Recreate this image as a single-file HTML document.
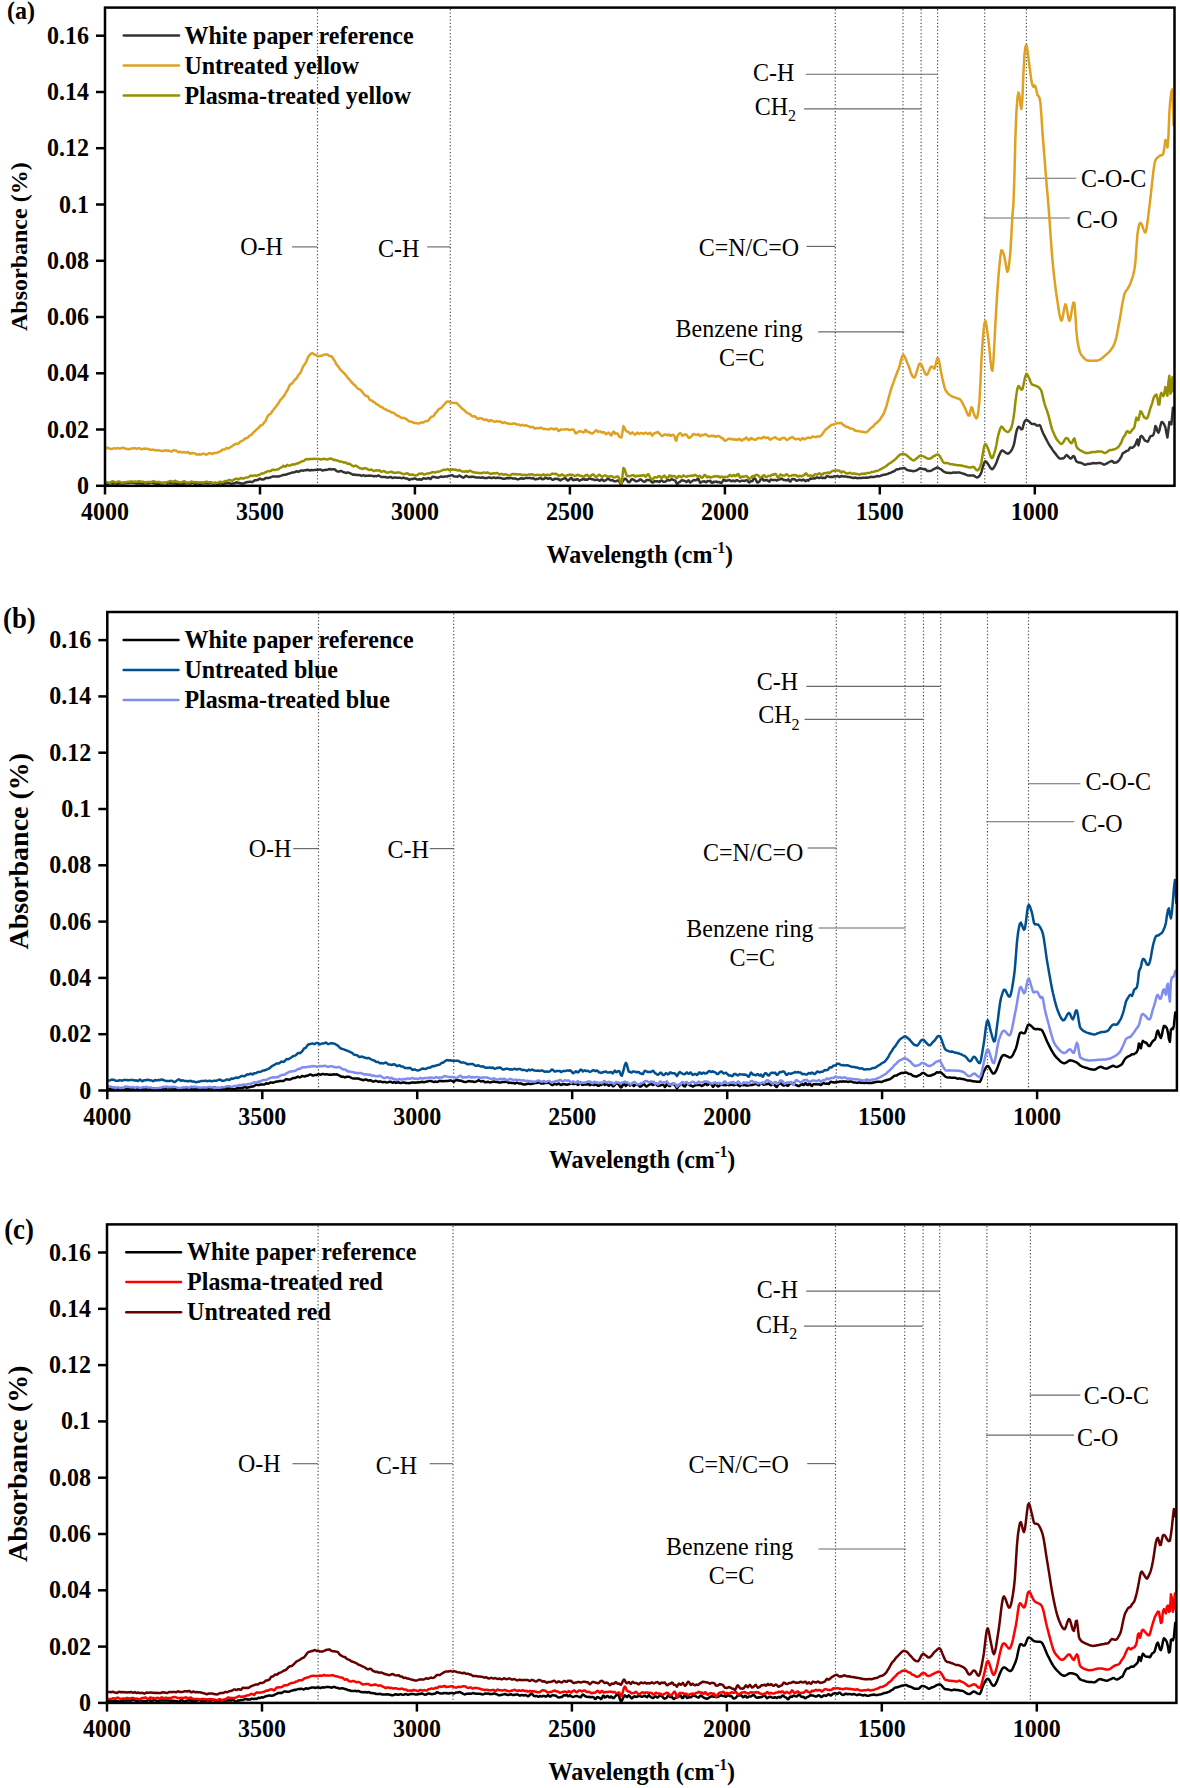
<!DOCTYPE html>
<html><head><meta charset="utf-8"><style>
html,body{margin:0;padding:0;background:#fff;}
svg{display:block;}
text{font-family:"Liberation Serif",serif;}
.b{font-weight:bold;}
</style></head><body>
<svg width="1180" height="1788" viewBox="0 0 1180 1788">
<rect width="1180" height="1788" fill="#fff"/>
<line x1="317.5" y1="9.1" x2="317.5" y2="484.3" stroke="#555" stroke-width="1.2" stroke-dasharray="1.3 2.1"/>
<line x1="450.3" y1="9.1" x2="450.3" y2="484.3" stroke="#555" stroke-width="1.2" stroke-dasharray="1.3 2.1"/>
<line x1="835.3" y1="9.1" x2="835.3" y2="484.3" stroke="#555" stroke-width="1.2" stroke-dasharray="1.3 2.1"/>
<line x1="903.0" y1="9.1" x2="903.0" y2="484.3" stroke="#555" stroke-width="1.2" stroke-dasharray="1.3 2.1"/>
<line x1="921.1" y1="9.1" x2="921.1" y2="484.3" stroke="#555" stroke-width="1.2" stroke-dasharray="1.3 2.1"/>
<line x1="937.6" y1="9.1" x2="937.6" y2="484.3" stroke="#555" stroke-width="1.2" stroke-dasharray="1.3 2.1"/>
<line x1="984.7" y1="9.1" x2="984.7" y2="484.3" stroke="#555" stroke-width="1.2" stroke-dasharray="1.3 2.1"/>
<line x1="1026.4" y1="9.1" x2="1026.4" y2="484.3" stroke="#555" stroke-width="1.2" stroke-dasharray="1.3 2.1"/>
<line x1="292.0" y1="246.9" x2="317.5" y2="246.9" stroke="#6a6a6a" stroke-width="1.15"/>
<line x1="427.2" y1="246.9" x2="450.3" y2="246.9" stroke="#6a6a6a" stroke-width="1.15"/>
<line x1="805.8" y1="74.2" x2="937.9" y2="74.2" stroke="#6a6a6a" stroke-width="1.15"/>
<line x1="804.0" y1="108.9" x2="921.2" y2="108.9" stroke="#6a6a6a" stroke-width="1.15"/>
<line x1="1025.6" y1="178.2" x2="1076.3" y2="178.2" stroke="#6a6a6a" stroke-width="1.15"/>
<line x1="983.7" y1="218.0" x2="1069.8" y2="218.0" stroke="#6a6a6a" stroke-width="1.15"/>
<line x1="806.5" y1="246.4" x2="835.3" y2="246.4" stroke="#6a6a6a" stroke-width="1.15"/>
<line x1="818.2" y1="331.9" x2="904.2" y2="331.9" stroke="#6a6a6a" stroke-width="1.15"/>
<g fill="none" stroke-width="2.5" stroke-linejoin="round" stroke-linecap="round">
<path stroke="#333333" d="M106.4 483.5 L107.4 484.0 L108.4 483.9 L109.4 483.3 L110.4 483.0 L111.4 483.2 L112.4 483.4 L113.4 483.5 L114.4 483.2 L115.4 483.1 L116.4 483.5 L117.4 483.7 L118.4 483.5 L119.4 483.3 L120.4 483.2 L121.4 483.5 L122.4 483.6 L123.4 483.3 L124.4 483.3 L125.4 483.4 L126.4 482.9 L127.4 482.7 L128.4 483.1 L129.4 482.8 L130.4 482.4 L131.4 482.6 L132.4 482.8 L133.4 482.5 L134.4 482.6 L135.4 483.2 L136.4 483.6 L137.4 483.2 L138.4 483.1 L139.4 483.4 L140.4 483.6 L141.4 483.4 L142.4 483.6 L143.4 483.7 L144.4 483.3 L145.4 483.0 L146.4 483.3 L147.4 483.6 L148.4 483.5 L149.4 482.9 L150.4 482.7 L151.4 482.6 L152.4 482.6 L153.4 483.1 L154.4 483.4 L155.4 483.4 L156.4 483.8 L157.4 483.9 L158.4 483.7 L159.4 483.7 L160.4 483.5 L161.4 483.1 L162.4 483.4 L163.4 483.3 L164.4 482.8 L165.4 483.1 L166.4 483.4 L167.4 483.5 L168.4 483.3 L169.4 483.3 L170.4 483.3 L171.4 483.2 L172.4 483.3 L173.4 483.5 L174.4 483.4 L175.4 483.4 L176.4 483.7 L177.4 483.7 L178.4 483.5 L179.4 483.7 L180.4 484.2 L181.4 483.9 L182.4 483.2 L183.4 483.4 L184.4 483.6 L185.4 483.2 L186.4 483.2 L187.4 483.3 L188.4 483.2 L189.4 483.5 L190.4 483.6 L191.4 482.9 L192.4 482.7 L193.4 482.8 L194.4 483.4 L195.4 484.2 L196.4 484.0 L197.4 482.9 L198.4 482.9 L199.4 483.7 L200.4 484.0 L201.4 483.6 L202.4 483.2 L203.4 483.3 L204.4 483.3 L205.4 483.1 L206.4 483.1 L207.4 483.4 L208.4 483.5 L209.4 483.3 L210.4 483.0 L211.4 482.7 L212.4 483.1 L213.4 483.6 L214.4 483.2 L215.4 483.0 L216.4 483.6 L217.4 484.1 L218.4 484.1 L219.4 483.6 L220.4 482.9 L221.4 482.9 L222.4 484.0 L223.4 484.3 L224.4 483.3 L225.4 483.0 L226.4 483.3 L227.4 483.1 L228.4 483.0 L229.4 483.2 L230.4 483.5 L231.4 483.7 L232.4 483.6 L233.4 483.5 L234.4 483.3 L235.4 482.8 L236.4 482.2 L237.4 482.4 L238.4 483.0 L239.4 483.1 L240.4 483.2 L241.4 483.5 L242.4 483.6 L243.4 483.5 L244.4 483.2 L245.4 482.7 L246.4 482.2 L247.4 482.0 L248.4 481.9 L249.4 481.8 L250.4 481.8 L251.4 482.0 L252.4 482.0 L253.4 481.4 L254.4 480.5 L255.4 480.3 L256.4 480.3 L257.4 480.1 L258.4 479.6 L259.4 478.8 L260.4 478.8 L261.4 479.3 L262.4 479.4 L263.4 479.4 L264.4 479.0 L265.4 478.1 L266.4 477.9 L267.4 478.0 L268.4 477.9 L269.4 477.7 L270.4 477.5 L271.4 477.0 L272.4 476.5 L273.4 476.4 L274.4 476.5 L275.4 476.4 L276.4 476.4 L277.4 476.6 L278.4 476.6 L279.4 476.3 L280.4 475.9 L281.4 475.6 L282.4 475.2 L283.4 474.9 L284.4 474.8 L285.4 474.7 L286.4 474.6 L287.4 474.1 L288.4 473.7 L289.4 473.6 L290.4 473.2 L291.4 472.8 L292.4 472.6 L293.4 472.5 L294.4 472.3 L295.4 471.9 L296.4 471.3 L297.4 471.5 L298.4 471.8 L299.4 471.4 L300.4 470.7 L301.4 470.4 L302.4 470.5 L303.4 470.7 L304.4 470.3 L305.4 470.3 L306.4 470.2 L307.4 469.7 L308.4 470.0 L309.4 470.4 L310.4 470.2 L311.4 470.1 L312.4 470.2 L313.4 470.1 L314.4 469.9 L315.4 469.9 L316.4 469.8 L317.4 469.7 L318.4 469.8 L319.4 469.6 L320.4 469.4 L321.4 470.0 L322.4 470.6 L323.4 470.3 L324.4 469.9 L325.4 469.9 L326.4 469.7 L327.4 469.7 L328.4 469.4 L329.4 469.0 L330.4 469.3 L331.4 469.5 L332.4 469.3 L333.4 469.2 L334.4 469.3 L335.4 469.9 L336.4 471.0 L337.4 471.5 L338.4 471.4 L339.4 471.5 L340.4 471.1 L341.4 470.9 L342.4 471.6 L343.4 472.2 L344.4 472.3 L345.4 472.7 L346.4 472.9 L347.4 472.5 L348.4 472.5 L349.4 473.0 L350.4 473.4 L351.4 473.8 L352.4 474.5 L353.4 474.8 L354.4 474.5 L355.4 474.7 L356.4 475.0 L357.4 475.1 L358.4 475.1 L359.4 474.9 L360.4 475.4 L361.4 475.9 L362.4 475.6 L363.4 475.2 L364.4 475.6 L365.4 476.0 L366.4 475.7 L367.4 475.7 L368.4 475.8 L369.4 475.6 L370.4 475.7 L371.4 475.7 L372.4 475.7 L373.4 476.3 L374.4 476.2 L375.4 475.9 L376.4 476.2 L377.4 475.9 L378.4 475.5 L379.4 475.9 L380.4 476.6 L381.4 476.9 L382.4 476.9 L383.4 476.9 L384.4 477.0 L385.4 477.1 L386.4 477.4 L387.4 477.4 L388.4 477.4 L389.4 477.3 L390.4 476.9 L391.4 477.2 L392.4 477.9 L393.4 477.8 L394.4 477.6 L395.4 477.6 L396.4 477.7 L397.4 477.7 L398.4 477.7 L399.4 477.7 L400.4 477.8 L401.4 478.2 L402.4 478.0 L403.4 477.6 L404.4 478.0 L405.4 478.4 L406.4 478.4 L407.4 478.4 L408.4 479.4 L409.4 480.0 L410.4 479.2 L411.4 478.9 L412.4 479.1 L413.4 478.9 L414.4 478.4 L415.4 478.6 L416.4 479.1 L417.4 479.5 L418.4 479.6 L419.4 479.1 L420.4 479.5 L421.4 479.8 L422.4 478.9 L423.4 478.3 L424.4 478.5 L425.4 478.6 L426.4 478.7 L427.4 478.3 L428.4 477.9 L429.4 478.4 L430.4 479.1 L431.4 478.1 L432.4 476.8 L433.4 476.8 L434.4 477.1 L435.4 477.2 L436.4 477.4 L437.4 477.7 L438.4 477.6 L439.4 477.2 L440.4 476.8 L441.4 476.5 L442.4 476.7 L443.4 476.9 L444.4 476.6 L445.4 476.4 L446.4 476.6 L447.4 476.4 L448.4 476.0 L449.4 475.7 L450.4 475.7 L451.4 475.3 L452.4 475.2 L453.4 476.1 L454.4 476.5 L455.4 476.4 L456.4 476.6 L457.4 476.7 L458.4 476.1 L459.4 475.5 L460.4 476.0 L461.4 476.8 L462.4 477.4 L463.4 477.7 L464.4 477.2 L465.4 476.1 L466.4 475.8 L467.4 476.5 L468.4 477.0 L469.4 477.1 L470.4 477.0 L471.4 476.7 L472.4 476.6 L473.4 476.9 L474.4 477.1 L475.4 477.3 L476.4 477.4 L477.4 477.4 L478.4 477.4 L479.4 477.6 L480.4 477.8 L481.4 477.7 L482.4 477.3 L483.4 477.6 L484.4 478.1 L485.4 478.1 L486.4 478.1 L487.4 478.0 L488.4 477.5 L489.4 477.5 L490.4 477.8 L491.4 478.1 L492.4 478.0 L493.4 477.5 L494.4 477.5 L495.4 478.1 L496.4 478.1 L497.4 477.6 L498.4 477.7 L499.4 478.0 L500.4 478.1 L501.4 478.1 L502.4 478.5 L503.4 478.8 L504.4 478.7 L505.4 478.5 L506.4 478.3 L507.4 478.1 L508.4 478.3 L509.4 478.2 L510.4 478.0 L511.4 478.1 L512.4 478.4 L513.4 478.6 L514.4 478.4 L515.4 478.4 L516.4 479.0 L517.4 479.2 L518.4 479.2 L519.4 478.9 L520.4 478.5 L521.4 478.3 L522.4 478.5 L523.4 478.8 L524.4 478.5 L525.4 478.0 L526.4 478.0 L527.4 478.0 L528.4 478.1 L529.4 477.9 L530.4 477.9 L531.4 478.4 L532.4 478.3 L533.4 478.1 L534.4 479.1 L535.4 479.4 L536.4 478.9 L537.4 479.0 L538.4 478.7 L539.4 478.3 L540.4 478.2 L541.4 478.4 L542.4 479.2 L543.4 479.1 L544.4 478.5 L545.4 478.1 L546.4 478.0 L547.4 478.5 L548.4 478.8 L549.4 478.2 L550.4 478.3 L551.4 479.1 L552.4 479.8 L553.4 479.8 L554.4 478.9 L555.4 478.6 L556.4 478.9 L557.4 478.8 L558.4 479.0 L559.4 480.0 L560.4 480.4 L561.4 479.6 L562.4 479.2 L563.4 478.8 L564.4 478.2 L565.4 478.3 L566.4 479.2 L567.4 480.5 L568.4 480.4 L569.4 479.5 L570.4 478.4 L571.4 477.9 L572.4 479.5 L573.4 480.3 L574.4 479.6 L575.4 479.8 L576.4 479.6 L577.4 479.0 L578.4 480.0 L579.4 480.7 L580.4 480.1 L581.4 479.8 L582.4 479.5 L583.4 478.8 L584.4 479.5 L585.4 479.9 L586.4 479.5 L587.4 479.8 L588.4 479.0 L589.4 478.1 L590.4 478.6 L591.4 479.2 L592.4 479.3 L593.4 479.5 L594.4 479.9 L595.4 479.9 L596.4 479.7 L597.4 479.5 L598.4 479.9 L599.4 480.8 L600.4 480.5 L601.4 479.4 L602.4 479.4 L603.4 480.8 L604.4 481.0 L605.4 480.3 L606.4 479.8 L607.4 479.1 L608.4 478.7 L609.4 479.4 L610.4 480.3 L611.4 480.3 L612.4 480.1 L613.4 480.9 L614.4 481.3 L615.4 481.2 L616.4 481.1 L617.4 480.5 L618.4 480.5 L619.4 481.7 L620.4 483.8 L621.4 483.8 L622.4 481.6 L623.4 480.4 L624.4 478.9 L625.4 478.8 L626.4 479.6 L627.4 480.9 L628.4 482.1 L629.4 482.2 L630.4 481.0 L631.4 479.5 L632.4 479.3 L633.4 479.6 L634.4 480.2 L635.4 481.2 L636.4 481.2 L637.4 480.9 L638.4 480.7 L639.4 479.9 L640.4 479.4 L641.4 479.9 L642.4 480.9 L643.4 481.4 L644.4 481.8 L645.4 481.3 L646.4 480.0 L647.4 480.0 L648.4 480.3 L649.4 479.7 L650.4 480.4 L651.4 481.9 L652.4 482.5 L653.4 482.2 L654.4 481.3 L655.4 481.2 L656.4 481.6 L657.4 481.2 L658.4 481.6 L659.4 482.0 L660.4 481.0 L661.4 480.4 L662.4 481.0 L663.4 481.7 L664.4 481.7 L665.4 481.6 L666.4 481.0 L667.4 479.8 L668.4 479.9 L669.4 480.6 L670.4 480.0 L671.4 479.3 L672.4 479.4 L673.4 479.9 L674.4 480.3 L675.4 480.7 L676.4 483.1 L677.4 484.2 L678.4 482.6 L679.4 482.2 L680.4 481.5 L681.4 480.4 L682.4 480.2 L683.4 480.6 L684.4 481.0 L685.4 481.1 L686.4 482.0 L687.4 481.4 L688.4 480.2 L689.4 481.6 L690.4 482.4 L691.4 481.6 L692.4 481.0 L693.4 480.3 L694.4 480.1 L695.4 480.2 L696.4 480.3 L697.4 479.0 L698.4 478.7 L699.4 481.4 L700.4 482.8 L701.4 481.9 L702.4 481.6 L703.4 481.4 L704.4 481.2 L705.4 482.1 L706.4 482.2 L707.4 481.1 L708.4 481.2 L709.4 481.1 L710.4 480.8 L711.4 482.5 L712.4 482.8 L713.4 481.8 L714.4 482.1 L715.4 481.7 L716.4 481.6 L717.4 482.3 L718.4 482.0 L719.4 482.0 L720.4 482.8 L721.4 482.9 L722.4 481.7 L723.4 479.7 L724.4 479.8 L725.4 480.9 L726.4 480.8 L727.4 480.4 L728.4 480.2 L729.4 480.0 L730.4 480.6 L731.4 481.3 L732.4 480.8 L733.4 480.4 L734.4 481.2 L735.4 481.2 L736.4 480.3 L737.4 480.3 L738.4 480.9 L739.4 481.4 L740.4 481.2 L741.4 480.8 L742.4 480.7 L743.4 480.8 L744.4 481.0 L745.4 480.6 L746.4 480.2 L747.4 480.6 L748.4 481.9 L749.4 482.4 L750.4 481.3 L751.4 481.3 L752.4 481.1 L753.4 479.0 L754.4 478.1 L755.4 479.0 L756.4 481.0 L757.4 482.5 L758.4 482.2 L759.4 481.5 L760.4 479.9 L761.4 477.7 L762.4 478.2 L763.4 480.4 L764.4 480.5 L765.4 479.9 L766.4 480.2 L767.4 480.1 L768.4 481.2 L769.4 481.6 L770.4 479.9 L771.4 479.5 L772.4 480.1 L773.4 480.1 L774.4 480.0 L775.4 479.9 L776.4 480.4 L777.4 480.4 L778.4 479.5 L779.4 479.4 L780.4 479.2 L781.4 478.6 L782.4 479.0 L783.4 479.9 L784.4 479.9 L785.4 479.9 L786.4 480.6 L787.4 479.9 L788.4 479.4 L789.4 481.1 L790.4 481.5 L791.4 479.9 L792.4 479.0 L793.4 479.2 L794.4 479.1 L795.4 479.8 L796.4 480.8 L797.4 480.5 L798.4 480.0 L799.4 479.8 L800.4 479.9 L801.4 480.4 L802.4 480.3 L803.4 479.5 L804.4 480.2 L805.4 481.2 L806.4 480.4 L807.4 480.0 L808.4 480.6 L809.4 479.5 L810.4 478.6 L811.4 478.8 L812.4 478.4 L813.4 478.3 L814.4 478.6 L815.4 478.3 L816.4 477.6 L817.4 477.4 L818.4 477.8 L819.4 478.1 L820.4 477.4 L821.4 477.5 L822.4 478.1 L823.4 477.8 L824.4 478.0 L825.4 477.9 L826.4 476.6 L827.4 475.9 L828.4 476.5 L829.4 477.0 L830.4 476.9 L831.4 476.7 L832.4 477.0 L833.4 476.7 L834.4 476.2 L835.4 476.4 L836.4 476.3 L837.4 475.8 L838.4 476.3 L839.4 477.1 L840.4 476.7 L841.4 475.9 L842.4 476.2 L843.4 476.5 L844.4 476.5 L845.4 476.4 L846.4 476.5 L847.4 477.0 L848.4 477.0 L849.4 477.0 L850.4 477.3 L851.4 477.5 L852.4 477.8 L853.4 477.9 L854.4 477.7 L855.4 477.6 L856.4 477.9 L857.4 478.2 L858.4 478.1 L859.4 478.0 L860.4 477.9 L861.4 477.9 L862.4 477.7 L863.4 477.7 L864.4 477.8 L865.4 477.7 L866.4 477.6 L867.4 477.8 L868.4 477.6 L869.4 477.3 L870.4 477.0 L871.4 476.8 L872.4 477.0 L873.4 477.1 L874.4 476.8 L875.4 476.7 L876.4 476.3 L877.4 476.1 L878.4 476.2 L879.4 476.2 L880.4 475.9 L881.4 475.5 L882.4 475.1 L883.4 474.8 L884.4 474.7 L885.4 474.5 L886.4 474.2 L887.4 474.1 L888.4 473.5 L889.4 473.1 L890.4 473.1 L891.4 472.4 L892.4 471.7 L893.4 471.6 L894.4 471.1 L895.4 470.2 L896.4 469.5 L897.4 469.3 L898.4 469.3 L899.4 468.9 L900.4 468.4 L901.4 468.5 L902.4 468.4 L903.4 468.1 L904.4 468.1 L905.4 468.6 L906.4 469.5 L907.4 470.1 L908.4 470.2 L909.4 470.5 L910.4 470.7 L911.4 470.8 L912.4 471.1 L913.4 471.2 L914.4 471.1 L915.4 470.8 L916.4 470.4 L917.4 469.9 L918.4 469.2 L919.4 468.5 L920.4 468.2 L921.4 468.4 L922.4 468.8 L923.4 469.2 L924.4 469.1 L925.4 469.2 L926.4 470.1 L927.4 471.1 L928.4 471.1 L929.4 471.0 L930.4 470.9 L931.4 470.6 L932.4 470.0 L933.4 469.3 L934.4 468.8 L935.4 468.3 L936.4 467.8 L937.4 467.5 L938.4 467.9 L939.4 468.5 L940.4 469.0 L941.4 469.6 L942.4 470.5 L943.4 471.4 L944.4 471.8 L945.4 472.4 L946.4 472.8 L947.4 472.7 L948.4 472.7 L949.4 472.9 L950.4 473.1 L951.4 472.9 L952.4 472.8 L953.4 472.6 L954.4 472.6 L955.4 472.8 L956.4 472.6 L957.4 472.4 L958.4 472.4 L959.4 472.4 L960.4 472.8 L961.4 473.1 L962.4 473.4 L963.4 473.7 L964.4 474.0 L965.4 474.4 L966.4 474.9 L967.4 475.2 L968.4 475.4 L969.4 475.4 L970.4 475.4 L971.4 475.4 L972.4 475.5 L973.4 475.4 L974.4 475.9 L975.4 476.7 L976.4 477.3 L977.4 477.5 L978.4 477.0 L979.4 475.9 L980.4 474.6 L981.4 472.2 L982.4 468.7 L983.4 465.0 L984.4 462.3 L985.4 461.2 L986.4 461.9 L987.4 463.3 L988.4 464.7 L989.4 466.3 L990.4 467.9 L991.4 469.0 L992.4 469.2 L993.4 468.2 L994.4 466.6 L995.4 464.8 L996.4 462.7 L997.4 459.8 L998.4 457.0 L999.4 454.7 L1000.4 452.6 L1001.4 450.9 L1002.4 450.5 L1003.4 450.9 L1004.4 451.7 L1005.4 452.4 L1006.4 453.2 L1007.4 453.7 L1008.4 453.6 L1009.4 452.8 L1010.4 451.8 L1011.4 450.5 L1012.4 448.6 L1013.4 446.2 L1014.4 442.6 L1015.4 436.8 L1016.4 431.5 L1017.4 428.7 L1018.4 426.8 L1019.4 426.9 L1020.4 428.2 L1021.4 429.4 L1022.4 429.0 L1023.4 425.2 L1024.4 422.0 L1025.4 420.5 L1026.4 419.8 L1027.4 420.2 L1028.4 421.0 L1029.4 421.8 L1030.4 422.8 L1031.4 423.7 L1032.4 423.9 L1033.4 424.0 L1034.4 424.0 L1035.4 424.4 L1036.4 425.4 L1037.4 425.7 L1038.4 425.4 L1039.4 425.1 L1040.4 425.9 L1041.4 428.8 L1042.4 431.6 L1043.4 433.8 L1044.4 435.7 L1045.4 437.6 L1046.4 439.6 L1047.4 441.5 L1048.4 443.3 L1049.4 445.1 L1050.4 446.6 L1051.4 448.0 L1052.4 449.6 L1053.4 451.1 L1054.4 452.4 L1055.4 453.6 L1056.4 454.9 L1057.4 456.3 L1058.4 457.5 L1059.4 458.3 L1060.4 458.7 L1061.4 458.6 L1062.4 458.5 L1063.4 458.2 L1064.4 457.6 L1065.4 456.1 L1066.4 455.1 L1067.4 455.5 L1068.4 456.6 L1069.4 457.7 L1070.4 458.5 L1071.4 458.2 L1072.4 457.0 L1073.4 456.0 L1074.4 456.7 L1075.4 459.2 L1076.4 461.4 L1077.4 462.0 L1078.4 462.4 L1079.4 462.6 L1080.4 462.8 L1081.4 463.0 L1082.4 463.4 L1083.4 464.1 L1084.4 464.6 L1085.4 464.7 L1086.4 464.4 L1087.4 464.0 L1088.4 463.9 L1089.4 463.8 L1090.4 463.7 L1091.4 463.5 L1092.4 463.2 L1093.4 463.1 L1094.4 463.2 L1095.4 463.2 L1096.4 463.2 L1097.4 463.2 L1098.4 463.1 L1099.4 463.0 L1100.4 463.0 L1101.4 463.4 L1102.4 463.9 L1103.4 464.4 L1104.4 464.5 L1105.4 464.2 L1106.4 463.7 L1107.4 463.1 L1108.4 462.5 L1109.4 462.0 L1110.4 461.5 L1111.4 461.1 L1112.4 461.1 L1113.4 462.3 L1114.4 462.8 L1115.4 462.6 L1116.4 462.5 L1117.4 461.9 L1118.4 460.8 L1119.4 459.8 L1120.4 458.1 L1121.4 456.7 L1122.4 453.9 L1123.4 452.7 L1124.4 452.6 L1125.4 451.8 L1126.4 451.0 L1127.4 450.7 L1128.4 450.3 L1129.4 448.6 L1130.4 447.4 L1131.4 447.7 L1132.4 447.7 L1133.4 447.0 L1134.4 446.1 L1135.4 444.5 L1136.4 441.9 L1137.4 439.5 L1138.4 445.4 L1139.4 441.8 L1140.4 436.8 L1141.4 435.9 L1142.4 436.6 L1143.4 438.2 L1144.4 440.0 L1145.4 440.8 L1146.4 441.1 L1147.4 441.8 L1148.4 440.9 L1149.4 438.1 L1150.4 436.4 L1151.4 435.9 L1152.4 435.7 L1153.4 435.0 L1154.4 431.2 L1155.4 425.9 L1156.4 427.4 L1157.4 431.1 L1158.4 432.7 L1159.4 430.4 L1160.4 425.8 L1161.4 422.3 L1162.4 422.1 L1163.4 423.1 L1164.4 425.0 L1165.4 427.4 L1166.4 432.9 L1167.4 437.5 L1168.4 429.6 L1169.4 422.1 L1170.4 423.3 L1171.4 424.3 L1172.4 413.9 L1172.9 407.8"/>
<path stroke="#969000" d="M106.4 482.2 L107.4 482.5 L108.4 482.6 L109.4 482.7 L110.4 482.5 L111.4 481.7 L112.4 481.3 L113.4 481.4 L114.4 481.9 L115.4 482.3 L116.4 482.2 L117.4 481.8 L118.4 481.4 L119.4 481.5 L120.4 482.0 L121.4 482.6 L122.4 482.7 L123.4 482.4 L124.4 482.2 L125.4 482.3 L126.4 482.2 L127.4 481.8 L128.4 481.7 L129.4 481.7 L130.4 481.6 L131.4 481.5 L132.4 481.6 L133.4 481.7 L134.4 481.8 L135.4 481.6 L136.4 481.8 L137.4 481.7 L138.4 481.3 L139.4 481.3 L140.4 481.5 L141.4 481.8 L142.4 481.8 L143.4 481.7 L144.4 482.1 L145.4 482.6 L146.4 482.2 L147.4 481.9 L148.4 482.1 L149.4 482.1 L150.4 482.1 L151.4 482.1 L152.4 481.5 L153.4 481.0 L154.4 481.5 L155.4 481.9 L156.4 481.9 L157.4 482.1 L158.4 482.1 L159.4 482.0 L160.4 482.4 L161.4 482.8 L162.4 482.7 L163.4 482.6 L164.4 482.8 L165.4 482.8 L166.4 482.3 L167.4 481.9 L168.4 481.9 L169.4 481.3 L170.4 480.9 L171.4 481.3 L172.4 481.9 L173.4 481.8 L174.4 481.0 L175.4 480.8 L176.4 481.3 L177.4 481.7 L178.4 481.9 L179.4 482.3 L180.4 482.4 L181.4 482.2 L182.4 481.9 L183.4 481.4 L184.4 481.3 L185.4 481.9 L186.4 482.4 L187.4 482.5 L188.4 482.5 L189.4 482.6 L190.4 482.2 L191.4 481.5 L192.4 481.7 L193.4 482.3 L194.4 482.2 L195.4 482.0 L196.4 482.3 L197.4 482.3 L198.4 482.2 L199.4 482.6 L200.4 482.5 L201.4 482.2 L202.4 482.6 L203.4 482.6 L204.4 482.2 L205.4 481.9 L206.4 481.6 L207.4 482.0 L208.4 482.4 L209.4 482.3 L210.4 482.3 L211.4 482.5 L212.4 482.8 L213.4 482.9 L214.4 482.7 L215.4 482.5 L216.4 482.9 L217.4 483.1 L218.4 482.5 L219.4 481.9 L220.4 481.7 L221.4 482.1 L222.4 482.3 L223.4 482.0 L224.4 481.3 L225.4 480.9 L226.4 481.2 L227.4 481.1 L228.4 480.2 L229.4 479.9 L230.4 480.2 L231.4 480.6 L232.4 480.7 L233.4 480.0 L234.4 479.3 L235.4 479.1 L236.4 478.6 L237.4 478.9 L238.4 479.4 L239.4 479.0 L240.4 478.2 L241.4 478.0 L242.4 478.4 L243.4 478.5 L244.4 478.1 L245.4 477.7 L246.4 477.6 L247.4 477.4 L248.4 477.1 L249.4 476.6 L250.4 475.8 L251.4 475.6 L252.4 475.9 L253.4 475.7 L254.4 475.4 L255.4 475.6 L256.4 475.8 L257.4 475.4 L258.4 475.0 L259.4 474.8 L260.4 474.2 L261.4 473.5 L262.4 473.5 L263.4 473.4 L264.4 472.7 L265.4 472.3 L266.4 472.0 L267.4 471.4 L268.4 471.1 L269.4 471.2 L270.4 471.1 L271.4 470.6 L272.4 469.8 L273.4 469.7 L274.4 469.9 L275.4 469.9 L276.4 469.6 L277.4 469.4 L278.4 469.2 L279.4 468.5 L280.4 467.8 L281.4 467.4 L282.4 466.7 L283.4 465.8 L284.4 466.1 L285.4 466.7 L286.4 465.8 L287.4 464.8 L288.4 465.3 L289.4 465.7 L290.4 465.4 L291.4 464.8 L292.4 464.4 L293.4 464.3 L294.4 464.5 L295.4 464.1 L296.4 463.6 L297.4 463.5 L298.4 463.2 L299.4 462.5 L300.4 462.1 L301.4 461.6 L302.4 461.2 L303.4 461.1 L304.4 460.5 L305.4 459.6 L306.4 458.9 L307.4 459.1 L308.4 459.5 L309.4 459.1 L310.4 458.9 L311.4 459.0 L312.4 459.1 L313.4 459.1 L314.4 458.7 L315.4 458.7 L316.4 458.9 L317.4 459.0 L318.4 458.9 L319.4 458.9 L320.4 459.3 L321.4 459.6 L322.4 459.2 L323.4 458.8 L324.4 458.9 L325.4 459.1 L326.4 459.4 L327.4 459.6 L328.4 459.1 L329.4 458.7 L330.4 458.6 L331.4 458.7 L332.4 459.2 L333.4 459.9 L334.4 459.8 L335.4 460.0 L336.4 460.4 L337.4 460.4 L338.4 460.9 L339.4 461.6 L340.4 461.6 L341.4 461.6 L342.4 461.9 L343.4 462.4 L344.4 462.6 L345.4 462.4 L346.4 462.9 L347.4 463.7 L348.4 463.7 L349.4 463.8 L350.4 464.4 L351.4 465.0 L352.4 465.9 L353.4 466.4 L354.4 466.0 L355.4 465.6 L356.4 465.9 L357.4 466.5 L358.4 467.3 L359.4 468.0 L360.4 468.2 L361.4 468.7 L362.4 468.9 L363.4 468.5 L364.4 468.2 L365.4 468.2 L366.4 468.5 L367.4 469.2 L368.4 469.7 L369.4 470.0 L370.4 469.7 L371.4 469.4 L372.4 470.1 L373.4 471.0 L374.4 471.0 L375.4 470.4 L376.4 470.3 L377.4 470.6 L378.4 470.4 L379.4 470.3 L380.4 471.1 L381.4 472.0 L382.4 471.5 L383.4 471.0 L384.4 471.3 L385.4 471.9 L386.4 472.5 L387.4 472.6 L388.4 472.5 L389.4 472.3 L390.4 472.1 L391.4 471.8 L392.4 472.0 L393.4 472.8 L394.4 472.9 L395.4 472.8 L396.4 472.7 L397.4 472.6 L398.4 472.5 L399.4 472.4 L400.4 472.8 L401.4 473.4 L402.4 473.7 L403.4 473.9 L404.4 474.0 L405.4 473.9 L406.4 473.5 L407.4 473.2 L408.4 473.8 L409.4 474.7 L410.4 474.8 L411.4 474.7 L412.4 474.5 L413.4 474.7 L414.4 475.3 L415.4 475.4 L416.4 475.3 L417.4 475.0 L418.4 474.2 L419.4 473.7 L420.4 473.8 L421.4 473.4 L422.4 473.4 L423.4 474.3 L424.4 474.5 L425.4 474.2 L426.4 473.8 L427.4 473.6 L428.4 473.5 L429.4 473.3 L430.4 473.1 L431.4 472.6 L432.4 472.0 L433.4 472.2 L434.4 472.3 L435.4 472.4 L436.4 472.2 L437.4 471.7 L438.4 471.7 L439.4 471.6 L440.4 470.9 L441.4 470.7 L442.4 470.3 L443.4 469.7 L444.4 469.8 L445.4 470.0 L446.4 469.5 L447.4 469.0 L448.4 469.4 L449.4 470.2 L450.4 470.2 L451.4 469.6 L452.4 469.3 L453.4 469.6 L454.4 469.7 L455.4 469.6 L456.4 469.9 L457.4 470.5 L458.4 470.4 L459.4 470.0 L460.4 470.6 L461.4 471.3 L462.4 471.4 L463.4 471.4 L464.4 471.7 L465.4 471.5 L466.4 471.0 L467.4 471.7 L468.4 471.7 L469.4 470.7 L470.4 470.7 L471.4 471.4 L472.4 471.9 L473.4 472.3 L474.4 472.4 L475.4 472.4 L476.4 472.7 L477.4 472.8 L478.4 472.9 L479.4 473.1 L480.4 473.1 L481.4 473.2 L482.4 473.0 L483.4 472.5 L484.4 472.6 L485.4 472.9 L486.4 472.7 L487.4 472.4 L488.4 472.8 L489.4 473.4 L490.4 473.8 L491.4 473.9 L492.4 473.5 L493.4 473.2 L494.4 473.3 L495.4 473.4 L496.4 473.1 L497.4 473.1 L498.4 473.8 L499.4 474.5 L500.4 474.3 L501.4 473.8 L502.4 474.1 L503.4 474.7 L504.4 474.5 L505.4 474.3 L506.4 474.4 L507.4 474.8 L508.4 475.3 L509.4 475.4 L510.4 475.1 L511.4 474.5 L512.4 474.1 L513.4 474.0 L514.4 474.2 L515.4 474.1 L516.4 474.3 L517.4 474.6 L518.4 474.5 L519.4 474.3 L520.4 474.3 L521.4 474.9 L522.4 475.2 L523.4 474.8 L524.4 474.7 L525.4 474.9 L526.4 475.0 L527.4 474.9 L528.4 474.6 L529.4 474.5 L530.4 474.4 L531.4 474.2 L532.4 474.4 L533.4 474.9 L534.4 474.9 L535.4 475.2 L536.4 475.1 L537.4 474.8 L538.4 475.0 L539.4 474.9 L540.4 475.4 L541.4 475.6 L542.4 474.8 L543.4 474.2 L544.4 474.9 L545.4 475.8 L546.4 475.1 L547.4 474.5 L548.4 475.1 L549.4 475.2 L550.4 474.8 L551.4 474.0 L552.4 473.5 L553.4 473.9 L554.4 474.0 L555.4 473.7 L556.4 473.9 L557.4 474.6 L558.4 475.5 L559.4 475.9 L560.4 475.5 L561.4 474.7 L562.4 474.4 L563.4 475.2 L564.4 475.9 L565.4 476.0 L566.4 475.5 L567.4 475.3 L568.4 475.2 L569.4 474.6 L570.4 474.8 L571.4 475.1 L572.4 474.7 L573.4 475.2 L574.4 475.9 L575.4 475.9 L576.4 475.4 L577.4 474.8 L578.4 474.9 L579.4 475.4 L580.4 475.9 L581.4 475.9 L582.4 476.2 L583.4 476.9 L584.4 476.4 L585.4 475.3 L586.4 475.0 L587.4 475.1 L588.4 475.7 L589.4 476.7 L590.4 476.4 L591.4 475.3 L592.4 474.6 L593.4 474.5 L594.4 475.5 L595.4 476.8 L596.4 476.7 L597.4 476.0 L598.4 475.1 L599.4 474.7 L600.4 475.5 L601.4 476.4 L602.4 476.7 L603.4 476.0 L604.4 475.5 L605.4 475.6 L606.4 476.0 L607.4 476.8 L608.4 476.8 L609.4 476.5 L610.4 476.3 L611.4 476.1 L612.4 476.4 L613.4 477.1 L614.4 477.6 L615.4 477.2 L616.4 476.7 L617.4 476.5 L618.4 476.8 L619.4 479.1 L620.4 481.9 L621.4 484.0 L622.4 476.7 L623.4 467.9 L624.4 468.7 L625.4 471.9 L626.4 474.9 L627.4 476.3 L628.4 475.9 L629.4 476.3 L630.4 476.1 L631.4 475.4 L632.4 475.4 L633.4 475.1 L634.4 475.6 L635.4 476.7 L636.4 476.0 L637.4 475.7 L638.4 476.2 L639.4 475.7 L640.4 475.5 L641.4 475.8 L642.4 475.6 L643.4 474.9 L644.4 475.4 L645.4 476.7 L646.4 475.9 L647.4 474.4 L648.4 474.2 L649.4 476.0 L650.4 477.9 L651.4 479.0 L652.4 479.6 L653.4 478.7 L654.4 477.3 L655.4 477.2 L656.4 477.6 L657.4 477.1 L658.4 476.3 L659.4 475.9 L660.4 477.0 L661.4 478.1 L662.4 477.4 L663.4 476.0 L664.4 475.5 L665.4 476.9 L666.4 477.9 L667.4 477.9 L668.4 477.0 L669.4 475.6 L670.4 475.5 L671.4 476.5 L672.4 476.5 L673.4 475.9 L674.4 476.0 L675.4 476.7 L676.4 478.3 L677.4 477.9 L678.4 476.0 L679.4 475.9 L680.4 476.7 L681.4 477.3 L682.4 476.3 L683.4 475.4 L684.4 476.0 L685.4 476.5 L686.4 476.8 L687.4 476.5 L688.4 475.9 L689.4 476.1 L690.4 476.0 L691.4 475.4 L692.4 475.7 L693.4 475.9 L694.4 475.0 L695.4 474.9 L696.4 475.7 L697.4 476.4 L698.4 476.3 L699.4 475.8 L700.4 476.4 L701.4 477.6 L702.4 477.7 L703.4 476.4 L704.4 475.0 L705.4 475.2 L706.4 476.8 L707.4 477.4 L708.4 476.6 L709.4 476.8 L710.4 477.6 L711.4 477.3 L712.4 476.8 L713.4 476.8 L714.4 476.3 L715.4 475.9 L716.4 476.5 L717.4 476.5 L718.4 476.1 L719.4 477.2 L720.4 477.6 L721.4 476.4 L722.4 476.8 L723.4 477.5 L724.4 477.0 L725.4 476.7 L726.4 476.9 L727.4 477.0 L728.4 476.2 L729.4 475.3 L730.4 475.1 L731.4 476.1 L732.4 476.2 L733.4 475.0 L734.4 475.3 L735.4 476.2 L736.4 475.7 L737.4 474.3 L738.4 474.1 L739.4 476.4 L740.4 477.7 L741.4 476.8 L742.4 476.6 L743.4 476.7 L744.4 476.4 L745.4 476.3 L746.4 476.0 L747.4 476.5 L748.4 478.8 L749.4 479.3 L750.4 478.1 L751.4 477.3 L752.4 476.1 L753.4 476.1 L754.4 476.5 L755.4 475.2 L756.4 474.8 L757.4 475.1 L758.4 475.4 L759.4 476.9 L760.4 477.4 L761.4 476.8 L762.4 476.3 L763.4 475.3 L764.4 475.3 L765.4 476.7 L766.4 477.1 L767.4 476.5 L768.4 475.8 L769.4 476.1 L770.4 476.3 L771.4 475.1 L772.4 474.6 L773.4 474.7 L774.4 474.1 L775.4 474.0 L776.4 475.0 L777.4 476.9 L778.4 477.7 L779.4 476.2 L780.4 474.5 L781.4 474.7 L782.4 475.4 L783.4 475.4 L784.4 475.5 L785.4 475.2 L786.4 474.2 L787.4 474.6 L788.4 475.8 L789.4 476.3 L790.4 476.1 L791.4 475.6 L792.4 475.2 L793.4 475.0 L794.4 475.2 L795.4 475.0 L796.4 475.2 L797.4 476.4 L798.4 476.5 L799.4 475.7 L800.4 476.0 L801.4 476.4 L802.4 475.9 L803.4 475.5 L804.4 474.9 L805.4 473.6 L806.4 473.6 L807.4 474.9 L808.4 475.7 L809.4 475.7 L810.4 475.3 L811.4 475.6 L812.4 476.4 L813.4 476.0 L814.4 474.6 L815.4 474.2 L816.4 474.6 L817.4 474.4 L818.4 473.7 L819.4 473.3 L820.4 474.0 L821.4 475.0 L822.4 474.5 L823.4 473.5 L824.4 473.1 L825.4 473.2 L826.4 473.1 L827.4 472.5 L828.4 472.6 L829.4 473.2 L830.4 472.6 L831.4 471.6 L832.4 471.0 L833.4 470.8 L834.4 470.7 L835.4 470.8 L836.4 470.6 L837.4 470.5 L838.4 470.6 L839.4 470.8 L840.4 471.7 L841.4 472.4 L842.4 471.6 L843.4 471.4 L844.4 472.1 L845.4 472.8 L846.4 473.3 L847.4 473.4 L848.4 473.2 L849.4 472.8 L850.4 472.9 L851.4 473.4 L852.4 473.7 L853.4 473.6 L854.4 473.5 L855.4 473.7 L856.4 474.0 L857.4 474.1 L858.4 474.4 L859.4 474.6 L860.4 474.3 L861.4 473.8 L862.4 473.8 L863.4 473.7 L864.4 473.6 L865.4 473.7 L866.4 473.4 L867.4 472.9 L868.4 472.9 L869.4 472.9 L870.4 472.6 L871.4 472.1 L872.4 471.9 L873.4 471.9 L874.4 471.6 L875.4 471.0 L876.4 470.9 L877.4 471.0 L878.4 470.5 L879.4 469.8 L880.4 469.4 L881.4 468.9 L882.4 468.2 L883.4 467.7 L884.4 467.3 L885.4 466.6 L886.4 465.9 L887.4 465.1 L888.4 464.1 L889.4 463.5 L890.4 463.0 L891.4 462.2 L892.4 461.5 L893.4 460.8 L894.4 460.0 L895.4 459.1 L896.4 458.1 L897.4 457.1 L898.4 456.0 L899.4 455.1 L900.4 454.5 L901.4 454.2 L902.4 453.9 L903.4 454.0 L904.4 454.2 L905.4 454.5 L906.4 455.1 L907.4 455.9 L908.4 456.7 L909.4 457.6 L910.4 458.6 L911.4 459.3 L912.4 459.8 L913.4 460.5 L914.4 460.3 L915.4 459.3 L916.4 458.5 L917.4 457.7 L918.4 456.9 L919.4 456.1 L920.4 455.6 L921.4 455.8 L922.4 456.1 L923.4 456.4 L924.4 456.8 L925.4 457.4 L926.4 458.0 L927.4 458.6 L928.4 458.8 L929.4 458.8 L930.4 458.4 L931.4 457.9 L932.4 457.2 L933.4 456.3 L934.4 455.9 L935.4 455.5 L936.4 454.8 L937.4 454.4 L938.4 454.7 L939.4 455.6 L940.4 457.2 L941.4 459.0 L942.4 460.8 L943.4 462.4 L944.4 463.0 L945.4 463.0 L946.4 463.1 L947.4 463.2 L948.4 463.2 L949.4 463.8 L950.4 464.3 L951.4 464.3 L952.4 464.3 L953.4 464.6 L954.4 464.7 L955.4 464.7 L956.4 465.0 L957.4 465.2 L958.4 465.2 L959.4 465.2 L960.4 465.4 L961.4 465.6 L962.4 465.8 L963.4 466.1 L964.4 466.3 L965.4 466.4 L966.4 466.7 L967.4 467.1 L968.4 467.3 L969.4 467.4 L970.4 467.4 L971.4 467.2 L972.4 466.9 L973.4 466.8 L974.4 467.6 L975.4 468.8 L976.4 469.9 L977.4 470.4 L978.4 469.8 L979.4 468.3 L980.4 466.4 L981.4 462.3 L982.4 456.3 L983.4 450.2 L984.4 445.6 L985.4 444.0 L986.4 445.1 L987.4 447.3 L988.4 449.7 L989.4 452.7 L990.4 455.8 L991.4 458.0 L992.4 457.9 L993.4 455.9 L994.4 452.9 L995.4 449.5 L996.4 444.9 L997.4 439.3 L998.4 434.6 L999.4 431.2 L1000.4 428.1 L1001.4 426.5 L1002.4 427.0 L1003.4 428.5 L1004.4 429.9 L1005.4 430.8 L1006.4 431.5 L1007.4 432.0 L1008.4 431.8 L1009.4 430.8 L1010.4 429.6 L1011.4 427.6 L1012.4 423.7 L1013.4 418.5 L1014.4 411.4 L1015.4 401.8 L1016.4 394.6 L1017.4 388.4 L1018.4 386.0 L1019.4 386.8 L1020.4 388.4 L1021.4 389.7 L1022.4 389.3 L1023.4 385.1 L1024.4 380.4 L1025.4 376.2 L1026.4 373.7 L1027.4 374.6 L1028.4 376.7 L1029.4 378.8 L1030.4 381.5 L1031.4 383.8 L1032.4 384.7 L1033.4 385.1 L1034.4 385.3 L1035.4 385.7 L1036.4 386.1 L1037.4 386.5 L1038.4 387.1 L1039.4 388.0 L1040.4 389.2 L1041.4 391.0 L1042.4 394.7 L1043.4 399.4 L1044.4 403.3 L1045.4 406.4 L1046.4 409.2 L1047.4 412.0 L1048.4 415.1 L1049.4 419.0 L1050.4 423.1 L1051.4 427.0 L1052.4 430.1 L1053.4 432.6 L1054.4 434.8 L1055.4 436.9 L1056.4 438.8 L1057.4 440.2 L1058.4 441.3 L1059.4 442.5 L1060.4 443.6 L1061.4 444.0 L1062.4 443.5 L1063.4 442.1 L1064.4 440.3 L1065.4 438.6 L1066.4 437.9 L1067.4 438.3 L1068.4 439.6 L1069.4 441.2 L1070.4 442.6 L1071.4 443.3 L1072.4 442.2 L1073.4 439.3 L1074.4 438.3 L1075.4 442.0 L1076.4 446.4 L1077.4 448.0 L1078.4 449.0 L1079.4 449.8 L1080.4 450.4 L1081.4 450.9 L1082.4 451.4 L1083.4 452.0 L1084.4 452.5 L1085.4 452.9 L1086.4 453.0 L1087.4 453.1 L1088.4 453.0 L1089.4 452.8 L1090.4 452.5 L1091.4 452.3 L1092.4 452.1 L1093.4 451.9 L1094.4 451.9 L1095.4 451.9 L1096.4 451.7 L1097.4 451.5 L1098.4 451.4 L1099.4 451.5 L1100.4 451.5 L1101.4 451.5 L1102.4 451.9 L1103.4 452.5 L1104.4 452.9 L1105.4 452.9 L1106.4 452.5 L1107.4 451.7 L1108.4 450.8 L1109.4 450.3 L1110.4 450.1 L1111.4 449.9 L1112.4 449.8 L1113.4 449.6 L1114.4 449.2 L1115.4 448.9 L1116.4 448.4 L1117.4 447.8 L1118.4 446.8 L1119.4 445.5 L1120.4 444.1 L1121.4 442.1 L1122.4 439.5 L1123.4 437.2 L1124.4 436.1 L1125.4 434.4 L1126.4 432.0 L1127.4 431.1 L1128.4 431.9 L1129.4 432.7 L1130.4 432.5 L1131.4 431.0 L1132.4 429.5 L1133.4 428.7 L1134.4 427.3 L1135.4 422.2 L1136.4 417.6 L1137.4 419.3 L1138.4 420.2 L1139.4 415.6 L1140.4 411.3 L1141.4 411.7 L1142.4 413.8 L1143.4 416.0 L1144.4 417.5 L1145.4 418.2 L1146.4 418.6 L1147.4 417.7 L1148.4 415.1 L1149.4 411.5 L1150.4 408.1 L1151.4 405.5 L1152.4 402.3 L1153.4 398.7 L1154.4 396.3 L1155.4 395.2 L1156.4 394.5 L1157.4 398.4 L1158.4 404.5 L1159.4 404.6 L1160.4 395.5 L1161.4 392.8 L1162.4 394.7 L1163.4 396.3 L1164.4 392.5 L1165.4 387.1 L1166.4 393.6 L1167.4 395.8 L1168.4 382.3 L1169.4 375.7 L1170.4 393.8 L1171.4 391.4 L1172.4 377.2 L1173.2 390.9"/>
<path stroke="#e0a020" d="M106.4 448.3 L107.4 447.6 L108.4 448.0 L109.4 448.6 L110.4 448.7 L111.4 448.9 L112.4 448.9 L113.4 448.4 L114.4 448.1 L115.4 448.4 L116.4 448.4 L117.4 448.1 L118.4 448.2 L119.4 448.5 L120.4 448.5 L121.4 448.1 L122.4 447.7 L123.4 447.8 L124.4 448.4 L125.4 448.6 L126.4 448.7 L127.4 448.9 L128.4 449.2 L129.4 449.1 L130.4 448.8 L131.4 448.6 L132.4 448.4 L133.4 448.3 L134.4 448.0 L135.4 448.4 L136.4 448.9 L137.4 448.6 L138.4 448.3 L139.4 448.2 L140.4 448.6 L141.4 449.2 L142.4 449.3 L143.4 448.7 L144.4 448.6 L145.4 448.8 L146.4 448.7 L147.4 448.7 L148.4 449.1 L149.4 449.6 L150.4 449.8 L151.4 449.8 L152.4 449.7 L153.4 449.6 L154.4 450.1 L155.4 450.4 L156.4 450.2 L157.4 450.2 L158.4 450.3 L159.4 450.6 L160.4 450.8 L161.4 450.8 L162.4 450.9 L163.4 451.0 L164.4 450.6 L165.4 450.3 L166.4 450.5 L167.4 450.7 L168.4 450.6 L169.4 450.7 L170.4 451.3 L171.4 451.7 L172.4 451.1 L173.4 450.2 L174.4 450.3 L175.4 450.7 L176.4 450.8 L177.4 451.6 L178.4 452.2 L179.4 451.9 L180.4 451.7 L181.4 452.2 L182.4 452.4 L183.4 452.3 L184.4 452.2 L185.4 452.6 L186.4 452.5 L187.4 452.0 L188.4 452.3 L189.4 453.4 L190.4 453.7 L191.4 453.2 L192.4 453.0 L193.4 453.2 L194.4 453.2 L195.4 453.8 L196.4 454.4 L197.4 454.5 L198.4 454.4 L199.4 454.2 L200.4 454.4 L201.4 454.4 L202.4 453.8 L203.4 453.7 L204.4 454.0 L205.4 454.4 L206.4 454.7 L207.4 454.2 L208.4 453.4 L209.4 453.3 L210.4 453.2 L211.4 453.5 L212.4 453.9 L213.4 453.4 L214.4 453.0 L215.4 452.9 L216.4 452.9 L217.4 452.6 L218.4 452.1 L219.4 451.8 L220.4 451.4 L221.4 450.5 L222.4 449.7 L223.4 449.5 L224.4 449.6 L225.4 448.9 L226.4 448.0 L227.4 448.2 L228.4 448.4 L229.4 447.8 L230.4 447.2 L231.4 446.7 L232.4 445.9 L233.4 445.1 L234.4 444.7 L235.4 443.9 L236.4 443.6 L237.4 444.1 L238.4 443.7 L239.4 442.5 L240.4 441.6 L241.4 441.1 L242.4 440.8 L243.4 440.2 L244.4 439.2 L245.4 438.3 L246.4 438.2 L247.4 437.9 L248.4 436.9 L249.4 435.9 L250.4 435.3 L251.4 434.7 L252.4 433.8 L253.4 432.5 L254.4 431.4 L255.4 430.7 L256.4 429.7 L257.4 428.7 L258.4 428.0 L259.4 427.0 L260.4 425.6 L261.4 425.2 L262.4 425.0 L263.4 423.5 L264.4 422.2 L265.4 421.2 L266.4 419.0 L267.4 416.6 L268.4 415.3 L269.4 414.5 L270.4 414.0 L271.4 412.7 L272.4 411.0 L273.4 409.8 L274.4 408.5 L275.4 407.2 L276.4 406.2 L277.4 404.8 L278.4 403.3 L279.4 401.6 L280.4 399.9 L281.4 398.8 L282.4 397.8 L283.4 396.6 L284.4 395.4 L285.4 393.5 L286.4 391.7 L287.4 390.2 L288.4 388.1 L289.4 385.7 L290.4 384.3 L291.4 383.9 L292.4 383.1 L293.4 381.6 L294.4 380.2 L295.4 379.3 L296.4 378.5 L297.4 376.8 L298.4 374.9 L299.4 373.9 L300.4 372.9 L301.4 370.7 L302.4 368.0 L303.4 366.1 L304.4 364.7 L305.4 363.3 L306.4 361.2 L307.4 358.6 L308.4 356.6 L309.4 355.3 L310.4 354.2 L311.4 353.4 L312.4 353.1 L313.4 353.7 L314.4 354.5 L315.4 354.8 L316.4 355.4 L317.4 356.0 L318.4 356.2 L319.4 356.1 L320.4 355.9 L321.4 355.7 L322.4 355.5 L323.4 355.0 L324.4 354.4 L325.4 354.4 L326.4 354.4 L327.4 354.6 L328.4 355.3 L329.4 356.1 L330.4 356.3 L331.4 356.2 L332.4 357.4 L333.4 359.2 L334.4 360.4 L335.4 362.2 L336.4 364.4 L337.4 365.6 L338.4 366.5 L339.4 368.2 L340.4 369.7 L341.4 370.7 L342.4 371.7 L343.4 372.6 L344.4 373.5 L345.4 374.7 L346.4 375.9 L347.4 377.4 L348.4 378.5 L349.4 379.4 L350.4 380.8 L351.4 382.0 L352.4 383.0 L353.4 384.1 L354.4 384.9 L355.4 385.8 L356.4 387.0 L357.4 388.2 L358.4 388.9 L359.4 389.2 L360.4 389.9 L361.4 390.9 L362.4 392.1 L363.4 393.5 L364.4 394.6 L365.4 395.7 L366.4 396.0 L367.4 395.9 L368.4 397.3 L369.4 399.3 L370.4 400.3 L371.4 400.3 L372.4 401.0 L373.4 402.0 L374.4 402.3 L375.4 403.1 L376.4 404.1 L377.4 404.6 L378.4 405.0 L379.4 405.9 L380.4 406.9 L381.4 407.1 L382.4 407.3 L383.4 408.2 L384.4 408.9 L385.4 409.3 L386.4 409.8 L387.4 410.5 L388.4 410.8 L389.4 411.0 L390.4 411.8 L391.4 412.5 L392.4 412.6 L393.4 412.7 L394.4 413.3 L395.4 414.5 L396.4 415.2 L397.4 415.5 L398.4 415.9 L399.4 416.5 L400.4 417.3 L401.4 417.9 L402.4 417.8 L403.4 417.9 L404.4 418.1 L405.4 418.4 L406.4 419.2 L407.4 420.0 L408.4 420.7 L409.4 421.5 L410.4 421.6 L411.4 421.7 L412.4 422.1 L413.4 422.6 L414.4 423.0 L415.4 423.1 L416.4 423.0 L417.4 423.5 L418.4 423.6 L419.4 423.3 L420.4 422.9 L421.4 422.4 L422.4 422.5 L423.4 422.6 L424.4 421.8 L425.4 421.2 L426.4 421.1 L427.4 421.1 L428.4 420.4 L429.4 419.1 L430.4 417.8 L431.4 416.8 L432.4 416.6 L433.4 416.3 L434.4 414.8 L435.4 413.1 L436.4 412.3 L437.4 411.0 L438.4 409.4 L439.4 408.7 L440.4 408.5 L441.4 407.8 L442.4 406.6 L443.4 405.3 L444.4 404.3 L445.4 403.2 L446.4 402.0 L447.4 401.4 L448.4 401.5 L449.4 402.0 L450.4 402.3 L451.4 402.4 L452.4 402.7 L453.4 403.1 L454.4 403.1 L455.4 402.9 L456.4 403.0 L457.4 403.9 L458.4 405.0 L459.4 405.9 L460.4 406.8 L461.4 407.8 L462.4 408.9 L463.4 409.5 L464.4 410.3 L465.4 411.3 L466.4 412.3 L467.4 413.1 L468.4 413.4 L469.4 413.8 L470.4 414.6 L471.4 415.6 L472.4 416.3 L473.4 416.4 L474.4 416.2 L475.4 416.6 L476.4 417.7 L477.4 418.7 L478.4 418.8 L479.4 418.3 L480.4 418.3 L481.4 418.3 L482.4 418.7 L483.4 419.4 L484.4 419.9 L485.4 419.7 L486.4 419.5 L487.4 420.1 L488.4 421.0 L489.4 421.2 L490.4 420.3 L491.4 420.2 L492.4 420.8 L493.4 421.4 L494.4 421.7 L495.4 421.7 L496.4 421.3 L497.4 421.3 L498.4 421.4 L499.4 421.4 L500.4 421.6 L501.4 422.1 L502.4 423.0 L503.4 422.8 L504.4 422.2 L505.4 422.7 L506.4 423.3 L507.4 423.3 L508.4 423.5 L509.4 423.9 L510.4 424.1 L511.4 424.0 L512.4 423.7 L513.4 423.4 L514.4 423.4 L515.4 423.9 L516.4 424.4 L517.4 424.4 L518.4 424.4 L519.4 424.8 L520.4 425.5 L521.4 425.2 L522.4 424.8 L523.4 425.1 L524.4 425.6 L525.4 425.6 L526.4 425.3 L527.4 425.8 L528.4 426.2 L529.4 426.5 L530.4 427.2 L531.4 427.2 L532.4 426.8 L533.4 427.3 L534.4 428.3 L535.4 428.6 L536.4 428.2 L537.4 428.1 L538.4 428.3 L539.4 428.2 L540.4 427.7 L541.4 427.7 L542.4 428.4 L543.4 429.0 L544.4 429.0 L545.4 428.9 L546.4 429.1 L547.4 429.2 L548.4 429.5 L549.4 429.3 L550.4 428.6 L551.4 428.4 L552.4 428.7 L553.4 429.2 L554.4 429.5 L555.4 428.8 L556.4 428.4 L557.4 429.5 L558.4 430.9 L559.4 430.8 L560.4 429.6 L561.4 429.4 L562.4 429.6 L563.4 429.4 L564.4 429.4 L565.4 429.4 L566.4 429.1 L567.4 429.2 L568.4 429.7 L569.4 429.9 L570.4 429.7 L571.4 429.8 L572.4 429.6 L573.4 429.4 L574.4 430.9 L575.4 433.3 L576.4 433.3 L577.4 432.4 L578.4 431.9 L579.4 431.2 L580.4 431.3 L581.4 431.6 L582.4 432.0 L583.4 432.5 L584.4 431.8 L585.4 429.9 L586.4 430.5 L587.4 431.9 L588.4 431.8 L589.4 432.2 L590.4 433.0 L591.4 433.3 L592.4 433.4 L593.4 432.8 L594.4 431.9 L595.4 430.8 L596.4 430.2 L597.4 431.2 L598.4 432.0 L599.4 431.5 L600.4 431.4 L601.4 432.3 L602.4 432.6 L603.4 432.1 L604.4 432.4 L605.4 433.9 L606.4 434.2 L607.4 433.1 L608.4 432.5 L609.4 433.2 L610.4 434.9 L611.4 435.3 L612.4 433.4 L613.4 431.6 L614.4 432.2 L615.4 433.7 L616.4 433.4 L617.4 433.4 L618.4 435.2 L619.4 436.8 L620.4 436.9 L621.4 437.5 L622.4 432.4 L623.4 426.1 L624.4 427.8 L625.4 429.9 L626.4 431.1 L627.4 431.8 L628.4 431.8 L629.4 432.9 L630.4 433.9 L631.4 433.1 L632.4 432.4 L633.4 433.4 L634.4 434.4 L635.4 434.4 L636.4 433.6 L637.4 432.6 L638.4 433.4 L639.4 433.9 L640.4 433.3 L641.4 432.9 L642.4 433.3 L643.4 433.9 L644.4 433.3 L645.4 432.7 L646.4 433.2 L647.4 433.8 L648.4 433.7 L649.4 432.9 L650.4 432.8 L651.4 434.4 L652.4 435.6 L653.4 434.3 L654.4 432.9 L655.4 433.1 L656.4 432.6 L657.4 431.9 L658.4 432.5 L659.4 433.5 L660.4 434.7 L661.4 435.7 L662.4 435.9 L663.4 435.2 L664.4 434.4 L665.4 434.4 L666.4 435.0 L667.4 435.4 L668.4 434.5 L669.4 434.6 L670.4 435.9 L671.4 435.6 L672.4 434.8 L673.4 434.9 L674.4 435.9 L675.4 439.8 L676.4 440.7 L677.4 436.5 L678.4 434.5 L679.4 433.6 L680.4 433.1 L681.4 434.3 L682.4 435.7 L683.4 435.4 L684.4 434.6 L685.4 434.4 L686.4 434.6 L687.4 436.0 L688.4 437.7 L689.4 438.0 L690.4 437.3 L691.4 436.3 L692.4 434.9 L693.4 434.1 L694.4 434.3 L695.4 434.7 L696.4 435.1 L697.4 434.7 L698.4 434.1 L699.4 435.5 L700.4 436.2 L701.4 435.1 L702.4 435.0 L703.4 435.2 L704.4 434.4 L705.4 434.1 L706.4 434.7 L707.4 435.5 L708.4 436.2 L709.4 436.4 L710.4 436.0 L711.4 435.7 L712.4 436.0 L713.4 435.8 L714.4 436.0 L715.4 436.9 L716.4 436.4 L717.4 436.1 L718.4 436.3 L719.4 436.1 L720.4 437.1 L721.4 438.0 L722.4 438.0 L723.4 439.0 L724.4 440.6 L725.4 440.8 L726.4 440.2 L727.4 439.5 L728.4 438.8 L729.4 438.7 L730.4 438.9 L731.4 439.2 L732.4 439.1 L733.4 439.3 L734.4 439.8 L735.4 439.3 L736.4 439.5 L737.4 440.1 L738.4 439.3 L739.4 438.7 L740.4 439.6 L741.4 440.8 L742.4 440.2 L743.4 439.3 L744.4 439.2 L745.4 438.3 L746.4 437.5 L747.4 438.7 L748.4 440.1 L749.4 440.0 L750.4 438.6 L751.4 438.0 L752.4 439.0 L753.4 439.2 L754.4 439.5 L755.4 439.9 L756.4 439.3 L757.4 438.4 L758.4 437.9 L759.4 438.0 L760.4 438.3 L761.4 438.4 L762.4 438.0 L763.4 436.9 L764.4 437.1 L765.4 437.9 L766.4 437.9 L767.4 437.5 L768.4 437.8 L769.4 439.3 L770.4 439.7 L771.4 438.9 L772.4 438.5 L773.4 438.0 L774.4 437.4 L775.4 437.3 L776.4 438.2 L777.4 438.8 L778.4 439.1 L779.4 439.8 L780.4 439.5 L781.4 438.5 L782.4 438.0 L783.4 438.0 L784.4 437.9 L785.4 438.5 L786.4 439.8 L787.4 439.9 L788.4 439.3 L789.4 438.6 L790.4 437.7 L791.4 437.5 L792.4 437.1 L793.4 437.6 L794.4 438.7 L795.4 439.2 L796.4 439.3 L797.4 438.9 L798.4 438.6 L799.4 439.1 L800.4 440.1 L801.4 439.5 L802.4 438.0 L803.4 438.6 L804.4 439.4 L805.4 438.9 L806.4 438.4 L807.4 437.8 L808.4 437.5 L809.4 438.0 L810.4 438.0 L811.4 437.4 L812.4 436.6 L813.4 436.5 L814.4 437.0 L815.4 437.1 L816.4 436.9 L817.4 436.4 L818.4 436.6 L819.4 436.6 L820.4 436.0 L821.4 435.2 L822.4 433.9 L823.4 432.6 L824.4 431.1 L825.4 429.6 L826.4 429.1 L827.4 428.3 L828.4 427.2 L829.4 426.6 L830.4 425.8 L831.4 425.0 L832.4 424.7 L833.4 424.5 L834.4 424.1 L835.4 423.7 L836.4 423.5 L837.4 423.1 L838.4 423.1 L839.4 423.2 L840.4 422.9 L841.4 423.1 L842.4 424.1 L843.4 425.2 L844.4 425.7 L845.4 426.2 L846.4 426.9 L847.4 427.0 L848.4 427.2 L849.4 428.2 L850.4 428.4 L851.4 428.6 L852.4 428.9 L853.4 429.2 L854.4 429.9 L855.4 430.7 L856.4 431.0 L857.4 431.1 L858.4 431.1 L859.4 431.2 L860.4 431.5 L861.4 431.7 L862.4 431.7 L863.4 432.0 L864.4 432.3 L865.4 432.3 L866.4 432.2 L867.4 431.5 L868.4 430.7 L869.4 429.7 L870.4 428.5 L871.4 427.6 L872.4 427.0 L873.4 426.2 L874.4 424.8 L875.4 423.6 L876.4 423.1 L877.4 422.3 L878.4 421.2 L879.4 420.2 L880.4 418.9 L881.4 417.2 L882.4 415.8 L883.4 414.3 L884.4 412.0 L885.4 409.3 L886.4 406.1 L887.4 402.5 L888.4 398.8 L889.4 395.0 L890.4 391.4 L891.4 388.2 L892.4 385.4 L893.4 382.7 L894.4 379.8 L895.4 377.1 L896.4 374.5 L897.4 371.8 L898.4 369.4 L899.4 366.8 L900.4 362.9 L901.4 358.8 L902.4 355.9 L903.4 355.0 L904.4 356.1 L905.4 358.2 L906.4 360.8 L907.4 363.2 L908.4 365.3 L909.4 368.0 L910.4 371.3 L911.4 374.1 L912.4 376.1 L913.4 377.3 L914.4 377.5 L915.4 375.9 L916.4 372.9 L917.4 369.3 L918.4 366.0 L919.4 363.8 L920.4 363.5 L921.4 364.8 L922.4 366.9 L923.4 369.4 L924.4 371.9 L925.4 373.9 L926.4 375.0 L927.4 374.4 L928.4 372.3 L929.4 369.9 L930.4 367.8 L931.4 366.4 L932.4 366.8 L933.4 368.0 L934.4 368.6 L935.4 365.9 L936.4 361.3 L937.4 358.0 L938.4 358.9 L939.4 362.8 L940.4 368.3 L941.4 374.1 L942.4 378.6 L943.4 382.9 L944.4 386.9 L945.4 389.9 L946.4 391.3 L947.4 392.7 L948.4 393.9 L949.4 394.8 L950.4 395.5 L951.4 396.0 L952.4 396.6 L953.4 397.1 L954.4 397.2 L955.4 397.6 L956.4 398.1 L957.4 398.4 L958.4 398.6 L959.4 399.1 L960.4 399.8 L961.4 401.1 L962.4 402.9 L963.4 404.9 L964.4 406.9 L965.4 408.9 L966.4 411.4 L967.4 413.9 L968.4 415.6 L969.4 415.4 L970.4 411.1 L971.4 407.2 L972.4 408.4 L973.4 412.1 L974.4 415.1 L975.4 417.2 L976.4 418.4 L977.4 416.9 L978.4 410.7 L979.4 401.9 L980.4 383.3 L981.4 360.2 L982.4 345.1 L983.4 332.5 L984.4 323.4 L985.4 321.0 L986.4 325.1 L987.4 332.3 L988.4 339.5 L989.4 348.8 L990.4 359.7 L991.4 368.4 L992.4 370.8 L993.4 361.4 L994.4 343.3 L995.4 323.2 L996.4 306.7 L997.4 290.6 L998.4 276.8 L999.4 266.0 L1000.4 256.0 L1001.4 250.3 L1002.4 250.7 L1003.4 253.4 L1004.4 256.7 L1005.4 261.9 L1006.4 268.1 L1007.4 271.8 L1008.4 269.5 L1009.4 261.8 L1010.4 251.7 L1011.4 234.7 L1012.4 215.8 L1013.4 204.7 L1014.4 176.8 L1015.4 136.7 L1016.4 112.0 L1017.4 98.3 L1018.4 92.4 L1019.4 94.9 L1020.4 104.9 L1021.4 109.0 L1022.4 99.0 L1023.4 73.8 L1024.4 55.7 L1025.4 47.0 L1026.4 44.7 L1027.4 50.0 L1028.4 57.7 L1029.4 65.6 L1030.4 73.2 L1031.4 80.8 L1032.4 85.1 L1033.4 86.9 L1034.4 85.3 L1035.4 86.3 L1036.4 90.5 L1037.4 95.1 L1038.4 95.9 L1039.4 97.6 L1040.4 102.5 L1041.4 115.9 L1042.4 131.6 L1043.4 144.1 L1044.4 156.3 L1045.4 169.5 L1046.4 181.9 L1047.4 193.1 L1048.4 205.0 L1049.4 218.2 L1050.4 232.6 L1051.4 246.9 L1052.4 259.5 L1053.4 269.8 L1054.4 278.9 L1055.4 287.1 L1056.4 294.3 L1057.4 301.0 L1058.4 307.8 L1059.4 314.0 L1060.4 318.6 L1061.4 320.7 L1062.4 318.9 L1063.4 313.3 L1064.4 307.3 L1065.4 304.2 L1066.4 306.4 L1067.4 312.1 L1068.4 318.1 L1069.4 320.9 L1070.4 318.5 L1071.4 312.9 L1072.4 306.8 L1073.4 302.5 L1074.4 303.0 L1075.4 315.2 L1076.4 331.4 L1077.4 340.8 L1078.4 346.1 L1079.4 350.4 L1080.4 353.3 L1081.4 354.9 L1082.4 356.2 L1083.4 357.5 L1084.4 358.5 L1085.4 359.4 L1086.4 360.1 L1087.4 360.5 L1088.4 360.6 L1089.4 360.7 L1090.4 360.7 L1091.4 360.8 L1092.4 360.8 L1093.4 360.7 L1094.4 360.6 L1095.4 360.8 L1096.4 360.8 L1097.4 360.5 L1098.4 360.2 L1099.4 359.8 L1100.4 359.3 L1101.4 358.6 L1102.4 357.9 L1103.4 357.1 L1104.4 356.2 L1105.4 355.3 L1106.4 354.4 L1107.4 353.6 L1108.4 352.7 L1109.4 351.7 L1110.4 350.4 L1111.4 349.1 L1112.4 347.7 L1113.4 346.0 L1114.4 343.8 L1115.4 340.9 L1116.4 336.8 L1117.4 331.9 L1118.4 326.6 L1119.4 321.4 L1120.4 315.7 L1121.4 309.2 L1122.4 303.5 L1123.4 298.5 L1124.4 294.3 L1125.4 291.8 L1126.4 290.6 L1127.4 289.1 L1128.4 287.3 L1129.4 285.6 L1130.4 283.4 L1131.4 280.6 L1132.4 277.6 L1133.4 274.3 L1134.4 269.4 L1135.4 262.3 L1136.4 247.9 L1137.4 234.5 L1138.4 228.3 L1139.4 223.9 L1140.4 222.8 L1141.4 223.8 L1142.4 226.1 L1143.4 229.1 L1144.4 231.6 L1145.4 232.6 L1146.4 229.4 L1147.4 222.8 L1148.4 215.1 L1149.4 206.7 L1150.4 198.1 L1151.4 189.2 L1152.4 180.0 L1153.4 171.3 L1154.4 164.2 L1155.4 160.3 L1156.4 158.8 L1157.4 157.6 L1158.4 157.0 L1159.4 155.9 L1160.4 155.2 L1161.4 155.4 L1162.4 155.0 L1163.4 153.3 L1164.4 147.2 L1165.4 140.0 L1166.4 140.5 L1167.4 147.6 L1168.4 137.3 L1169.4 111.5 L1170.4 99.2 L1171.4 91.4 L1172.4 89.4 L1173.4 118.8 L1173.6 125.1"/>
</g>
<rect x="105.0" y="7.6" width="1069.5" height="478.2" fill="none" stroke="#000" stroke-width="2.5"/>
<line x1="96.0" y1="485.8" x2="105.0" y2="485.8" stroke="#000" stroke-width="2.5"/>
<text class="b" transform="translate(89.0,493.8) scale(1,1.08)" font-size="24" text-anchor="end">0</text>
<line x1="96.0" y1="429.5" x2="105.0" y2="429.5" stroke="#000" stroke-width="2.5"/>
<text class="b" transform="translate(89.0,437.5) scale(1,1.08)" font-size="24" text-anchor="end">0.02</text>
<line x1="96.0" y1="373.3" x2="105.0" y2="373.3" stroke="#000" stroke-width="2.5"/>
<text class="b" transform="translate(89.0,381.3) scale(1,1.08)" font-size="24" text-anchor="end">0.04</text>
<line x1="96.0" y1="317.0" x2="105.0" y2="317.0" stroke="#000" stroke-width="2.5"/>
<text class="b" transform="translate(89.0,325.0) scale(1,1.08)" font-size="24" text-anchor="end">0.06</text>
<line x1="96.0" y1="260.8" x2="105.0" y2="260.8" stroke="#000" stroke-width="2.5"/>
<text class="b" transform="translate(89.0,268.8) scale(1,1.08)" font-size="24" text-anchor="end">0.08</text>
<line x1="96.0" y1="204.5" x2="105.0" y2="204.5" stroke="#000" stroke-width="2.5"/>
<text class="b" transform="translate(89.0,212.5) scale(1,1.08)" font-size="24" text-anchor="end">0.1</text>
<line x1="96.0" y1="148.2" x2="105.0" y2="148.2" stroke="#000" stroke-width="2.5"/>
<text class="b" transform="translate(89.0,156.2) scale(1,1.08)" font-size="24" text-anchor="end">0.12</text>
<line x1="96.0" y1="92.0" x2="105.0" y2="92.0" stroke="#000" stroke-width="2.5"/>
<text class="b" transform="translate(89.0,100.0) scale(1,1.08)" font-size="24" text-anchor="end">0.14</text>
<line x1="96.0" y1="35.7" x2="105.0" y2="35.7" stroke="#000" stroke-width="2.5"/>
<text class="b" transform="translate(89.0,43.7) scale(1,1.08)" font-size="24" text-anchor="end">0.16</text>
<line x1="105.0" y1="485.8" x2="105.0" y2="494.5" stroke="#000" stroke-width="2.5"/>
<text class="b" transform="translate(105.0,519.8) scale(1,1.08)" font-size="24" text-anchor="middle">4000</text>
<line x1="260.0" y1="485.8" x2="260.0" y2="494.5" stroke="#000" stroke-width="2.5"/>
<text class="b" transform="translate(260.0,519.8) scale(1,1.08)" font-size="24" text-anchor="middle">3500</text>
<line x1="414.9" y1="485.8" x2="414.9" y2="494.5" stroke="#000" stroke-width="2.5"/>
<text class="b" transform="translate(414.9,519.8) scale(1,1.08)" font-size="24" text-anchor="middle">3000</text>
<line x1="569.9" y1="485.8" x2="569.9" y2="494.5" stroke="#000" stroke-width="2.5"/>
<text class="b" transform="translate(569.9,519.8) scale(1,1.08)" font-size="24" text-anchor="middle">2500</text>
<line x1="724.9" y1="485.8" x2="724.9" y2="494.5" stroke="#000" stroke-width="2.5"/>
<text class="b" transform="translate(724.9,519.8) scale(1,1.08)" font-size="24" text-anchor="middle">2000</text>
<line x1="879.8" y1="485.8" x2="879.8" y2="494.5" stroke="#000" stroke-width="2.5"/>
<text class="b" transform="translate(879.8,519.8) scale(1,1.08)" font-size="24" text-anchor="middle">1500</text>
<line x1="1034.8" y1="485.8" x2="1034.8" y2="494.5" stroke="#000" stroke-width="2.5"/>
<text class="b" transform="translate(1034.8,519.8) scale(1,1.08)" font-size="24" text-anchor="middle">1000</text>
<text class="b" transform="translate(639.8,562.8) scale(1,1.08)" font-size="24" text-anchor="middle">Wavelength (cm<tspan font-size="15" dy="-9.5">-1</tspan><tspan dy="9.5">)</tspan></text>
<text class="b" transform="translate(27.2,246.7) rotate(-90)" x="0" y="0" font-size="24" text-anchor="middle">Absorbance (%)</text>
<text class="b" transform="translate(7.1,19.0) scale(1,1.08)" font-size="24">(a)</text>
<line x1="123.8" y1="35.4" x2="179.0" y2="35.4" stroke="#333333" stroke-width="2.5" stroke-linecap="round"/>
<text class="b" transform="translate(184.4,43.5) scale(1,1.08)" font-size="24">White paper reference</text>
<line x1="123.8" y1="65.4" x2="179.0" y2="65.4" stroke="#e0a020" stroke-width="2.5" stroke-linecap="round"/>
<text class="b" transform="translate(184.4,73.5) scale(1,1.08)" font-size="24">Untreated yellow</text>
<line x1="123.8" y1="95.4" x2="179.0" y2="95.4" stroke="#969000" stroke-width="2.5" stroke-linecap="round"/>
<text class="b" transform="translate(184.4,103.5) scale(1,1.08)" font-size="24">Plasma-treated yellow</text>
<text transform="translate(240.2,255.0) scale(1,1.08)" font-size="24">O-H</text>
<text transform="translate(377.9,257.0) scale(1,1.08)" font-size="24">C-H</text>
<text transform="translate(752.9,80.8) scale(1,1.08)" font-size="24">C-H</text>
<text transform="translate(754.7,114.6) scale(1,1.08)" font-size="24">CH<tspan font-size="16" dy="6">2</tspan></text>
<text transform="translate(1080.9,187.0) scale(1,1.08)" font-size="24">C-O-C</text>
<text transform="translate(1076.6,228.4) scale(1,1.08)" font-size="24">C-O</text>
<text transform="translate(698.7,255.9) scale(1,1.08)" font-size="24">C=N/C=O</text>
<text transform="translate(675.5,337.0) scale(1,1.08)" font-size="24">Benzene ring</text>
<text transform="translate(719.0,366.0) scale(1,1.08)" font-size="24">C=C</text>
<line x1="318.5" y1="613.5" x2="318.5" y2="1089.0" stroke="#555" stroke-width="1.2" stroke-dasharray="1.3 2.1"/>
<line x1="453.7" y1="613.5" x2="453.7" y2="1089.0" stroke="#555" stroke-width="1.2" stroke-dasharray="1.3 2.1"/>
<line x1="836.3" y1="613.5" x2="836.3" y2="1089.0" stroke="#555" stroke-width="1.2" stroke-dasharray="1.3 2.1"/>
<line x1="905.0" y1="613.5" x2="905.0" y2="1089.0" stroke="#555" stroke-width="1.2" stroke-dasharray="1.3 2.1"/>
<line x1="923.5" y1="613.5" x2="923.5" y2="1089.0" stroke="#555" stroke-width="1.2" stroke-dasharray="1.3 2.1"/>
<line x1="940.7" y1="613.5" x2="940.7" y2="1089.0" stroke="#555" stroke-width="1.2" stroke-dasharray="1.3 2.1"/>
<line x1="987.5" y1="613.5" x2="987.5" y2="1089.0" stroke="#555" stroke-width="1.2" stroke-dasharray="1.3 2.1"/>
<line x1="1028.5" y1="613.5" x2="1028.5" y2="1089.0" stroke="#555" stroke-width="1.2" stroke-dasharray="1.3 2.1"/>
<line x1="293.1" y1="848.6" x2="318.5" y2="848.6" stroke="#6a6a6a" stroke-width="1.15"/>
<line x1="429.7" y1="848.6" x2="453.7" y2="848.6" stroke="#6a6a6a" stroke-width="1.15"/>
<line x1="806.3" y1="686.4" x2="940.7" y2="686.4" stroke="#6a6a6a" stroke-width="1.15"/>
<line x1="804.6" y1="719.3" x2="923.5" y2="719.3" stroke="#6a6a6a" stroke-width="1.15"/>
<line x1="1028.4" y1="783.7" x2="1080.3" y2="783.7" stroke="#6a6a6a" stroke-width="1.15"/>
<line x1="986.1" y1="821.7" x2="1074.3" y2="821.7" stroke="#6a6a6a" stroke-width="1.15"/>
<line x1="807.6" y1="848.0" x2="836.3" y2="848.0" stroke="#6a6a6a" stroke-width="1.15"/>
<line x1="818.7" y1="928.0" x2="905.5" y2="928.0" stroke="#6a6a6a" stroke-width="1.15"/>
<g fill="none" stroke-width="2.5" stroke-linejoin="round" stroke-linecap="round">
<path stroke="#000000" d="M108.9 1089.1 L109.9 1089.0 L110.9 1088.6 L111.9 1089.0 L112.9 1088.8 L113.9 1088.3 L114.9 1088.1 L115.9 1088.1 L116.9 1088.6 L117.9 1089.1 L118.9 1089.2 L119.9 1088.7 L120.9 1087.9 L121.9 1088.1 L122.9 1089.1 L123.9 1089.7 L124.9 1089.8 L125.9 1089.3 L126.9 1088.8 L127.9 1089.1 L128.9 1089.2 L129.9 1088.7 L130.9 1088.5 L131.9 1088.5 L132.9 1088.8 L133.9 1089.0 L134.9 1089.2 L135.9 1089.1 L136.9 1088.8 L137.9 1088.8 L138.9 1088.8 L139.9 1088.3 L140.9 1088.3 L141.9 1088.9 L142.9 1089.0 L143.9 1088.8 L144.9 1088.7 L145.9 1088.6 L146.9 1088.6 L147.9 1088.6 L148.9 1088.8 L149.9 1089.0 L150.9 1088.9 L151.9 1088.8 L152.9 1088.4 L153.9 1088.2 L154.9 1088.2 L155.9 1088.4 L156.9 1088.7 L157.9 1088.6 L158.9 1088.8 L159.9 1089.4 L160.9 1089.2 L161.9 1088.7 L162.9 1088.6 L163.9 1088.2 L164.9 1088.1 L165.9 1088.5 L166.9 1088.5 L167.9 1088.2 L168.9 1088.3 L169.9 1088.5 L170.9 1088.4 L171.9 1088.5 L172.9 1089.0 L173.9 1089.1 L174.9 1088.8 L175.9 1088.7 L176.9 1088.6 L177.9 1088.4 L178.9 1088.3 L179.9 1088.4 L180.9 1088.7 L181.9 1088.8 L182.9 1088.7 L183.9 1088.8 L184.9 1089.2 L185.9 1089.2 L186.9 1088.8 L187.9 1088.5 L188.9 1088.6 L189.9 1088.7 L190.9 1089.2 L191.9 1089.4 L192.9 1089.1 L193.9 1088.9 L194.9 1089.1 L195.9 1089.3 L196.9 1089.0 L197.9 1088.4 L198.9 1088.2 L199.9 1088.7 L200.9 1088.6 L201.9 1088.5 L202.9 1088.9 L203.9 1088.7 L204.9 1088.2 L205.9 1088.4 L206.9 1088.8 L207.9 1088.7 L208.9 1088.1 L209.9 1088.2 L210.9 1088.8 L211.9 1089.0 L212.9 1088.1 L213.9 1087.2 L214.9 1087.7 L215.9 1088.7 L216.9 1089.3 L217.9 1089.5 L218.9 1089.0 L219.9 1088.6 L220.9 1088.9 L221.9 1088.8 L222.9 1088.6 L223.9 1088.9 L224.9 1089.0 L225.9 1088.4 L226.9 1088.2 L227.9 1088.5 L228.9 1088.5 L229.9 1088.2 L230.9 1088.3 L231.9 1088.9 L232.9 1089.4 L233.9 1089.3 L234.9 1089.3 L235.9 1088.9 L236.9 1088.0 L237.9 1087.7 L238.9 1087.9 L239.9 1087.9 L240.9 1088.0 L241.9 1088.0 L242.9 1087.7 L243.9 1087.4 L244.9 1087.0 L245.9 1087.3 L246.9 1087.8 L247.9 1087.5 L248.9 1087.3 L249.9 1087.1 L250.9 1086.8 L251.9 1086.6 L252.9 1086.6 L253.9 1086.2 L254.9 1085.5 L255.9 1084.8 L256.9 1084.7 L257.9 1085.0 L258.9 1085.1 L259.9 1084.8 L260.9 1084.5 L261.9 1084.6 L262.9 1084.6 L263.9 1084.4 L264.9 1084.2 L265.9 1083.5 L266.9 1083.3 L267.9 1083.7 L268.9 1083.4 L269.9 1082.8 L270.9 1082.5 L271.9 1082.5 L272.9 1082.7 L273.9 1082.5 L274.9 1082.0 L275.9 1081.8 L276.9 1081.6 L277.9 1081.4 L278.9 1081.2 L279.9 1081.0 L280.9 1081.1 L281.9 1081.1 L282.9 1081.0 L283.9 1080.7 L284.9 1080.0 L285.9 1079.2 L286.9 1079.3 L287.9 1079.4 L288.9 1079.4 L289.9 1079.4 L290.9 1079.2 L291.9 1078.7 L292.9 1078.1 L293.9 1078.0 L294.9 1078.1 L295.9 1077.6 L296.9 1076.9 L297.9 1076.7 L298.9 1077.0 L299.9 1077.5 L300.9 1077.0 L301.9 1076.1 L302.9 1076.1 L303.9 1076.4 L304.9 1076.4 L305.9 1076.0 L306.9 1075.7 L307.9 1075.6 L308.9 1075.0 L309.9 1074.5 L310.9 1074.6 L311.9 1075.1 L312.9 1075.6 L313.9 1075.5 L314.9 1075.0 L315.9 1075.0 L316.9 1074.9 L317.9 1074.2 L318.9 1074.0 L319.9 1074.6 L320.9 1074.8 L321.9 1074.2 L322.9 1073.8 L323.9 1074.2 L324.9 1074.4 L325.9 1074.3 L326.9 1074.3 L327.9 1074.4 L328.9 1074.7 L329.9 1074.7 L330.9 1074.6 L331.9 1074.7 L332.9 1074.5 L333.9 1074.2 L334.9 1074.5 L335.9 1074.5 L336.9 1074.3 L337.9 1074.8 L338.9 1075.4 L339.9 1075.7 L340.9 1076.5 L341.9 1076.8 L342.9 1076.5 L343.9 1077.0 L344.9 1077.4 L345.9 1077.0 L346.9 1076.7 L347.9 1076.8 L348.9 1076.8 L349.9 1077.1 L350.9 1077.7 L351.9 1078.1 L352.9 1078.4 L353.9 1078.5 L354.9 1078.4 L355.9 1078.5 L356.9 1078.6 L357.9 1078.5 L358.9 1078.7 L359.9 1079.2 L360.9 1079.4 L361.9 1079.7 L362.9 1080.2 L363.9 1080.1 L364.9 1079.5 L365.9 1079.5 L366.9 1079.9 L367.9 1080.4 L368.9 1080.6 L369.9 1080.3 L370.9 1080.3 L371.9 1081.0 L372.9 1081.6 L373.9 1081.5 L374.9 1081.0 L375.9 1080.8 L376.9 1081.2 L377.9 1081.7 L378.9 1081.8 L379.9 1081.5 L380.9 1081.5 L381.9 1082.0 L382.9 1082.2 L383.9 1081.9 L384.9 1081.9 L385.9 1082.2 L386.9 1082.4 L387.9 1082.3 L388.9 1082.0 L389.9 1081.7 L390.9 1081.7 L391.9 1082.4 L392.9 1082.7 L393.9 1082.0 L394.9 1082.3 L395.9 1082.9 L396.9 1082.5 L397.9 1082.3 L398.9 1082.6 L399.9 1082.7 L400.9 1082.9 L401.9 1082.7 L402.9 1082.4 L403.9 1082.6 L404.9 1082.8 L405.9 1083.0 L406.9 1083.0 L407.9 1082.9 L408.9 1083.2 L409.9 1083.1 L410.9 1082.8 L411.9 1082.6 L412.9 1082.4 L413.9 1082.5 L414.9 1082.7 L415.9 1082.6 L416.9 1082.5 L417.9 1082.5 L418.9 1082.3 L419.9 1082.3 L420.9 1082.2 L421.9 1081.7 L422.9 1081.9 L423.9 1082.2 L424.9 1081.9 L425.9 1081.8 L426.9 1081.6 L427.9 1081.4 L428.9 1081.1 L429.9 1081.0 L430.9 1081.1 L431.9 1081.3 L432.9 1081.7 L433.9 1081.9 L434.9 1081.7 L435.9 1081.6 L436.9 1081.9 L437.9 1081.7 L438.9 1081.1 L439.9 1080.8 L440.9 1081.1 L441.9 1081.2 L442.9 1081.1 L443.9 1081.2 L444.9 1081.1 L445.9 1080.9 L446.9 1080.9 L447.9 1081.0 L448.9 1080.8 L449.9 1080.6 L450.9 1080.5 L451.9 1080.9 L452.9 1081.6 L453.9 1081.7 L454.9 1080.8 L455.9 1080.2 L456.9 1080.3 L457.9 1080.3 L458.9 1080.5 L459.9 1080.7 L460.9 1080.6 L461.9 1081.0 L462.9 1081.5 L463.9 1081.8 L464.9 1081.9 L465.9 1081.9 L466.9 1081.8 L467.9 1081.2 L468.9 1081.0 L469.9 1081.2 L470.9 1081.4 L471.9 1081.4 L472.9 1081.4 L473.9 1081.9 L474.9 1081.9 L475.9 1081.6 L476.9 1081.3 L477.9 1080.6 L478.9 1080.2 L479.9 1080.9 L480.9 1081.5 L481.9 1081.3 L482.9 1081.0 L483.9 1081.4 L484.9 1082.2 L485.9 1082.2 L486.9 1081.9 L487.9 1081.8 L488.9 1082.1 L489.9 1082.4 L490.9 1082.2 L491.9 1081.9 L492.9 1081.7 L493.9 1081.6 L494.9 1081.8 L495.9 1082.1 L496.9 1081.9 L497.9 1082.2 L498.9 1082.6 L499.9 1082.5 L500.9 1082.4 L501.9 1082.1 L502.9 1081.9 L503.9 1082.1 L504.9 1081.9 L505.9 1081.5 L506.9 1081.7 L507.9 1082.5 L508.9 1082.9 L509.9 1082.7 L510.9 1082.7 L511.9 1083.0 L512.9 1082.9 L513.9 1083.0 L514.9 1083.6 L515.9 1083.2 L516.9 1082.5 L517.9 1083.0 L518.9 1083.5 L519.9 1083.5 L520.9 1083.5 L521.9 1083.8 L522.9 1084.3 L523.9 1084.5 L524.9 1084.4 L525.9 1084.2 L526.9 1084.1 L527.9 1083.7 L528.9 1083.6 L529.9 1084.1 L530.9 1084.1 L531.9 1083.7 L532.9 1083.7 L533.9 1083.3 L534.9 1082.8 L535.9 1083.0 L536.9 1082.9 L537.9 1082.5 L538.9 1082.2 L539.9 1082.6 L540.9 1083.5 L541.9 1083.6 L542.9 1083.5 L543.9 1083.4 L544.9 1083.0 L545.9 1082.8 L546.9 1082.9 L547.9 1082.8 L548.9 1082.5 L549.9 1083.3 L550.9 1084.5 L551.9 1085.0 L552.9 1084.9 L553.9 1084.2 L554.9 1083.7 L555.9 1084.2 L556.9 1084.5 L557.9 1083.9 L558.9 1083.5 L559.9 1084.2 L560.9 1085.1 L561.9 1084.7 L562.9 1084.2 L563.9 1084.2 L564.9 1084.2 L565.9 1084.4 L566.9 1084.7 L567.9 1084.5 L568.9 1084.3 L569.9 1084.1 L570.9 1083.4 L571.9 1083.4 L572.9 1083.9 L573.9 1084.1 L574.9 1083.7 L575.9 1083.6 L576.9 1084.3 L577.9 1085.0 L578.9 1084.4 L579.9 1082.6 L580.9 1082.8 L581.9 1084.7 L582.9 1084.9 L583.9 1084.6 L584.9 1084.5 L585.9 1084.6 L586.9 1084.4 L587.9 1083.8 L588.9 1084.3 L589.9 1085.2 L590.9 1084.7 L591.9 1084.0 L592.9 1084.6 L593.9 1085.1 L594.9 1084.6 L595.9 1084.4 L596.9 1085.0 L597.9 1085.8 L598.9 1085.8 L599.9 1085.0 L600.9 1085.1 L601.9 1084.7 L602.9 1083.5 L603.9 1084.1 L604.9 1084.9 L605.9 1084.3 L606.9 1084.1 L607.9 1085.1 L608.9 1085.7 L609.9 1084.8 L610.9 1084.1 L611.9 1084.8 L612.9 1086.2 L613.9 1086.1 L614.9 1084.7 L615.9 1083.4 L616.9 1083.2 L617.9 1083.9 L618.9 1084.8 L619.9 1086.3 L620.9 1087.4 L621.9 1086.7 L622.9 1084.8 L623.9 1083.4 L624.9 1084.7 L625.9 1085.9 L626.9 1084.9 L627.9 1083.6 L628.9 1083.9 L629.9 1085.5 L630.9 1084.9 L631.9 1083.7 L632.9 1085.0 L633.9 1086.0 L634.9 1085.1 L635.9 1084.3 L636.9 1084.4 L637.9 1084.7 L638.9 1085.7 L639.9 1086.7 L640.9 1086.4 L641.9 1085.8 L642.9 1084.7 L643.9 1084.0 L644.9 1084.9 L645.9 1086.2 L646.9 1086.4 L647.9 1085.5 L648.9 1085.0 L649.9 1084.1 L650.9 1083.5 L651.9 1084.5 L652.9 1085.1 L653.9 1084.7 L654.9 1084.0 L655.9 1083.6 L656.9 1084.9 L657.9 1086.0 L658.9 1085.7 L659.9 1085.6 L660.9 1085.3 L661.9 1084.7 L662.9 1084.6 L663.9 1085.6 L664.9 1087.0 L665.9 1085.9 L666.9 1083.7 L667.9 1084.0 L668.9 1085.8 L669.9 1086.2 L670.9 1085.1 L671.9 1084.0 L672.9 1083.7 L673.9 1084.3 L674.9 1085.3 L675.9 1086.6 L676.9 1088.5 L677.9 1087.1 L678.9 1085.6 L679.9 1085.2 L680.9 1083.7 L681.9 1083.5 L682.9 1084.9 L683.9 1086.1 L684.9 1086.4 L685.9 1085.1 L686.9 1083.7 L687.9 1083.6 L688.9 1084.5 L689.9 1085.4 L690.9 1085.4 L691.9 1086.0 L692.9 1086.6 L693.9 1086.0 L694.9 1085.4 L695.9 1085.1 L696.9 1085.0 L697.9 1085.1 L698.9 1085.1 L699.9 1085.0 L700.9 1085.5 L701.9 1086.1 L702.9 1085.4 L703.9 1084.9 L704.9 1084.1 L705.9 1083.6 L706.9 1085.0 L707.9 1085.1 L708.9 1083.8 L709.9 1083.4 L710.9 1083.7 L711.9 1085.2 L712.9 1086.8 L713.9 1086.0 L714.9 1083.9 L715.9 1083.5 L716.9 1085.4 L717.9 1086.5 L718.9 1086.1 L719.9 1085.3 L720.9 1084.3 L721.9 1084.6 L722.9 1085.1 L723.9 1084.8 L724.9 1084.9 L725.9 1085.2 L726.9 1084.4 L727.9 1084.3 L728.9 1085.3 L729.9 1085.1 L730.9 1084.5 L731.9 1084.7 L732.9 1084.9 L733.9 1085.2 L734.9 1085.1 L735.9 1084.4 L736.9 1084.3 L737.9 1084.8 L738.9 1085.7 L739.9 1086.3 L740.9 1085.1 L741.9 1084.7 L742.9 1085.2 L743.9 1084.8 L744.9 1085.1 L745.9 1085.4 L746.9 1085.5 L747.9 1085.5 L748.9 1085.2 L749.9 1085.1 L750.9 1085.0 L751.9 1085.0 L752.9 1084.7 L753.9 1084.6 L754.9 1083.9 L755.9 1083.7 L756.9 1084.1 L757.9 1085.0 L758.9 1085.4 L759.9 1084.3 L760.9 1083.4 L761.9 1083.5 L762.9 1084.3 L763.9 1084.8 L764.9 1084.3 L765.9 1084.0 L766.9 1084.2 L767.9 1083.8 L768.9 1083.5 L769.9 1084.7 L770.9 1085.3 L771.9 1084.4 L772.9 1084.0 L773.9 1084.3 L774.9 1085.3 L775.9 1086.6 L776.9 1087.0 L777.9 1085.2 L778.9 1083.7 L779.9 1083.5 L780.9 1083.6 L781.9 1084.4 L782.9 1085.2 L783.9 1085.5 L784.9 1085.1 L785.9 1084.9 L786.9 1085.6 L787.9 1085.8 L788.9 1084.9 L789.9 1083.6 L790.9 1083.2 L791.9 1083.6 L792.9 1083.1 L793.9 1083.1 L794.9 1084.5 L795.9 1085.1 L796.9 1085.3 L797.9 1085.9 L798.9 1086.1 L799.9 1085.5 L800.9 1084.6 L801.9 1084.0 L802.9 1084.8 L803.9 1085.0 L804.9 1083.5 L805.9 1083.3 L806.9 1084.8 L807.9 1085.1 L808.9 1084.0 L809.9 1083.7 L810.9 1085.2 L811.9 1086.0 L812.9 1084.6 L813.9 1084.1 L814.9 1084.4 L815.9 1084.1 L816.9 1084.3 L817.9 1084.4 L818.9 1084.1 L819.9 1084.6 L820.9 1085.1 L821.9 1084.3 L822.9 1083.3 L823.9 1083.1 L824.9 1083.6 L825.9 1083.9 L826.9 1083.5 L827.9 1083.7 L828.9 1083.9 L829.9 1082.5 L830.9 1081.7 L831.9 1082.0 L832.9 1082.2 L833.9 1082.4 L834.9 1082.6 L835.9 1082.1 L836.9 1081.7 L837.9 1081.9 L838.9 1081.9 L839.9 1081.5 L840.9 1081.5 L841.9 1081.7 L842.9 1081.5 L843.9 1081.3 L844.9 1081.7 L845.9 1081.6 L846.9 1081.6 L847.9 1081.9 L848.9 1081.7 L849.9 1081.6 L850.9 1081.6 L851.9 1081.7 L852.9 1082.2 L853.9 1082.5 L854.9 1082.4 L855.9 1082.6 L856.9 1082.9 L857.9 1082.8 L858.9 1082.4 L859.9 1082.5 L860.9 1082.9 L861.9 1082.8 L862.9 1082.8 L863.9 1083.0 L864.9 1082.9 L865.9 1082.7 L866.9 1082.8 L867.9 1083.0 L868.9 1082.9 L869.9 1082.8 L870.9 1083.0 L871.9 1083.0 L872.9 1082.6 L873.9 1082.5 L874.9 1082.3 L875.9 1081.9 L876.9 1081.8 L877.9 1081.8 L878.9 1081.7 L879.9 1081.8 L880.9 1081.9 L881.9 1081.9 L882.9 1081.4 L883.9 1080.9 L884.9 1080.6 L885.9 1080.4 L886.9 1080.0 L887.9 1079.7 L888.9 1079.6 L889.9 1079.1 L890.9 1078.5 L891.9 1077.9 L892.9 1077.0 L893.9 1076.2 L894.9 1075.7 L895.9 1075.6 L896.9 1075.4 L897.9 1074.6 L898.9 1074.0 L899.9 1073.7 L900.9 1073.2 L901.9 1072.8 L902.9 1072.9 L903.9 1072.9 L904.9 1072.5 L905.9 1072.4 L906.9 1072.7 L907.9 1073.4 L908.9 1073.9 L909.9 1073.9 L910.9 1074.2 L911.9 1075.0 L912.9 1075.7 L913.9 1076.0 L914.9 1076.3 L915.9 1076.6 L916.9 1076.5 L917.9 1075.8 L918.9 1075.3 L919.9 1074.9 L920.9 1074.3 L921.9 1073.4 L922.9 1072.9 L923.9 1073.1 L924.9 1073.7 L925.9 1074.5 L926.9 1075.3 L927.9 1075.7 L928.9 1075.8 L929.9 1075.7 L930.9 1075.6 L931.9 1075.1 L932.9 1074.6 L933.9 1074.4 L934.9 1073.9 L935.9 1073.0 L936.9 1072.3 L937.9 1072.4 L938.9 1072.4 L939.9 1072.1 L940.9 1072.4 L941.9 1073.3 L942.9 1074.3 L943.9 1075.1 L944.9 1076.2 L945.9 1076.9 L946.9 1077.2 L947.9 1077.4 L948.9 1077.4 L949.9 1077.4 L950.9 1077.7 L951.9 1077.8 L952.9 1077.8 L953.9 1077.7 L954.9 1077.7 L955.9 1078.0 L956.9 1078.5 L957.9 1078.7 L958.9 1078.6 L959.9 1078.6 L960.9 1078.7 L961.9 1078.9 L962.9 1079.1 L963.9 1079.3 L964.9 1079.6 L965.9 1079.9 L966.9 1080.2 L967.9 1080.4 L968.9 1080.5 L969.9 1080.6 L970.9 1080.8 L971.9 1081.0 L972.9 1081.2 L973.9 1081.3 L974.9 1081.4 L975.9 1081.6 L976.9 1081.8 L977.9 1081.8 L978.9 1081.8 L979.9 1081.8 L980.9 1080.2 L981.9 1077.3 L982.9 1073.9 L983.9 1071.2 L984.9 1069.5 L985.9 1067.7 L986.9 1066.3 L987.9 1066.0 L988.9 1066.9 L989.9 1068.6 L990.9 1070.5 L991.9 1072.2 L992.9 1073.4 L993.9 1073.6 L994.9 1072.8 L995.9 1071.2 L996.9 1069.0 L997.9 1066.4 L998.9 1063.6 L999.9 1060.9 L1000.9 1058.4 L1001.9 1056.4 L1002.9 1055.3 L1003.9 1055.0 L1004.9 1055.2 L1005.9 1055.6 L1006.9 1056.2 L1007.9 1056.7 L1008.9 1057.2 L1009.9 1057.5 L1010.9 1057.3 L1011.9 1056.4 L1012.9 1054.9 L1013.9 1052.8 L1014.9 1050.6 L1015.9 1048.4 L1016.9 1045.2 L1017.9 1040.6 L1018.9 1036.2 L1019.9 1033.2 L1020.9 1032.5 L1021.9 1032.7 L1022.9 1033.1 L1023.9 1033.4 L1024.9 1032.9 L1025.9 1030.7 L1026.9 1027.5 L1027.9 1025.1 L1028.9 1024.5 L1029.9 1024.9 L1030.9 1025.7 L1031.9 1026.6 L1032.9 1027.6 L1033.9 1028.6 L1034.9 1029.1 L1035.9 1029.2 L1036.9 1029.0 L1037.9 1029.0 L1038.9 1029.2 L1039.9 1029.4 L1040.9 1029.6 L1041.9 1030.2 L1042.9 1031.7 L1043.9 1033.9 L1044.9 1036.3 L1045.9 1038.8 L1046.9 1041.1 L1047.9 1043.2 L1048.9 1045.1 L1049.9 1047.2 L1050.9 1049.1 L1051.9 1050.8 L1052.9 1052.6 L1053.9 1054.2 L1054.9 1055.6 L1055.9 1056.8 L1056.9 1057.9 L1057.9 1058.9 L1058.9 1059.9 L1059.9 1060.9 L1060.9 1061.7 L1061.9 1062.4 L1062.9 1062.9 L1063.9 1063.2 L1064.9 1063.2 L1065.9 1062.7 L1066.9 1062.1 L1067.9 1061.4 L1068.9 1060.7 L1069.9 1060.3 L1070.9 1060.4 L1071.9 1060.6 L1072.9 1060.9 L1073.9 1061.3 L1074.9 1061.7 L1075.9 1062.1 L1076.9 1062.6 L1077.9 1063.4 L1078.9 1064.3 L1079.9 1065.2 L1080.9 1065.9 L1081.9 1066.3 L1082.9 1066.8 L1083.9 1067.2 L1084.9 1067.6 L1085.9 1067.8 L1086.9 1068.0 L1087.9 1068.4 L1088.9 1068.7 L1089.9 1069.1 L1090.9 1069.3 L1091.9 1069.5 L1092.9 1069.6 L1093.9 1069.7 L1094.9 1069.6 L1095.9 1069.2 L1096.9 1068.5 L1097.9 1067.8 L1098.9 1067.3 L1099.9 1066.9 L1100.9 1066.8 L1101.9 1067.1 L1102.9 1067.6 L1103.9 1068.1 L1104.9 1068.4 L1105.9 1068.5 L1106.9 1068.4 L1107.9 1068.2 L1108.9 1067.7 L1109.9 1067.2 L1110.9 1066.6 L1111.9 1066.1 L1112.9 1065.8 L1113.9 1065.9 L1114.9 1066.5 L1115.9 1067.0 L1116.9 1066.9 L1117.9 1066.6 L1118.9 1066.1 L1119.9 1065.6 L1120.9 1064.9 L1121.9 1064.3 L1122.9 1062.7 L1123.9 1060.6 L1124.9 1059.1 L1125.9 1058.0 L1126.9 1057.3 L1127.9 1056.6 L1128.9 1056.1 L1129.9 1055.8 L1130.9 1055.0 L1131.9 1054.2 L1132.9 1054.3 L1133.9 1054.2 L1134.9 1053.5 L1135.9 1053.0 L1136.9 1051.7 L1137.9 1049.5 L1138.9 1043.5 L1139.9 1044.7 L1140.9 1048.3 L1141.9 1043.4 L1142.9 1040.9 L1143.9 1041.8 L1144.9 1042.4 L1145.9 1042.5 L1146.9 1043.5 L1147.9 1045.1 L1148.9 1046.1 L1149.9 1045.9 L1150.9 1044.1 L1151.9 1042.3 L1152.9 1041.2 L1153.9 1040.2 L1154.9 1039.6 L1155.9 1036.8 L1156.9 1032.2 L1157.9 1030.5 L1158.9 1033.1 L1159.9 1036.6 L1160.9 1037.9 L1161.9 1035.0 L1162.9 1029.6 L1163.9 1025.9 L1164.9 1026.1 L1165.9 1026.9 L1166.9 1028.3 L1167.9 1032.4 L1168.9 1039.0 L1169.9 1041.8 L1170.9 1029.6 L1171.9 1028.6 L1172.9 1029.2 L1173.9 1025.5 L1174.9 1015.8 L1175.3 1012.4"/>
<path stroke="#7f8cf0" d="M108.9 1086.7 L109.9 1086.5 L110.9 1086.6 L111.9 1087.2 L112.9 1087.5 L113.9 1087.2 L114.9 1087.7 L115.9 1087.9 L116.9 1087.4 L117.9 1087.2 L118.9 1087.6 L119.9 1088.3 L120.9 1088.5 L121.9 1088.3 L122.9 1088.0 L123.9 1087.3 L124.9 1086.7 L125.9 1086.4 L126.9 1086.6 L127.9 1087.1 L128.9 1087.1 L129.9 1087.1 L130.9 1087.4 L131.9 1087.3 L132.9 1087.0 L133.9 1087.3 L134.9 1088.0 L135.9 1087.6 L136.9 1086.9 L137.9 1087.2 L138.9 1087.7 L139.9 1087.7 L140.9 1087.9 L141.9 1087.6 L142.9 1087.0 L143.9 1087.4 L144.9 1087.3 L145.9 1086.8 L146.9 1087.1 L147.9 1087.5 L148.9 1087.6 L149.9 1087.4 L150.9 1087.4 L151.9 1087.9 L152.9 1088.4 L153.9 1088.4 L154.9 1088.3 L155.9 1088.5 L156.9 1088.5 L157.9 1088.1 L158.9 1087.9 L159.9 1087.8 L160.9 1087.8 L161.9 1087.4 L162.9 1086.8 L163.9 1087.0 L164.9 1087.1 L165.9 1086.4 L166.9 1086.7 L167.9 1087.4 L168.9 1087.1 L169.9 1087.0 L170.9 1087.3 L171.9 1087.0 L172.9 1086.8 L173.9 1086.9 L174.9 1087.0 L175.9 1087.0 L176.9 1087.5 L177.9 1087.9 L178.9 1088.0 L179.9 1088.0 L180.9 1088.0 L181.9 1087.8 L182.9 1087.6 L183.9 1087.3 L184.9 1087.4 L185.9 1087.3 L186.9 1087.1 L187.9 1087.4 L188.9 1087.7 L189.9 1087.4 L190.9 1086.7 L191.9 1086.5 L192.9 1087.3 L193.9 1087.1 L194.9 1086.6 L195.9 1087.0 L196.9 1087.2 L197.9 1087.3 L198.9 1087.5 L199.9 1087.7 L200.9 1087.6 L201.9 1087.4 L202.9 1087.5 L203.9 1087.4 L204.9 1087.2 L205.9 1087.5 L206.9 1087.6 L207.9 1087.1 L208.9 1087.0 L209.9 1087.0 L210.9 1087.3 L211.9 1087.4 L212.9 1087.2 L213.9 1087.5 L214.9 1087.7 L215.9 1087.8 L216.9 1087.8 L217.9 1087.5 L218.9 1087.8 L219.9 1088.1 L220.9 1087.6 L221.9 1087.1 L222.9 1087.2 L223.9 1087.2 L224.9 1087.0 L225.9 1086.6 L226.9 1086.3 L227.9 1086.2 L228.9 1086.3 L229.9 1086.3 L230.9 1086.7 L231.9 1086.9 L232.9 1086.5 L233.9 1086.1 L234.9 1086.3 L235.9 1086.2 L236.9 1085.7 L237.9 1085.6 L238.9 1085.3 L239.9 1085.0 L240.9 1085.1 L241.9 1085.2 L242.9 1084.7 L243.9 1084.5 L244.9 1084.7 L245.9 1084.9 L246.9 1084.5 L247.9 1083.9 L248.9 1083.9 L249.9 1083.9 L250.9 1083.8 L251.9 1083.4 L252.9 1082.7 L253.9 1082.4 L254.9 1082.3 L255.9 1082.5 L256.9 1082.5 L257.9 1081.8 L258.9 1081.6 L259.9 1081.8 L260.9 1081.0 L261.9 1080.5 L262.9 1080.2 L263.9 1079.9 L264.9 1080.1 L265.9 1080.1 L266.9 1079.6 L267.9 1079.1 L268.9 1078.5 L269.9 1078.0 L270.9 1077.9 L271.9 1077.5 L272.9 1077.3 L273.9 1077.6 L274.9 1077.5 L275.9 1077.0 L276.9 1077.3 L277.9 1077.3 L278.9 1076.5 L279.9 1075.9 L280.9 1075.5 L281.9 1075.0 L282.9 1074.7 L283.9 1074.8 L284.9 1074.5 L285.9 1073.7 L286.9 1073.2 L287.9 1072.7 L288.9 1072.2 L289.9 1071.6 L290.9 1071.5 L291.9 1071.6 L292.9 1071.3 L293.9 1071.1 L294.9 1071.0 L295.9 1070.4 L296.9 1069.7 L297.9 1069.0 L298.9 1068.8 L299.9 1068.9 L300.9 1068.2 L301.9 1067.4 L302.9 1067.2 L303.9 1067.3 L304.9 1067.2 L305.9 1067.3 L306.9 1067.1 L307.9 1066.7 L308.9 1066.7 L309.9 1066.8 L310.9 1066.4 L311.9 1066.1 L312.9 1066.2 L313.9 1066.2 L314.9 1066.3 L315.9 1066.5 L316.9 1066.7 L317.9 1066.7 L318.9 1066.3 L319.9 1066.0 L320.9 1066.2 L321.9 1066.2 L322.9 1066.0 L323.9 1065.9 L324.9 1065.8 L325.9 1065.9 L326.9 1066.5 L327.9 1067.0 L328.9 1066.6 L329.9 1066.3 L330.9 1066.3 L331.9 1066.3 L332.9 1066.7 L333.9 1067.1 L334.9 1067.1 L335.9 1067.4 L336.9 1067.4 L337.9 1067.0 L338.9 1067.1 L339.9 1067.4 L340.9 1067.9 L341.9 1068.8 L342.9 1069.3 L343.9 1069.4 L344.9 1069.5 L345.9 1069.9 L346.9 1070.7 L347.9 1071.5 L348.9 1071.5 L349.9 1071.6 L350.9 1071.9 L351.9 1071.9 L352.9 1072.0 L353.9 1072.5 L354.9 1072.8 L355.9 1072.8 L356.9 1073.0 L357.9 1073.3 L358.9 1073.1 L359.9 1072.9 L360.9 1073.0 L361.9 1073.4 L362.9 1073.8 L363.9 1074.4 L364.9 1074.5 L365.9 1074.3 L366.9 1074.4 L367.9 1074.7 L368.9 1074.7 L369.9 1074.5 L370.9 1075.2 L371.9 1075.9 L372.9 1075.5 L373.9 1075.4 L374.9 1076.1 L375.9 1076.2 L376.9 1076.2 L377.9 1076.3 L378.9 1075.9 L379.9 1075.7 L380.9 1076.2 L381.9 1076.9 L382.9 1077.6 L383.9 1078.1 L384.9 1078.0 L385.9 1077.6 L386.9 1077.2 L387.9 1077.3 L388.9 1077.9 L389.9 1078.4 L390.9 1077.9 L391.9 1077.8 L392.9 1078.9 L393.9 1079.3 L394.9 1079.0 L395.9 1079.4 L396.9 1080.0 L397.9 1079.7 L398.9 1079.1 L399.9 1079.1 L400.9 1079.4 L401.9 1079.6 L402.9 1079.4 L403.9 1079.0 L404.9 1079.3 L405.9 1079.3 L406.9 1078.6 L407.9 1078.4 L408.9 1078.7 L409.9 1078.8 L410.9 1078.5 L411.9 1078.0 L412.9 1078.1 L413.9 1078.7 L414.9 1078.8 L415.9 1078.5 L416.9 1078.9 L417.9 1079.2 L418.9 1078.7 L419.9 1078.1 L420.9 1078.1 L421.9 1078.4 L422.9 1078.4 L423.9 1078.2 L424.9 1078.0 L425.9 1078.1 L426.9 1078.1 L427.9 1078.0 L428.9 1077.8 L429.9 1077.4 L430.9 1077.5 L431.9 1077.7 L432.9 1078.0 L433.9 1078.1 L434.9 1077.6 L435.9 1077.1 L436.9 1077.3 L437.9 1077.8 L438.9 1077.8 L439.9 1077.4 L440.9 1077.4 L441.9 1077.6 L442.9 1077.0 L443.9 1076.2 L444.9 1076.1 L445.9 1076.4 L446.9 1076.6 L447.9 1076.7 L448.9 1076.9 L449.9 1076.9 L450.9 1076.9 L451.9 1076.9 L452.9 1077.0 L453.9 1077.2 L454.9 1077.5 L455.9 1077.9 L456.9 1077.8 L457.9 1077.2 L458.9 1076.5 L459.9 1075.8 L460.9 1075.8 L461.9 1077.0 L462.9 1077.7 L463.9 1077.2 L464.9 1077.1 L465.9 1077.6 L466.9 1077.3 L467.9 1076.9 L468.9 1076.5 L469.9 1076.8 L470.9 1077.6 L471.9 1077.5 L472.9 1077.0 L473.9 1077.2 L474.9 1077.4 L475.9 1077.1 L476.9 1077.1 L477.9 1077.2 L478.9 1077.4 L479.9 1077.8 L480.9 1077.8 L481.9 1077.6 L482.9 1077.5 L483.9 1077.5 L484.9 1077.4 L485.9 1077.5 L486.9 1077.5 L487.9 1077.8 L488.9 1078.2 L489.9 1078.4 L490.9 1078.7 L491.9 1078.9 L492.9 1078.6 L493.9 1078.3 L494.9 1078.7 L495.9 1079.3 L496.9 1079.4 L497.9 1079.6 L498.9 1079.3 L499.9 1078.7 L500.9 1079.0 L501.9 1079.3 L502.9 1078.9 L503.9 1078.7 L504.9 1079.0 L505.9 1079.6 L506.9 1080.2 L507.9 1080.1 L508.9 1079.4 L509.9 1079.0 L510.9 1079.1 L511.9 1079.4 L512.9 1079.8 L513.9 1080.2 L514.9 1079.8 L515.9 1079.7 L516.9 1080.1 L517.9 1080.1 L518.9 1079.9 L519.9 1080.0 L520.9 1080.4 L521.9 1080.4 L522.9 1080.2 L523.9 1080.3 L524.9 1080.9 L525.9 1081.1 L526.9 1080.7 L527.9 1081.0 L528.9 1081.2 L529.9 1080.8 L530.9 1081.4 L531.9 1081.8 L532.9 1081.4 L533.9 1081.7 L534.9 1081.8 L535.9 1081.4 L536.9 1080.9 L537.9 1080.6 L538.9 1080.6 L539.9 1081.1 L540.9 1081.6 L541.9 1081.9 L542.9 1081.3 L543.9 1080.9 L544.9 1081.7 L545.9 1082.1 L546.9 1081.8 L547.9 1081.2 L548.9 1080.8 L549.9 1081.3 L550.9 1082.3 L551.9 1082.3 L552.9 1081.9 L553.9 1081.7 L554.9 1081.3 L555.9 1080.9 L556.9 1081.1 L557.9 1081.0 L558.9 1080.4 L559.9 1080.0 L560.9 1080.2 L561.9 1081.1 L562.9 1081.6 L563.9 1080.8 L564.9 1080.2 L565.9 1080.4 L566.9 1080.7 L567.9 1080.6 L568.9 1080.5 L569.9 1081.5 L570.9 1082.8 L571.9 1082.3 L572.9 1081.3 L573.9 1081.7 L574.9 1082.6 L575.9 1082.9 L576.9 1081.8 L577.9 1081.1 L578.9 1082.3 L579.9 1083.2 L580.9 1083.0 L581.9 1082.6 L582.9 1082.7 L583.9 1082.8 L584.9 1082.6 L585.9 1082.6 L586.9 1082.0 L587.9 1081.6 L588.9 1081.5 L589.9 1081.5 L590.9 1081.9 L591.9 1083.1 L592.9 1083.4 L593.9 1081.9 L594.9 1081.7 L595.9 1082.7 L596.9 1082.6 L597.9 1082.5 L598.9 1082.9 L599.9 1082.8 L600.9 1082.5 L601.9 1083.2 L602.9 1082.6 L603.9 1081.0 L604.9 1081.4 L605.9 1082.3 L606.9 1082.6 L607.9 1082.3 L608.9 1081.8 L609.9 1082.1 L610.9 1082.7 L611.9 1082.6 L612.9 1083.3 L613.9 1084.4 L614.9 1083.4 L615.9 1082.0 L616.9 1082.4 L617.9 1082.6 L618.9 1082.4 L619.9 1083.4 L620.9 1083.8 L621.9 1082.5 L622.9 1082.5 L623.9 1082.1 L624.9 1081.6 L625.9 1082.2 L626.9 1082.3 L627.9 1082.9 L628.9 1083.5 L629.9 1084.1 L630.9 1084.5 L631.9 1083.7 L632.9 1082.7 L633.9 1082.1 L634.9 1082.1 L635.9 1083.1 L636.9 1084.0 L637.9 1084.2 L638.9 1084.3 L639.9 1084.0 L640.9 1083.1 L641.9 1082.9 L642.9 1082.8 L643.9 1082.1 L644.9 1081.3 L645.9 1081.0 L646.9 1081.1 L647.9 1081.8 L648.9 1082.4 L649.9 1082.2 L650.9 1081.5 L651.9 1081.9 L652.9 1081.8 L653.9 1081.8 L654.9 1083.6 L655.9 1083.7 L656.9 1083.3 L657.9 1084.6 L658.9 1083.8 L659.9 1081.6 L660.9 1081.7 L661.9 1082.5 L662.9 1082.5 L663.9 1082.3 L664.9 1082.5 L665.9 1082.1 L666.9 1081.3 L667.9 1082.8 L668.9 1084.2 L669.9 1084.1 L670.9 1084.6 L671.9 1084.8 L672.9 1084.1 L673.9 1083.7 L674.9 1083.5 L675.9 1084.6 L676.9 1086.8 L677.9 1085.6 L678.9 1084.2 L679.9 1084.6 L680.9 1084.1 L681.9 1082.3 L682.9 1082.0 L683.9 1083.1 L684.9 1083.2 L685.9 1082.0 L686.9 1082.0 L687.9 1083.5 L688.9 1083.9 L689.9 1083.1 L690.9 1082.6 L691.9 1082.2 L692.9 1081.7 L693.9 1082.1 L694.9 1082.9 L695.9 1083.4 L696.9 1083.3 L697.9 1081.9 L698.9 1081.6 L699.9 1082.6 L700.9 1082.5 L701.9 1082.5 L702.9 1082.5 L703.9 1081.6 L704.9 1081.6 L705.9 1081.7 L706.9 1081.4 L707.9 1081.8 L708.9 1082.2 L709.9 1083.1 L710.9 1083.6 L711.9 1083.5 L712.9 1083.5 L713.9 1082.8 L714.9 1082.3 L715.9 1083.1 L716.9 1083.6 L717.9 1083.3 L718.9 1083.0 L719.9 1083.1 L720.9 1083.9 L721.9 1084.1 L722.9 1083.0 L723.9 1081.8 L724.9 1081.4 L725.9 1082.3 L726.9 1083.6 L727.9 1083.8 L728.9 1083.1 L729.9 1082.6 L730.9 1082.6 L731.9 1082.9 L732.9 1082.1 L733.9 1082.2 L734.9 1083.5 L735.9 1083.7 L736.9 1082.6 L737.9 1081.5 L738.9 1081.8 L739.9 1083.2 L740.9 1084.0 L741.9 1084.0 L742.9 1083.1 L743.9 1082.3 L744.9 1082.7 L745.9 1083.1 L746.9 1082.4 L747.9 1083.3 L748.9 1083.9 L749.9 1082.1 L750.9 1081.0 L751.9 1080.9 L752.9 1081.4 L753.9 1082.4 L754.9 1082.4 L755.9 1081.9 L756.9 1082.7 L757.9 1083.6 L758.9 1082.9 L759.9 1083.0 L760.9 1083.6 L761.9 1082.5 L762.9 1082.4 L763.9 1083.5 L764.9 1082.4 L765.9 1080.8 L766.9 1080.3 L767.9 1080.2 L768.9 1081.2 L769.9 1081.8 L770.9 1081.8 L771.9 1083.3 L772.9 1084.1 L773.9 1083.1 L774.9 1082.0 L775.9 1082.2 L776.9 1083.0 L777.9 1083.6 L778.9 1082.7 L779.9 1080.7 L780.9 1080.3 L781.9 1080.8 L782.9 1081.5 L783.9 1082.9 L784.9 1083.8 L785.9 1083.1 L786.9 1082.6 L787.9 1082.3 L788.9 1082.6 L789.9 1082.8 L790.9 1081.9 L791.9 1082.7 L792.9 1084.9 L793.9 1084.9 L794.9 1082.3 L795.9 1080.3 L796.9 1080.2 L797.9 1080.9 L798.9 1081.5 L799.9 1082.0 L800.9 1082.3 L801.9 1081.8 L802.9 1081.0 L803.9 1080.1 L804.9 1080.3 L805.9 1080.2 L806.9 1079.7 L807.9 1080.9 L808.9 1081.9 L809.9 1081.6 L810.9 1081.4 L811.9 1080.8 L812.9 1080.4 L813.9 1080.6 L814.9 1080.7 L815.9 1080.9 L816.9 1081.1 L817.9 1080.6 L818.9 1080.1 L819.9 1080.8 L820.9 1081.9 L821.9 1081.4 L822.9 1080.2 L823.9 1079.9 L824.9 1080.2 L825.9 1079.5 L826.9 1078.4 L827.9 1079.0 L828.9 1079.3 L829.9 1078.4 L830.9 1078.0 L831.9 1078.1 L832.9 1077.9 L833.9 1077.7 L834.9 1076.9 L835.9 1076.4 L836.9 1077.1 L837.9 1077.6 L838.9 1077.4 L839.9 1077.1 L840.9 1077.7 L841.9 1078.2 L842.9 1077.7 L843.9 1077.3 L844.9 1077.4 L845.9 1077.8 L846.9 1078.4 L847.9 1078.7 L848.9 1078.6 L849.9 1078.6 L850.9 1078.7 L851.9 1078.9 L852.9 1078.9 L853.9 1079.1 L854.9 1079.3 L855.9 1079.3 L856.9 1079.2 L857.9 1079.3 L858.9 1079.6 L859.9 1079.9 L860.9 1079.9 L861.9 1080.2 L862.9 1080.6 L863.9 1080.4 L864.9 1080.1 L865.9 1079.8 L866.9 1079.6 L867.9 1079.7 L868.9 1080.1 L869.9 1080.3 L870.9 1080.1 L871.9 1079.7 L872.9 1079.5 L873.9 1079.4 L874.9 1079.4 L875.9 1079.1 L876.9 1078.4 L877.9 1077.9 L878.9 1077.7 L879.9 1077.3 L880.9 1076.7 L881.9 1076.1 L882.9 1075.5 L883.9 1075.0 L884.9 1074.4 L885.9 1073.8 L886.9 1072.9 L887.9 1071.8 L888.9 1071.0 L889.9 1070.1 L890.9 1069.0 L891.9 1068.1 L892.9 1067.1 L893.9 1065.7 L894.9 1064.7 L895.9 1064.0 L896.9 1062.9 L897.9 1061.8 L898.9 1060.9 L899.9 1060.2 L900.9 1059.9 L901.9 1059.5 L902.9 1058.9 L903.9 1058.3 L904.9 1058.4 L905.9 1058.7 L906.9 1059.0 L907.9 1059.7 L908.9 1060.5 L909.9 1061.3 L910.9 1062.2 L911.9 1063.3 L912.9 1064.3 L913.9 1065.3 L914.9 1066.0 L915.9 1065.9 L916.9 1065.6 L917.9 1065.4 L918.9 1065.1 L919.9 1064.4 L920.9 1063.6 L921.9 1063.0 L922.9 1062.9 L923.9 1063.3 L924.9 1063.8 L925.9 1064.4 L926.9 1065.1 L927.9 1065.7 L928.9 1066.0 L929.9 1065.9 L930.9 1065.5 L931.9 1065.0 L932.9 1064.5 L933.9 1063.7 L934.9 1062.7 L935.9 1062.0 L936.9 1061.6 L937.9 1061.1 L938.9 1060.8 L939.9 1061.1 L940.9 1062.2 L941.9 1064.3 L942.9 1066.4 L943.9 1068.0 L944.9 1069.7 L945.9 1070.4 L946.9 1070.4 L947.9 1070.4 L948.9 1070.3 L949.9 1070.6 L950.9 1070.6 L951.9 1070.4 L952.9 1070.4 L953.9 1070.5 L954.9 1070.6 L955.9 1070.7 L956.9 1070.7 L957.9 1070.6 L958.9 1070.7 L959.9 1070.9 L960.9 1071.2 L961.9 1071.5 L962.9 1071.8 L963.9 1072.3 L964.9 1073.1 L965.9 1074.1 L966.9 1075.0 L967.9 1075.8 L968.9 1076.2 L969.9 1076.2 L970.9 1075.7 L971.9 1074.8 L972.9 1074.0 L973.9 1073.5 L974.9 1073.8 L975.9 1074.6 L976.9 1075.6 L977.9 1076.3 L978.9 1076.9 L979.9 1077.0 L980.9 1075.1 L981.9 1071.3 L982.9 1066.7 L983.9 1062.3 L984.9 1058.3 L985.9 1053.7 L986.9 1050.0 L987.9 1049.2 L988.9 1050.8 L989.9 1053.8 L990.9 1057.1 L991.9 1060.3 L992.9 1062.7 L993.9 1063.2 L994.9 1060.6 L995.9 1055.7 L996.9 1049.8 L997.9 1044.3 L998.9 1039.9 L999.9 1037.1 L1000.9 1034.6 L1001.9 1032.5 L1002.9 1031.1 L1003.9 1030.7 L1004.9 1031.1 L1005.9 1032.1 L1006.9 1033.4 L1007.9 1034.5 L1008.9 1035.3 L1009.9 1035.1 L1010.9 1033.0 L1011.9 1029.3 L1012.9 1024.5 L1013.9 1019.2 L1014.9 1013.9 L1015.9 1009.2 L1016.9 1003.8 L1017.9 997.5 L1018.9 991.7 L1019.9 987.8 L1020.9 986.9 L1021.9 988.6 L1022.9 991.3 L1023.9 993.2 L1024.9 992.6 L1025.9 988.6 L1026.9 983.5 L1027.9 979.4 L1028.9 978.6 L1029.9 981.2 L1030.9 984.8 L1031.9 988.2 L1032.9 991.6 L1033.9 992.5 L1034.9 991.9 L1035.9 991.7 L1036.9 991.8 L1037.9 992.5 L1038.9 994.8 L1039.9 996.7 L1040.9 998.0 L1041.9 996.9 L1042.9 998.3 L1043.9 1004.2 L1044.9 1009.7 L1045.9 1013.9 L1046.9 1017.9 L1047.9 1021.5 L1048.9 1025.3 L1049.9 1029.1 L1050.9 1032.8 L1051.9 1036.4 L1052.9 1039.6 L1053.9 1042.3 L1054.9 1044.2 L1055.9 1045.7 L1056.9 1047.1 L1057.9 1048.2 L1058.9 1049.3 L1059.9 1050.4 L1060.9 1051.4 L1061.9 1052.1 L1062.9 1052.7 L1063.9 1053.0 L1064.9 1052.9 L1065.9 1052.4 L1066.9 1051.5 L1067.9 1050.5 L1068.9 1049.6 L1069.9 1049.2 L1070.9 1049.8 L1071.9 1051.2 L1072.9 1052.5 L1073.9 1052.9 L1074.9 1050.0 L1075.9 1045.5 L1076.9 1042.7 L1077.9 1044.9 L1078.9 1051.3 L1079.9 1056.8 L1080.9 1057.9 L1081.9 1058.5 L1082.9 1058.9 L1083.9 1059.4 L1084.9 1059.8 L1085.9 1059.9 L1086.9 1060.0 L1087.9 1060.3 L1088.9 1060.5 L1089.9 1060.5 L1090.9 1060.5 L1091.9 1060.3 L1092.9 1060.3 L1093.9 1060.2 L1094.9 1060.2 L1095.9 1060.1 L1096.9 1060.0 L1097.9 1059.8 L1098.9 1059.7 L1099.9 1059.7 L1100.9 1059.7 L1101.9 1059.6 L1102.9 1059.6 L1103.9 1059.5 L1104.9 1059.5 L1105.9 1059.4 L1106.9 1059.1 L1107.9 1058.9 L1108.9 1058.7 L1109.9 1058.5 L1110.9 1058.1 L1111.9 1057.7 L1112.9 1057.2 L1113.9 1056.7 L1114.9 1056.1 L1115.9 1055.5 L1116.9 1054.8 L1117.9 1053.9 L1118.9 1053.0 L1119.9 1052.0 L1120.9 1050.4 L1121.9 1048.1 L1122.9 1045.9 L1123.9 1043.8 L1124.9 1041.2 L1125.9 1039.0 L1126.9 1038.3 L1127.9 1037.7 L1128.9 1037.1 L1129.9 1037.2 L1130.9 1036.5 L1131.9 1035.0 L1132.9 1033.8 L1133.9 1032.5 L1134.9 1031.0 L1135.9 1029.4 L1136.9 1028.1 L1137.9 1026.9 L1138.9 1025.1 L1139.9 1021.4 L1140.9 1017.1 L1141.9 1014.3 L1142.9 1013.9 L1143.9 1014.5 L1144.9 1015.6 L1145.9 1016.4 L1146.9 1017.6 L1147.9 1019.0 L1148.9 1019.5 L1149.9 1019.1 L1150.9 1016.9 L1151.9 1013.0 L1152.9 1009.2 L1153.9 1006.4 L1154.9 1003.2 L1155.9 999.1 L1156.9 995.5 L1157.9 994.9 L1158.9 997.1 L1159.9 999.0 L1160.9 998.4 L1161.9 994.9 L1162.9 990.6 L1163.9 989.3 L1164.9 992.5 L1165.9 994.6 L1166.9 986.1 L1167.9 983.7 L1168.9 994.9 L1169.9 1001.6 L1170.9 981.6 L1171.9 977.4 L1172.9 977.0 L1173.9 976.3 L1174.9 972.7 L1175.3 970.9"/>
<path stroke="#00508f" d="M108.9 1080.5 L109.9 1080.5 L110.9 1079.9 L111.9 1079.6 L112.9 1079.7 L113.9 1079.8 L114.9 1080.4 L115.9 1080.8 L116.9 1080.8 L117.9 1080.8 L118.9 1080.5 L119.9 1080.1 L120.9 1080.4 L121.9 1080.7 L122.9 1080.3 L123.9 1080.0 L124.9 1079.9 L125.9 1079.9 L126.9 1080.1 L127.9 1080.3 L128.9 1080.2 L129.9 1080.0 L130.9 1080.0 L131.9 1080.0 L132.9 1079.9 L133.9 1080.3 L134.9 1080.6 L135.9 1080.3 L136.9 1080.6 L137.9 1081.1 L138.9 1080.2 L139.9 1079.5 L140.9 1080.2 L141.9 1081.2 L142.9 1081.1 L143.9 1080.3 L144.9 1080.3 L145.9 1080.3 L146.9 1079.8 L147.9 1079.7 L148.9 1080.2 L149.9 1080.2 L150.9 1080.3 L151.9 1080.7 L152.9 1081.2 L153.9 1080.9 L154.9 1080.1 L155.9 1080.2 L156.9 1080.5 L157.9 1080.0 L158.9 1080.1 L159.9 1080.2 L160.9 1079.7 L161.9 1079.5 L162.9 1079.8 L163.9 1080.3 L164.9 1080.6 L165.9 1080.9 L166.9 1081.0 L167.9 1080.9 L168.9 1081.0 L169.9 1081.0 L170.9 1080.8 L171.9 1080.7 L172.9 1081.3 L173.9 1081.9 L174.9 1081.9 L175.9 1081.2 L176.9 1080.5 L177.9 1079.8 L178.9 1079.2 L179.9 1080.0 L180.9 1080.9 L181.9 1080.5 L182.9 1080.2 L183.9 1080.8 L184.9 1081.1 L185.9 1080.9 L186.9 1081.0 L187.9 1081.3 L188.9 1081.2 L189.9 1080.8 L190.9 1080.9 L191.9 1081.4 L192.9 1081.5 L193.9 1081.5 L194.9 1081.9 L195.9 1082.2 L196.9 1082.0 L197.9 1081.7 L198.9 1081.7 L199.9 1081.5 L200.9 1081.0 L201.9 1081.1 L202.9 1081.1 L203.9 1080.9 L204.9 1080.8 L205.9 1080.7 L206.9 1081.0 L207.9 1081.2 L208.9 1080.8 L209.9 1080.7 L210.9 1081.2 L211.9 1081.2 L212.9 1080.9 L213.9 1080.8 L214.9 1080.7 L215.9 1080.8 L216.9 1080.6 L217.9 1080.2 L218.9 1079.7 L219.9 1079.5 L220.9 1080.1 L221.9 1080.8 L222.9 1080.7 L223.9 1080.7 L224.9 1080.3 L225.9 1079.8 L226.9 1079.4 L227.9 1079.6 L228.9 1080.1 L229.9 1079.7 L230.9 1078.8 L231.9 1078.6 L232.9 1078.7 L233.9 1078.4 L234.9 1078.0 L235.9 1077.6 L236.9 1077.7 L237.9 1077.9 L238.9 1077.4 L239.9 1076.8 L240.9 1076.4 L241.9 1076.0 L242.9 1076.0 L243.9 1076.2 L244.9 1076.0 L245.9 1075.2 L246.9 1074.4 L247.9 1074.3 L248.9 1074.5 L249.9 1074.0 L250.9 1073.6 L251.9 1074.2 L252.9 1074.4 L253.9 1073.3 L254.9 1073.2 L255.9 1073.3 L256.9 1072.6 L257.9 1072.1 L258.9 1072.1 L259.9 1071.9 L260.9 1071.6 L261.9 1071.1 L262.9 1070.5 L263.9 1070.4 L264.9 1070.3 L265.9 1069.8 L266.9 1069.4 L267.9 1069.1 L268.9 1068.7 L269.9 1067.9 L270.9 1067.0 L271.9 1066.1 L272.9 1065.6 L273.9 1065.2 L274.9 1064.5 L275.9 1063.9 L276.9 1063.5 L277.9 1063.4 L278.9 1063.4 L279.9 1062.8 L280.9 1061.8 L281.9 1061.6 L282.9 1061.9 L283.9 1061.8 L284.9 1060.9 L285.9 1059.6 L286.9 1059.1 L287.9 1059.3 L288.9 1059.0 L289.9 1058.3 L290.9 1057.7 L291.9 1057.0 L292.9 1056.3 L293.9 1056.1 L294.9 1055.7 L295.9 1055.2 L296.9 1054.2 L297.9 1053.0 L298.9 1052.9 L299.9 1053.2 L300.9 1052.6 L301.9 1051.6 L302.9 1050.2 L303.9 1048.7 L304.9 1048.2 L305.9 1047.6 L306.9 1046.1 L307.9 1044.9 L308.9 1044.3 L309.9 1044.0 L310.9 1043.9 L311.9 1043.6 L312.9 1043.6 L313.9 1044.0 L314.9 1043.9 L315.9 1043.3 L316.9 1042.9 L317.9 1043.0 L318.9 1043.9 L319.9 1044.5 L320.9 1044.0 L321.9 1043.5 L322.9 1043.5 L323.9 1043.4 L324.9 1042.9 L325.9 1042.6 L326.9 1043.2 L327.9 1043.9 L328.9 1043.9 L329.9 1043.6 L330.9 1043.2 L331.9 1043.3 L332.9 1043.5 L333.9 1043.6 L334.9 1043.9 L335.9 1044.5 L336.9 1045.2 L337.9 1045.7 L338.9 1046.7 L339.9 1047.8 L340.9 1048.5 L341.9 1048.9 L342.9 1049.1 L343.9 1049.4 L344.9 1049.9 L345.9 1050.2 L346.9 1050.5 L347.9 1051.0 L348.9 1051.4 L349.9 1051.8 L350.9 1052.4 L351.9 1052.8 L352.9 1053.6 L353.9 1054.6 L354.9 1054.9 L355.9 1054.9 L356.9 1055.2 L357.9 1055.8 L358.9 1056.7 L359.9 1057.0 L360.9 1056.8 L361.9 1056.6 L362.9 1056.9 L363.9 1057.4 L364.9 1057.6 L365.9 1058.0 L366.9 1058.3 L367.9 1058.0 L368.9 1058.0 L369.9 1058.6 L370.9 1059.2 L371.9 1059.8 L372.9 1060.2 L373.9 1060.3 L374.9 1060.8 L375.9 1061.8 L376.9 1062.1 L377.9 1061.9 L378.9 1062.5 L379.9 1063.2 L380.9 1063.2 L381.9 1063.1 L382.9 1063.4 L383.9 1063.3 L384.9 1062.7 L385.9 1062.5 L386.9 1063.2 L387.9 1064.1 L388.9 1064.5 L389.9 1064.5 L390.9 1064.8 L391.9 1064.9 L392.9 1064.5 L393.9 1064.3 L394.9 1064.5 L395.9 1065.3 L396.9 1066.0 L397.9 1065.9 L398.9 1065.3 L399.9 1065.5 L400.9 1066.4 L401.9 1066.5 L402.9 1066.5 L403.9 1067.2 L404.9 1067.9 L405.9 1067.9 L406.9 1067.9 L407.9 1068.2 L408.9 1068.0 L409.9 1067.8 L410.9 1068.3 L411.9 1069.5 L412.9 1069.9 L413.9 1069.5 L414.9 1069.5 L415.9 1069.9 L416.9 1070.2 L417.9 1070.4 L418.9 1070.2 L419.9 1069.8 L420.9 1069.4 L421.9 1068.8 L422.9 1068.5 L423.9 1068.8 L424.9 1068.9 L425.9 1068.8 L426.9 1068.4 L427.9 1067.8 L428.9 1067.7 L429.9 1067.7 L430.9 1067.2 L431.9 1066.4 L432.9 1066.1 L433.9 1066.2 L434.9 1066.0 L435.9 1065.5 L436.9 1065.2 L437.9 1064.9 L438.9 1064.8 L439.9 1064.5 L440.9 1063.4 L441.9 1062.7 L442.9 1062.7 L443.9 1061.9 L444.9 1061.2 L445.9 1060.6 L446.9 1060.1 L447.9 1060.2 L448.9 1060.5 L449.9 1060.3 L450.9 1060.3 L451.9 1060.8 L452.9 1060.8 L453.9 1060.8 L454.9 1060.8 L455.9 1060.8 L456.9 1060.8 L457.9 1060.7 L458.9 1061.1 L459.9 1061.9 L460.9 1062.4 L461.9 1062.6 L462.9 1062.5 L463.9 1062.6 L464.9 1062.9 L465.9 1063.4 L466.9 1064.0 L467.9 1064.3 L468.9 1064.2 L469.9 1064.0 L470.9 1064.1 L471.9 1063.9 L472.9 1063.9 L473.9 1064.7 L474.9 1065.3 L475.9 1065.8 L476.9 1065.8 L477.9 1065.3 L478.9 1065.5 L479.9 1066.1 L480.9 1066.5 L481.9 1066.5 L482.9 1066.3 L483.9 1066.7 L484.9 1067.6 L485.9 1067.8 L486.9 1067.6 L487.9 1067.9 L488.9 1067.6 L489.9 1067.5 L490.9 1067.9 L491.9 1067.7 L492.9 1067.6 L493.9 1068.4 L494.9 1068.7 L495.9 1068.4 L496.9 1067.9 L497.9 1067.8 L498.9 1067.9 L499.9 1067.5 L500.9 1067.9 L501.9 1069.0 L502.9 1069.4 L503.9 1069.5 L504.9 1069.1 L505.9 1068.7 L506.9 1068.7 L507.9 1068.7 L508.9 1069.3 L509.9 1069.6 L510.9 1069.3 L511.9 1069.5 L512.9 1069.5 L513.9 1069.0 L514.9 1068.7 L515.9 1069.3 L516.9 1069.5 L517.9 1069.1 L518.9 1069.1 L519.9 1069.1 L520.9 1069.2 L521.9 1069.9 L522.9 1070.0 L523.9 1070.1 L524.9 1070.1 L525.9 1070.4 L526.9 1071.0 L527.9 1070.2 L528.9 1069.6 L529.9 1070.2 L530.9 1070.2 L531.9 1069.6 L532.9 1069.8 L533.9 1070.4 L534.9 1070.6 L535.9 1070.7 L536.9 1070.7 L537.9 1070.6 L538.9 1070.8 L539.9 1070.9 L540.9 1070.6 L541.9 1070.4 L542.9 1070.7 L543.9 1071.4 L544.9 1071.8 L545.9 1071.5 L546.9 1071.5 L547.9 1071.7 L548.9 1071.7 L549.9 1071.3 L550.9 1070.5 L551.9 1069.4 L552.9 1069.8 L553.9 1071.1 L554.9 1071.5 L555.9 1071.3 L556.9 1071.1 L557.9 1071.1 L558.9 1070.9 L559.9 1071.1 L560.9 1071.9 L561.9 1071.7 L562.9 1071.0 L563.9 1070.9 L564.9 1071.1 L565.9 1070.9 L566.9 1070.6 L567.9 1070.6 L568.9 1070.8 L569.9 1070.3 L570.9 1070.6 L571.9 1072.1 L572.9 1073.2 L573.9 1072.9 L574.9 1071.8 L575.9 1071.2 L576.9 1072.0 L577.9 1072.4 L578.9 1071.6 L579.9 1070.5 L580.9 1069.5 L581.9 1070.2 L582.9 1071.4 L583.9 1070.7 L584.9 1070.3 L585.9 1071.0 L586.9 1071.0 L587.9 1070.8 L588.9 1071.5 L589.9 1072.0 L590.9 1071.5 L591.9 1070.9 L592.9 1070.3 L593.9 1070.2 L594.9 1071.1 L595.9 1070.9 L596.9 1070.4 L597.9 1071.3 L598.9 1072.2 L599.9 1072.5 L600.9 1072.9 L601.9 1072.8 L602.9 1072.0 L603.9 1072.0 L604.9 1071.7 L605.9 1071.5 L606.9 1072.3 L607.9 1072.4 L608.9 1072.4 L609.9 1072.2 L610.9 1072.0 L611.9 1072.9 L612.9 1073.4 L613.9 1071.7 L614.9 1070.6 L615.9 1072.0 L616.9 1072.2 L617.9 1071.2 L618.9 1070.9 L619.9 1072.0 L620.9 1075.0 L621.9 1075.7 L622.9 1072.6 L623.9 1068.6 L624.9 1064.8 L625.9 1062.8 L626.9 1064.7 L627.9 1069.0 L628.9 1071.8 L629.9 1071.8 L630.9 1072.5 L631.9 1072.4 L632.9 1071.4 L633.9 1071.6 L634.9 1071.8 L635.9 1072.0 L636.9 1072.5 L637.9 1071.9 L638.9 1072.0 L639.9 1073.2 L640.9 1073.5 L641.9 1073.9 L642.9 1074.1 L643.9 1072.0 L644.9 1070.7 L645.9 1071.2 L646.9 1071.6 L647.9 1072.1 L648.9 1072.0 L649.9 1071.9 L650.9 1072.1 L651.9 1071.3 L652.9 1070.7 L653.9 1071.7 L654.9 1073.1 L655.9 1073.6 L656.9 1074.3 L657.9 1074.8 L658.9 1074.2 L659.9 1073.0 L660.9 1072.6 L661.9 1073.7 L662.9 1075.0 L663.9 1075.1 L664.9 1074.1 L665.9 1073.1 L666.9 1073.6 L667.9 1074.4 L668.9 1074.0 L669.9 1072.5 L670.9 1072.4 L671.9 1073.2 L672.9 1073.3 L673.9 1073.2 L674.9 1073.5 L675.9 1074.6 L676.9 1076.0 L677.9 1074.7 L678.9 1072.8 L679.9 1072.1 L680.9 1072.7 L681.9 1073.4 L682.9 1073.8 L683.9 1074.2 L684.9 1074.2 L685.9 1073.1 L686.9 1072.4 L687.9 1073.5 L688.9 1073.8 L689.9 1072.8 L690.9 1072.6 L691.9 1074.1 L692.9 1074.9 L693.9 1074.5 L694.9 1073.9 L695.9 1074.1 L696.9 1075.0 L697.9 1074.3 L698.9 1072.6 L699.9 1072.4 L700.9 1073.6 L701.9 1073.8 L702.9 1072.7 L703.9 1072.7 L704.9 1073.4 L705.9 1073.4 L706.9 1073.0 L707.9 1072.0 L708.9 1071.1 L709.9 1071.2 L710.9 1072.0 L711.9 1071.8 L712.9 1071.3 L713.9 1072.0 L714.9 1072.2 L715.9 1072.8 L716.9 1073.9 L717.9 1074.0 L718.9 1073.2 L719.9 1072.2 L720.9 1071.5 L721.9 1071.8 L722.9 1072.9 L723.9 1073.6 L724.9 1072.9 L725.9 1072.7 L726.9 1073.6 L727.9 1074.5 L728.9 1075.5 L729.9 1075.5 L730.9 1075.5 L731.9 1076.2 L732.9 1075.7 L733.9 1074.2 L734.9 1073.8 L735.9 1074.3 L736.9 1075.1 L737.9 1075.4 L738.9 1074.7 L739.9 1074.1 L740.9 1074.4 L741.9 1074.5 L742.9 1074.4 L743.9 1074.7 L744.9 1074.6 L745.9 1074.8 L746.9 1075.4 L747.9 1076.4 L748.9 1076.8 L749.9 1074.5 L750.9 1072.5 L751.9 1073.4 L752.9 1074.6 L753.9 1074.7 L754.9 1075.0 L755.9 1075.2 L756.9 1074.5 L757.9 1074.1 L758.9 1075.2 L759.9 1075.4 L760.9 1074.6 L761.9 1076.0 L762.9 1076.8 L763.9 1074.9 L764.9 1073.3 L765.9 1073.2 L766.9 1074.0 L767.9 1075.3 L768.9 1075.6 L769.9 1074.2 L770.9 1073.0 L771.9 1072.5 L772.9 1073.0 L773.9 1073.1 L774.9 1072.6 L775.9 1073.7 L776.9 1074.9 L777.9 1074.6 L778.9 1072.9 L779.9 1072.0 L780.9 1072.2 L781.9 1071.9 L782.9 1071.4 L783.9 1071.6 L784.9 1072.7 L785.9 1074.5 L786.9 1074.9 L787.9 1073.8 L788.9 1073.3 L789.9 1073.7 L790.9 1073.8 L791.9 1073.3 L792.9 1073.0 L793.9 1072.6 L794.9 1072.1 L795.9 1072.3 L796.9 1072.4 L797.9 1072.0 L798.9 1072.4 L799.9 1072.5 L800.9 1072.8 L801.9 1073.9 L802.9 1074.2 L803.9 1073.8 L804.9 1074.2 L805.9 1074.4 L806.9 1074.4 L807.9 1073.8 L808.9 1072.9 L809.9 1073.4 L810.9 1073.4 L811.9 1072.6 L812.9 1072.9 L813.9 1073.7 L814.9 1074.0 L815.9 1073.1 L816.9 1071.7 L817.9 1071.4 L818.9 1072.2 L819.9 1072.3 L820.9 1071.8 L821.9 1071.8 L822.9 1071.6 L823.9 1070.6 L824.9 1070.0 L825.9 1070.2 L826.9 1070.2 L827.9 1069.7 L828.9 1068.4 L829.9 1067.3 L830.9 1067.4 L831.9 1067.2 L832.9 1066.1 L833.9 1065.4 L834.9 1065.5 L835.9 1065.2 L836.9 1064.2 L837.9 1063.7 L838.9 1063.8 L839.9 1064.4 L840.9 1065.1 L841.9 1065.2 L842.9 1065.1 L843.9 1065.3 L844.9 1065.4 L845.9 1065.2 L846.9 1065.2 L847.9 1065.5 L848.9 1065.8 L849.9 1066.1 L850.9 1066.5 L851.9 1066.8 L852.9 1067.0 L853.9 1067.0 L854.9 1067.1 L855.9 1067.5 L856.9 1067.6 L857.9 1067.8 L858.9 1068.3 L859.9 1068.5 L860.9 1068.4 L861.9 1068.3 L862.9 1068.7 L863.9 1069.4 L864.9 1069.4 L865.9 1069.3 L866.9 1069.2 L867.9 1069.2 L868.9 1069.3 L869.9 1069.2 L870.9 1068.8 L871.9 1068.3 L872.9 1068.1 L873.9 1068.0 L874.9 1067.8 L875.9 1067.3 L876.9 1066.6 L877.9 1065.9 L878.9 1065.3 L879.9 1064.7 L880.9 1063.9 L881.9 1063.3 L882.9 1062.7 L883.9 1062.2 L884.9 1061.4 L885.9 1060.2 L886.9 1058.9 L887.9 1057.5 L888.9 1055.8 L889.9 1053.8 L890.9 1052.2 L891.9 1050.9 L892.9 1049.1 L893.9 1047.7 L894.9 1046.7 L895.9 1045.2 L896.9 1043.6 L897.9 1042.3 L898.9 1040.8 L899.9 1039.5 L900.9 1038.8 L901.9 1038.1 L902.9 1037.4 L903.9 1036.7 L904.9 1036.3 L905.9 1036.6 L906.9 1037.4 L907.9 1038.2 L908.9 1039.0 L909.9 1040.0 L910.9 1041.2 L911.9 1042.4 L912.9 1043.5 L913.9 1044.5 L914.9 1045.1 L915.9 1045.3 L916.9 1045.7 L917.9 1045.1 L918.9 1043.6 L919.9 1042.1 L920.9 1040.8 L921.9 1039.9 L922.9 1039.7 L923.9 1040.2 L924.9 1041.2 L925.9 1042.3 L926.9 1043.3 L927.9 1044.4 L928.9 1045.3 L929.9 1045.3 L930.9 1044.5 L931.9 1043.2 L932.9 1042.1 L933.9 1041.1 L934.9 1040.2 L935.9 1038.7 L936.9 1037.2 L937.9 1036.2 L938.9 1036.0 L939.9 1036.4 L940.9 1038.0 L941.9 1040.6 L942.9 1043.6 L943.9 1046.4 L944.9 1048.7 L945.9 1049.9 L946.9 1050.4 L947.9 1050.8 L948.9 1051.2 L949.9 1051.5 L950.9 1051.7 L951.9 1051.5 L952.9 1051.7 L953.9 1052.3 L954.9 1052.6 L955.9 1052.7 L956.9 1052.9 L957.9 1053.1 L958.9 1053.5 L959.9 1053.9 L960.9 1054.2 L961.9 1054.7 L962.9 1055.3 L963.9 1055.7 L964.9 1056.2 L965.9 1057.0 L966.9 1058.1 L967.9 1059.5 L968.9 1060.6 L969.9 1061.2 L970.9 1061.0 L971.9 1059.5 L972.9 1057.7 L973.9 1056.7 L974.9 1057.1 L975.9 1058.3 L976.9 1060.0 L977.9 1061.8 L978.9 1063.0 L979.9 1063.1 L980.9 1060.1 L981.9 1054.7 L982.9 1048.6 L983.9 1042.8 L984.9 1035.1 L985.9 1027.2 L986.9 1021.4 L987.9 1020.3 L988.9 1023.3 L989.9 1027.9 L990.9 1031.9 L991.9 1035.5 L992.9 1039.0 L993.9 1041.4 L994.9 1041.1 L995.9 1035.3 L996.9 1026.9 L997.9 1019.6 L998.9 1011.5 L999.9 1003.9 L1000.9 998.5 L1001.9 995.0 L1002.9 991.8 L1003.9 989.7 L1004.9 989.7 L1005.9 991.1 L1006.9 993.2 L1007.9 995.2 L1008.9 996.6 L1009.9 996.6 L1010.9 994.0 L1011.9 989.3 L1012.9 983.3 L1013.9 976.8 L1014.9 968.3 L1015.9 955.6 L1016.9 942.7 L1017.9 933.8 L1018.9 927.9 L1019.9 923.6 L1020.9 922.7 L1021.9 924.7 L1022.9 927.6 L1023.9 929.7 L1024.9 928.6 L1025.9 922.1 L1026.9 913.4 L1027.9 906.5 L1028.9 904.8 L1029.9 906.5 L1030.9 909.4 L1031.9 912.5 L1032.9 917.5 L1033.9 922.8 L1034.9 924.3 L1035.9 924.3 L1036.9 924.4 L1037.9 924.6 L1038.9 925.4 L1039.9 926.9 L1040.9 928.7 L1041.9 930.7 L1042.9 933.8 L1043.9 939.0 L1044.9 945.9 L1045.9 953.2 L1046.9 960.1 L1047.9 965.9 L1048.9 971.6 L1049.9 977.3 L1050.9 982.9 L1051.9 988.1 L1052.9 992.8 L1053.9 997.0 L1054.9 1001.1 L1055.9 1004.8 L1056.9 1008.2 L1057.9 1011.0 L1058.9 1013.4 L1059.9 1015.7 L1060.9 1017.8 L1061.9 1019.3 L1062.9 1020.2 L1063.9 1020.3 L1064.9 1019.1 L1065.9 1017.3 L1066.9 1015.3 L1067.9 1013.7 L1068.9 1012.9 L1069.9 1013.7 L1070.9 1015.9 L1071.9 1018.3 L1072.9 1019.3 L1073.9 1017.3 L1074.9 1013.7 L1075.9 1010.5 L1076.9 1010.4 L1077.9 1015.0 L1078.9 1021.6 L1079.9 1026.9 L1080.9 1028.6 L1081.9 1029.6 L1082.9 1030.4 L1083.9 1031.2 L1084.9 1031.7 L1085.9 1032.2 L1086.9 1032.6 L1087.9 1032.9 L1088.9 1033.2 L1089.9 1033.5 L1090.9 1033.9 L1091.9 1034.1 L1092.9 1034.3 L1093.9 1034.4 L1094.9 1034.4 L1095.9 1034.1 L1096.9 1033.6 L1097.9 1033.2 L1098.9 1032.9 L1099.9 1032.5 L1100.9 1032.3 L1101.9 1032.1 L1102.9 1032.1 L1103.9 1031.9 L1104.9 1031.7 L1105.9 1031.5 L1106.9 1031.3 L1107.9 1030.7 L1108.9 1029.6 L1109.9 1028.1 L1110.9 1026.7 L1111.9 1025.5 L1112.9 1024.7 L1113.9 1024.4 L1114.9 1024.5 L1115.9 1024.7 L1116.9 1024.5 L1117.9 1023.5 L1118.9 1022.0 L1119.9 1020.4 L1120.9 1018.9 L1121.9 1016.1 L1122.9 1013.4 L1123.9 1010.0 L1124.9 1005.9 L1125.9 1001.6 L1126.9 999.7 L1127.9 997.9 L1128.9 996.4 L1129.9 994.9 L1130.9 994.8 L1131.9 996.0 L1132.9 994.0 L1133.9 990.3 L1134.9 989.0 L1135.9 988.6 L1136.9 987.2 L1137.9 981.9 L1138.9 972.0 L1139.9 969.2 L1140.9 967.1 L1141.9 961.8 L1142.9 959.1 L1143.9 959.0 L1144.9 960.2 L1145.9 962.5 L1146.9 964.4 L1147.9 965.0 L1148.9 964.3 L1149.9 961.6 L1150.9 957.0 L1151.9 950.9 L1152.9 945.7 L1153.9 941.8 L1154.9 938.5 L1155.9 936.3 L1156.9 935.6 L1157.9 935.7 L1158.9 935.2 L1159.9 934.2 L1160.9 933.5 L1161.9 932.9 L1162.9 931.3 L1163.9 929.1 L1164.9 926.8 L1165.9 922.7 L1166.9 915.9 L1167.9 910.1 L1168.9 908.3 L1169.9 914.8 L1170.9 918.4 L1171.9 912.2 L1172.9 900.9 L1173.9 888.7 L1174.9 880.1 L1175.9 890.9 L1176.3 902.9"/>
</g>
<rect x="107.3" y="612.0" width="1069.6000000000001" height="478.5" fill="none" stroke="#000" stroke-width="2.5"/>
<line x1="98.3" y1="1090.5" x2="107.3" y2="1090.5" stroke="#000" stroke-width="2.5"/>
<text class="b" transform="translate(91.3,1098.5) scale(1,1.08)" font-size="24" text-anchor="end">0</text>
<line x1="98.3" y1="1034.2" x2="107.3" y2="1034.2" stroke="#000" stroke-width="2.5"/>
<text class="b" transform="translate(91.3,1042.2) scale(1,1.08)" font-size="24" text-anchor="end">0.02</text>
<line x1="98.3" y1="977.9" x2="107.3" y2="977.9" stroke="#000" stroke-width="2.5"/>
<text class="b" transform="translate(91.3,985.9) scale(1,1.08)" font-size="24" text-anchor="end">0.04</text>
<line x1="98.3" y1="921.6" x2="107.3" y2="921.6" stroke="#000" stroke-width="2.5"/>
<text class="b" transform="translate(91.3,929.6) scale(1,1.08)" font-size="24" text-anchor="end">0.06</text>
<line x1="98.3" y1="865.3" x2="107.3" y2="865.3" stroke="#000" stroke-width="2.5"/>
<text class="b" transform="translate(91.3,873.3) scale(1,1.08)" font-size="24" text-anchor="end">0.08</text>
<line x1="98.3" y1="809.0" x2="107.3" y2="809.0" stroke="#000" stroke-width="2.5"/>
<text class="b" transform="translate(91.3,817.0) scale(1,1.08)" font-size="24" text-anchor="end">0.1</text>
<line x1="98.3" y1="752.7" x2="107.3" y2="752.7" stroke="#000" stroke-width="2.5"/>
<text class="b" transform="translate(91.3,760.7) scale(1,1.08)" font-size="24" text-anchor="end">0.12</text>
<line x1="98.3" y1="696.4" x2="107.3" y2="696.4" stroke="#000" stroke-width="2.5"/>
<text class="b" transform="translate(91.3,704.4) scale(1,1.08)" font-size="24" text-anchor="end">0.14</text>
<line x1="98.3" y1="640.1" x2="107.3" y2="640.1" stroke="#000" stroke-width="2.5"/>
<text class="b" transform="translate(91.3,648.1) scale(1,1.08)" font-size="24" text-anchor="end">0.16</text>
<line x1="107.3" y1="1090.5" x2="107.3" y2="1099.2" stroke="#000" stroke-width="2.5"/>
<text class="b" transform="translate(107.3,1124.5) scale(1,1.08)" font-size="24" text-anchor="middle">4000</text>
<line x1="262.3" y1="1090.5" x2="262.3" y2="1099.2" stroke="#000" stroke-width="2.5"/>
<text class="b" transform="translate(262.3,1124.5) scale(1,1.08)" font-size="24" text-anchor="middle">3500</text>
<line x1="417.2" y1="1090.5" x2="417.2" y2="1099.2" stroke="#000" stroke-width="2.5"/>
<text class="b" transform="translate(417.2,1124.5) scale(1,1.08)" font-size="24" text-anchor="middle">3000</text>
<line x1="572.2" y1="1090.5" x2="572.2" y2="1099.2" stroke="#000" stroke-width="2.5"/>
<text class="b" transform="translate(572.2,1124.5) scale(1,1.08)" font-size="24" text-anchor="middle">2500</text>
<line x1="727.2" y1="1090.5" x2="727.2" y2="1099.2" stroke="#000" stroke-width="2.5"/>
<text class="b" transform="translate(727.2,1124.5) scale(1,1.08)" font-size="24" text-anchor="middle">2000</text>
<line x1="882.1" y1="1090.5" x2="882.1" y2="1099.2" stroke="#000" stroke-width="2.5"/>
<text class="b" transform="translate(882.1,1124.5) scale(1,1.08)" font-size="24" text-anchor="middle">1500</text>
<line x1="1037.1" y1="1090.5" x2="1037.1" y2="1099.2" stroke="#000" stroke-width="2.5"/>
<text class="b" transform="translate(1037.1,1124.5) scale(1,1.08)" font-size="24" text-anchor="middle">1000</text>
<text class="b" transform="translate(642.1,1167.5) scale(1,1.08)" font-size="24" text-anchor="middle">Wavelength (cm<tspan font-size="15" dy="-9.5">-1</tspan><tspan dy="9.5">)</tspan></text>
<text class="b" transform="translate(27.6,851.2) rotate(-90)" x="0" y="0" font-size="28" text-anchor="middle">Absorbance (%)</text>
<text class="b" transform="translate(3.0,628.2) scale(1,1.08)" font-size="26.8">(b)</text>
<line x1="123.6" y1="640.0" x2="178.5" y2="640.0" stroke="#000000" stroke-width="2.5" stroke-linecap="round"/>
<text class="b" transform="translate(184.4,648.1) scale(1,1.08)" font-size="24">White paper reference</text>
<line x1="123.6" y1="670.0" x2="178.5" y2="670.0" stroke="#00508f" stroke-width="2.5" stroke-linecap="round"/>
<text class="b" transform="translate(184.4,678.1) scale(1,1.08)" font-size="24">Untreated blue</text>
<line x1="123.6" y1="700.0" x2="178.5" y2="700.0" stroke="#7f8cf0" stroke-width="2.5" stroke-linecap="round"/>
<text class="b" transform="translate(184.4,708.1) scale(1,1.08)" font-size="24">Plasma-treated blue</text>
<text transform="translate(248.7,857.0) scale(1,1.08)" font-size="24">O-H</text>
<text transform="translate(387.4,858.0) scale(1,1.08)" font-size="24">C-H</text>
<text transform="translate(756.8,690.0) scale(1,1.08)" font-size="24">C-H</text>
<text transform="translate(758.2,723.4) scale(1,1.08)" font-size="24">CH<tspan font-size="16" dy="6">2</tspan></text>
<text transform="translate(1085.6,790.3) scale(1,1.08)" font-size="24">C-O-C</text>
<text transform="translate(1081.2,832.0) scale(1,1.08)" font-size="24">C-O</text>
<text transform="translate(703.0,860.5) scale(1,1.08)" font-size="24">C=N/C=O</text>
<text transform="translate(686.3,937.0) scale(1,1.08)" font-size="24">Benzene ring</text>
<text transform="translate(729.5,966.0) scale(1,1.08)" font-size="24">C=C</text>
<line x1="318.1" y1="1225.9" x2="318.1" y2="1701.4" stroke="#555" stroke-width="1.2" stroke-dasharray="1.3 2.1"/>
<line x1="453.0" y1="1225.9" x2="453.0" y2="1701.4" stroke="#555" stroke-width="1.2" stroke-dasharray="1.3 2.1"/>
<line x1="835.5" y1="1225.9" x2="835.5" y2="1701.4" stroke="#555" stroke-width="1.2" stroke-dasharray="1.3 2.1"/>
<line x1="904.7" y1="1225.9" x2="904.7" y2="1701.4" stroke="#555" stroke-width="1.2" stroke-dasharray="1.3 2.1"/>
<line x1="923.1" y1="1225.9" x2="923.1" y2="1701.4" stroke="#555" stroke-width="1.2" stroke-dasharray="1.3 2.1"/>
<line x1="939.7" y1="1225.9" x2="939.7" y2="1701.4" stroke="#555" stroke-width="1.2" stroke-dasharray="1.3 2.1"/>
<line x1="986.9" y1="1225.9" x2="986.9" y2="1701.4" stroke="#555" stroke-width="1.2" stroke-dasharray="1.3 2.1"/>
<line x1="1030.4" y1="1225.9" x2="1030.4" y2="1701.4" stroke="#555" stroke-width="1.2" stroke-dasharray="1.3 2.1"/>
<line x1="292.5" y1="1463.7" x2="318.1" y2="1463.7" stroke="#6a6a6a" stroke-width="1.15"/>
<line x1="429.7" y1="1463.7" x2="453.0" y2="1463.7" stroke="#6a6a6a" stroke-width="1.15"/>
<line x1="806.3" y1="1291.1" x2="939.7" y2="1291.1" stroke="#6a6a6a" stroke-width="1.15"/>
<line x1="804.0" y1="1326.1" x2="922.6" y2="1326.1" stroke="#6a6a6a" stroke-width="1.15"/>
<line x1="1029.5" y1="1395.1" x2="1080.3" y2="1395.1" stroke="#6a6a6a" stroke-width="1.15"/>
<line x1="986.0" y1="1435.1" x2="1074.0" y2="1435.1" stroke="#6a6a6a" stroke-width="1.15"/>
<line x1="807.2" y1="1463.6" x2="835.5" y2="1463.6" stroke="#6a6a6a" stroke-width="1.15"/>
<line x1="818.4" y1="1549.0" x2="906.0" y2="1549.0" stroke="#6a6a6a" stroke-width="1.15"/>
<g fill="none" stroke-width="2.5" stroke-linejoin="round" stroke-linecap="round">
<path stroke="#000000" d="M108.9 1700.8 L109.9 1701.0 L110.9 1701.0 L111.9 1700.8 L112.9 1701.0 L113.9 1701.2 L114.9 1701.2 L115.9 1701.3 L116.9 1701.2 L117.9 1701.1 L118.9 1701.5 L119.9 1701.5 L120.9 1701.0 L121.9 1701.1 L122.9 1700.8 L123.9 1700.4 L124.9 1700.6 L125.9 1700.7 L126.9 1700.5 L127.9 1700.5 L128.9 1700.6 L129.9 1700.8 L130.9 1700.6 L131.9 1700.3 L132.9 1700.2 L133.9 1700.1 L134.9 1700.1 L135.9 1700.6 L136.9 1701.2 L137.9 1701.1 L138.9 1700.6 L139.9 1700.3 L140.9 1700.4 L141.9 1700.9 L142.9 1701.2 L143.9 1701.1 L144.9 1701.1 L145.9 1701.3 L146.9 1701.0 L147.9 1700.0 L148.9 1699.7 L149.9 1700.5 L150.9 1700.9 L151.9 1700.8 L152.9 1700.7 L153.9 1700.2 L154.9 1700.0 L155.9 1700.5 L156.9 1701.1 L157.9 1701.0 L158.9 1700.7 L159.9 1700.6 L160.9 1700.6 L161.9 1700.5 L162.9 1700.4 L163.9 1700.4 L164.9 1700.5 L165.9 1700.5 L166.9 1700.4 L167.9 1700.4 L168.9 1700.6 L169.9 1700.7 L170.9 1700.6 L171.9 1700.7 L172.9 1700.7 L173.9 1700.7 L174.9 1701.1 L175.9 1701.3 L176.9 1701.2 L177.9 1701.7 L178.9 1701.8 L179.9 1701.0 L180.9 1700.0 L181.9 1699.9 L182.9 1700.7 L183.9 1701.4 L184.9 1701.4 L185.9 1701.0 L186.9 1700.6 L187.9 1700.5 L188.9 1700.5 L189.9 1700.3 L190.9 1700.5 L191.9 1700.8 L192.9 1700.9 L193.9 1700.8 L194.9 1700.7 L195.9 1700.9 L196.9 1700.6 L197.9 1700.0 L198.9 1699.9 L199.9 1700.3 L200.9 1700.8 L201.9 1700.9 L202.9 1700.8 L203.9 1700.9 L204.9 1701.1 L205.9 1701.0 L206.9 1700.3 L207.9 1700.1 L208.9 1700.5 L209.9 1700.7 L210.9 1700.6 L211.9 1700.3 L212.9 1699.9 L213.9 1700.0 L214.9 1700.8 L215.9 1701.3 L216.9 1701.1 L217.9 1700.8 L218.9 1700.6 L219.9 1700.5 L220.9 1700.4 L221.9 1700.3 L222.9 1700.3 L223.9 1700.8 L224.9 1700.8 L225.9 1700.2 L226.9 1700.5 L227.9 1700.6 L228.9 1700.2 L229.9 1700.4 L230.9 1700.5 L231.9 1700.2 L232.9 1699.9 L233.9 1700.2 L234.9 1701.2 L235.9 1701.8 L236.9 1701.3 L237.9 1700.6 L238.9 1700.5 L239.9 1700.4 L240.9 1700.0 L241.9 1700.0 L242.9 1700.1 L243.9 1699.6 L244.9 1698.9 L245.9 1699.0 L246.9 1699.4 L247.9 1699.3 L248.9 1699.4 L249.9 1699.6 L250.9 1699.1 L251.9 1698.6 L252.9 1698.9 L253.9 1699.0 L254.9 1698.6 L255.9 1698.9 L256.9 1698.8 L257.9 1698.0 L258.9 1697.8 L259.9 1698.0 L260.9 1697.6 L261.9 1697.3 L262.9 1697.5 L263.9 1697.1 L264.9 1696.6 L265.9 1696.3 L266.9 1696.0 L267.9 1695.7 L268.9 1695.6 L269.9 1695.6 L270.9 1695.8 L271.9 1695.7 L272.9 1695.5 L273.9 1695.3 L274.9 1694.6 L275.9 1694.1 L276.9 1693.8 L277.9 1693.1 L278.9 1692.9 L279.9 1692.9 L280.9 1692.8 L281.9 1692.9 L282.9 1692.3 L283.9 1691.6 L284.9 1691.6 L285.9 1691.6 L286.9 1691.7 L287.9 1691.8 L288.9 1691.7 L289.9 1691.4 L290.9 1690.9 L291.9 1690.6 L292.9 1690.5 L293.9 1689.9 L294.9 1689.7 L295.9 1690.0 L296.9 1689.5 L297.9 1689.0 L298.9 1689.1 L299.9 1689.2 L300.9 1688.7 L301.9 1688.7 L302.9 1689.3 L303.9 1689.4 L304.9 1688.8 L305.9 1688.3 L306.9 1688.4 L307.9 1688.7 L308.9 1688.4 L309.9 1688.0 L310.9 1687.8 L311.9 1687.5 L312.9 1687.4 L313.9 1687.5 L314.9 1687.9 L315.9 1687.7 L316.9 1687.6 L317.9 1687.6 L318.9 1687.4 L319.9 1687.9 L320.9 1687.9 L321.9 1687.4 L322.9 1687.3 L323.9 1687.4 L324.9 1687.4 L325.9 1687.1 L326.9 1686.9 L327.9 1687.1 L328.9 1687.1 L329.9 1687.2 L330.9 1687.6 L331.9 1687.7 L332.9 1687.2 L333.9 1686.8 L334.9 1687.1 L335.9 1687.5 L336.9 1687.8 L337.9 1688.0 L338.9 1688.4 L339.9 1688.4 L340.9 1688.4 L341.9 1688.3 L342.9 1688.2 L343.9 1688.8 L344.9 1689.1 L345.9 1689.1 L346.9 1689.6 L347.9 1690.1 L348.9 1690.2 L349.9 1690.4 L350.9 1690.9 L351.9 1691.1 L352.9 1691.0 L353.9 1690.9 L354.9 1690.8 L355.9 1691.0 L356.9 1691.3 L357.9 1691.1 L358.9 1691.0 L359.9 1691.7 L360.9 1692.1 L361.9 1692.1 L362.9 1692.3 L363.9 1692.2 L364.9 1692.0 L365.9 1692.2 L366.9 1692.6 L367.9 1692.3 L368.9 1691.9 L369.9 1692.7 L370.9 1693.1 L371.9 1692.9 L372.9 1693.2 L373.9 1693.3 L374.9 1693.4 L375.9 1693.9 L376.9 1694.1 L377.9 1693.9 L378.9 1694.0 L379.9 1693.8 L380.9 1693.9 L381.9 1694.4 L382.9 1694.5 L383.9 1694.4 L384.9 1694.6 L385.9 1694.4 L386.9 1694.3 L387.9 1694.5 L388.9 1694.6 L389.9 1694.8 L390.9 1695.0 L391.9 1695.3 L392.9 1695.3 L393.9 1694.9 L394.9 1694.4 L395.9 1694.2 L396.9 1694.4 L397.9 1694.8 L398.9 1694.7 L399.9 1694.3 L400.9 1694.2 L401.9 1694.6 L402.9 1694.9 L403.9 1694.6 L404.9 1694.3 L405.9 1694.0 L406.9 1694.4 L407.9 1694.7 L408.9 1694.5 L409.9 1694.3 L410.9 1694.0 L411.9 1693.9 L412.9 1694.0 L413.9 1694.1 L414.9 1694.4 L415.9 1694.5 L416.9 1694.5 L417.9 1694.2 L418.9 1694.0 L419.9 1694.0 L420.9 1693.7 L421.9 1693.5 L422.9 1693.7 L423.9 1694.4 L424.9 1694.7 L425.9 1694.5 L426.9 1694.2 L427.9 1693.6 L428.9 1693.4 L429.9 1693.8 L430.9 1694.0 L431.9 1694.2 L432.9 1694.1 L433.9 1693.8 L434.9 1693.8 L435.9 1693.1 L436.9 1692.2 L437.9 1692.4 L438.9 1692.9 L439.9 1693.3 L440.9 1693.4 L441.9 1693.4 L442.9 1693.4 L443.9 1693.0 L444.9 1693.1 L445.9 1693.2 L446.9 1693.0 L447.9 1693.5 L448.9 1693.6 L449.9 1693.1 L450.9 1693.0 L451.9 1693.0 L452.9 1693.2 L453.9 1693.6 L454.9 1693.2 L455.9 1692.4 L456.9 1692.4 L457.9 1692.6 L458.9 1692.0 L459.9 1692.0 L460.9 1692.6 L461.9 1693.2 L462.9 1693.6 L463.9 1694.1 L464.9 1694.5 L465.9 1694.0 L466.9 1693.7 L467.9 1693.7 L468.9 1693.6 L469.9 1693.7 L470.9 1693.7 L471.9 1693.4 L472.9 1693.1 L473.9 1693.3 L474.9 1693.6 L475.9 1693.7 L476.9 1693.7 L477.9 1693.8 L478.9 1693.7 L479.9 1693.8 L480.9 1694.0 L481.9 1694.3 L482.9 1694.4 L483.9 1694.1 L484.9 1693.6 L485.9 1693.6 L486.9 1693.7 L487.9 1693.4 L488.9 1693.7 L489.9 1694.2 L490.9 1694.0 L491.9 1694.0 L492.9 1694.0 L493.9 1693.4 L494.9 1693.6 L495.9 1694.0 L496.9 1694.2 L497.9 1694.8 L498.9 1695.3 L499.9 1695.2 L500.9 1694.9 L501.9 1694.7 L502.9 1694.5 L503.9 1694.3 L504.9 1694.0 L505.9 1694.3 L506.9 1694.8 L507.9 1695.0 L508.9 1694.8 L509.9 1694.4 L510.9 1694.2 L511.9 1694.7 L512.9 1695.1 L513.9 1695.1 L514.9 1694.7 L515.9 1694.5 L516.9 1694.6 L517.9 1694.6 L518.9 1695.2 L519.9 1695.7 L520.9 1695.2 L521.9 1694.9 L522.9 1695.2 L523.9 1695.5 L524.9 1695.1 L525.9 1695.0 L526.9 1695.8 L527.9 1696.3 L528.9 1695.8 L529.9 1694.9 L530.9 1693.7 L531.9 1693.6 L532.9 1694.9 L533.9 1695.9 L534.9 1696.3 L535.9 1696.1 L536.9 1696.0 L537.9 1696.6 L538.9 1696.7 L539.9 1696.1 L540.9 1696.3 L541.9 1696.4 L542.9 1695.9 L543.9 1695.9 L544.9 1696.2 L545.9 1696.7 L546.9 1696.2 L547.9 1695.1 L548.9 1695.6 L549.9 1696.7 L550.9 1696.3 L551.9 1695.4 L552.9 1695.1 L553.9 1695.4 L554.9 1695.5 L555.9 1695.7 L556.9 1696.5 L557.9 1697.2 L558.9 1697.4 L559.9 1697.3 L560.9 1697.1 L561.9 1697.0 L562.9 1696.1 L563.9 1695.3 L564.9 1695.6 L565.9 1695.1 L566.9 1694.9 L567.9 1696.3 L568.9 1696.1 L569.9 1695.3 L570.9 1696.0 L571.9 1696.6 L572.9 1696.9 L573.9 1696.8 L574.9 1696.2 L575.9 1696.1 L576.9 1696.0 L577.9 1696.4 L578.9 1696.7 L579.9 1697.0 L580.9 1697.2 L581.9 1695.4 L582.9 1694.5 L583.9 1695.2 L584.9 1695.9 L585.9 1696.6 L586.9 1696.8 L587.9 1696.9 L588.9 1696.8 L589.9 1697.0 L590.9 1697.2 L591.9 1697.0 L592.9 1697.0 L593.9 1697.6 L594.9 1698.9 L595.9 1698.8 L596.9 1697.2 L597.9 1697.1 L598.9 1697.7 L599.9 1698.0 L600.9 1699.1 L601.9 1698.4 L602.9 1695.8 L603.9 1695.8 L604.9 1697.5 L605.9 1697.1 L606.9 1696.1 L607.9 1696.1 L608.9 1697.2 L609.9 1697.5 L610.9 1696.5 L611.9 1696.9 L612.9 1698.1 L613.9 1697.9 L614.9 1696.8 L615.9 1695.6 L616.9 1694.5 L617.9 1694.3 L618.9 1696.0 L619.9 1699.1 L620.9 1701.5 L621.9 1700.6 L622.9 1698.4 L623.9 1696.5 L624.9 1695.4 L625.9 1696.2 L626.9 1697.1 L627.9 1696.1 L628.9 1695.3 L629.9 1696.3 L630.9 1697.8 L631.9 1698.4 L632.9 1697.5 L633.9 1696.4 L634.9 1696.2 L635.9 1696.9 L636.9 1696.8 L637.9 1696.3 L638.9 1696.1 L639.9 1696.0 L640.9 1696.5 L641.9 1696.7 L642.9 1696.5 L643.9 1695.9 L644.9 1695.7 L645.9 1696.6 L646.9 1697.3 L647.9 1696.2 L648.9 1695.2 L649.9 1696.3 L650.9 1697.1 L651.9 1697.6 L652.9 1698.1 L653.9 1697.5 L654.9 1696.4 L655.9 1696.4 L656.9 1697.4 L657.9 1697.4 L658.9 1696.3 L659.9 1695.6 L660.9 1695.9 L661.9 1696.4 L662.9 1697.2 L663.9 1698.6 L664.9 1698.7 L665.9 1698.2 L666.9 1697.5 L667.9 1695.6 L668.9 1695.2 L669.9 1697.0 L670.9 1696.9 L671.9 1696.6 L672.9 1698.5 L673.9 1699.0 L674.9 1698.3 L675.9 1697.5 L676.9 1697.6 L677.9 1697.2 L678.9 1696.5 L679.9 1695.3 L680.9 1696.0 L681.9 1697.9 L682.9 1698.1 L683.9 1696.3 L684.9 1694.8 L685.9 1696.1 L686.9 1698.0 L687.9 1697.8 L688.9 1697.0 L689.9 1697.2 L690.9 1697.2 L691.9 1696.5 L692.9 1695.8 L693.9 1695.7 L694.9 1695.9 L695.9 1696.4 L696.9 1697.0 L697.9 1697.5 L698.9 1697.4 L699.9 1696.1 L700.9 1695.4 L701.9 1696.1 L702.9 1697.0 L703.9 1697.7 L704.9 1698.1 L705.9 1698.6 L706.9 1698.8 L707.9 1698.4 L708.9 1697.8 L709.9 1697.1 L710.9 1696.5 L711.9 1696.1 L712.9 1696.6 L713.9 1696.8 L714.9 1696.6 L715.9 1697.1 L716.9 1697.2 L717.9 1696.8 L718.9 1696.3 L719.9 1695.8 L720.9 1695.3 L721.9 1695.6 L722.9 1696.0 L723.9 1695.9 L724.9 1696.3 L725.9 1696.8 L726.9 1696.1 L727.9 1695.2 L728.9 1695.7 L729.9 1696.2 L730.9 1695.7 L731.9 1696.4 L732.9 1698.1 L733.9 1698.5 L734.9 1698.2 L735.9 1697.7 L736.9 1696.4 L737.9 1695.5 L738.9 1695.4 L739.9 1695.5 L740.9 1695.1 L741.9 1695.7 L742.9 1697.2 L743.9 1697.0 L744.9 1695.8 L745.9 1696.1 L746.9 1697.5 L747.9 1697.3 L748.9 1696.5 L749.9 1696.6 L750.9 1696.4 L751.9 1695.7 L752.9 1695.1 L753.9 1695.0 L754.9 1696.1 L755.9 1697.2 L756.9 1697.8 L757.9 1697.6 L758.9 1697.3 L759.9 1697.4 L760.9 1697.0 L761.9 1696.9 L762.9 1696.3 L763.9 1695.5 L764.9 1695.4 L765.9 1696.9 L766.9 1698.3 L767.9 1697.7 L768.9 1696.9 L769.9 1696.7 L770.9 1697.0 L771.9 1697.4 L772.9 1697.7 L773.9 1697.7 L774.9 1697.2 L775.9 1697.4 L776.9 1698.1 L777.9 1697.3 L778.9 1696.7 L779.9 1697.4 L780.9 1697.2 L781.9 1695.8 L782.9 1695.4 L783.9 1696.2 L784.9 1697.1 L785.9 1697.4 L786.9 1698.2 L787.9 1699.3 L788.9 1698.7 L789.9 1696.9 L790.9 1696.5 L791.9 1696.9 L792.9 1696.1 L793.9 1695.5 L794.9 1696.1 L795.9 1696.4 L796.9 1696.4 L797.9 1695.4 L798.9 1694.3 L799.9 1695.1 L800.9 1696.5 L801.9 1697.0 L802.9 1696.7 L803.9 1697.1 L804.9 1698.3 L805.9 1698.0 L806.9 1697.1 L807.9 1696.8 L808.9 1696.4 L809.9 1695.5 L810.9 1695.3 L811.9 1695.5 L812.9 1695.4 L813.9 1695.9 L814.9 1696.3 L815.9 1696.5 L816.9 1696.2 L817.9 1695.4 L818.9 1695.3 L819.9 1695.9 L820.9 1696.9 L821.9 1696.9 L822.9 1696.0 L823.9 1695.4 L824.9 1695.4 L825.9 1695.9 L826.9 1695.5 L827.9 1694.4 L828.9 1694.2 L829.9 1695.1 L830.9 1695.6 L831.9 1694.8 L832.9 1693.8 L833.9 1693.6 L834.9 1693.3 L835.9 1693.2 L836.9 1693.9 L837.9 1693.7 L838.9 1692.7 L839.9 1692.7 L840.9 1693.7 L841.9 1694.6 L842.9 1694.9 L843.9 1694.8 L844.9 1694.0 L845.9 1693.7 L846.9 1694.0 L847.9 1694.3 L848.9 1694.1 L849.9 1693.9 L850.9 1694.3 L851.9 1694.4 L852.9 1694.2 L853.9 1694.1 L854.9 1694.2 L855.9 1694.8 L856.9 1695.2 L857.9 1694.8 L858.9 1694.5 L859.9 1694.6 L860.9 1694.8 L861.9 1695.2 L862.9 1695.6 L863.9 1695.2 L864.9 1694.9 L865.9 1695.3 L866.9 1695.7 L867.9 1695.8 L868.9 1695.7 L869.9 1695.3 L870.9 1695.1 L871.9 1695.1 L872.9 1694.8 L873.9 1694.5 L874.9 1694.9 L875.9 1695.1 L876.9 1695.1 L877.9 1694.9 L878.9 1694.6 L879.9 1694.4 L880.9 1694.3 L881.9 1694.1 L882.9 1693.6 L883.9 1693.1 L884.9 1693.0 L885.9 1692.9 L886.9 1692.5 L887.9 1692.1 L888.9 1691.8 L889.9 1691.3 L890.9 1690.5 L891.9 1690.0 L892.9 1689.5 L893.9 1688.5 L894.9 1687.8 L895.9 1687.6 L896.9 1687.4 L897.9 1687.0 L898.9 1686.7 L899.9 1686.4 L900.9 1686.0 L901.9 1685.7 L902.9 1685.5 L903.9 1685.4 L904.9 1685.1 L905.9 1684.9 L906.9 1685.3 L907.9 1686.0 L908.9 1686.4 L909.9 1686.5 L910.9 1686.9 L911.9 1687.4 L912.9 1687.9 L913.9 1688.5 L914.9 1688.8 L915.9 1688.7 L916.9 1688.7 L917.9 1688.8 L918.9 1688.6 L919.9 1687.7 L920.9 1686.6 L921.9 1686.0 L922.9 1685.9 L923.9 1686.2 L924.9 1686.5 L925.9 1687.0 L926.9 1687.6 L927.9 1688.3 L928.9 1688.8 L929.9 1688.5 L930.9 1687.8 L931.9 1687.5 L932.9 1687.3 L933.9 1686.7 L934.9 1686.3 L935.9 1685.6 L936.9 1685.0 L937.9 1684.8 L938.9 1684.6 L939.9 1684.4 L940.9 1684.9 L941.9 1685.9 L942.9 1687.1 L943.9 1688.3 L944.9 1689.1 L945.9 1689.3 L946.9 1689.3 L947.9 1689.4 L948.9 1689.6 L949.9 1689.9 L950.9 1690.2 L951.9 1690.2 L952.9 1689.9 L953.9 1689.7 L954.9 1689.6 L955.9 1690.0 L956.9 1690.1 L957.9 1690.0 L958.9 1690.3 L959.9 1690.6 L960.9 1690.7 L961.9 1690.8 L962.9 1691.0 L963.9 1691.5 L964.9 1692.2 L965.9 1692.9 L966.9 1693.5 L967.9 1693.9 L968.9 1694.1 L969.9 1694.0 L970.9 1693.4 L971.9 1692.6 L972.9 1691.8 L973.9 1691.5 L974.9 1691.9 L975.9 1692.4 L976.9 1693.1 L977.9 1693.6 L978.9 1693.9 L979.9 1693.9 L980.9 1692.0 L981.9 1688.9 L982.9 1685.9 L983.9 1683.9 L984.9 1682.0 L985.9 1680.2 L986.9 1678.9 L987.9 1678.7 L988.9 1679.4 L989.9 1681.0 L990.9 1682.9 L991.9 1684.5 L992.9 1685.6 L993.9 1685.9 L994.9 1685.0 L995.9 1683.4 L996.9 1681.3 L997.9 1678.8 L998.9 1676.1 L999.9 1673.5 L1000.9 1671.2 L1001.9 1669.2 L1002.9 1667.9 L1003.9 1667.4 L1004.9 1667.7 L1005.9 1668.2 L1006.9 1669.1 L1007.9 1669.9 L1008.9 1670.6 L1009.9 1671.0 L1010.9 1670.9 L1011.9 1669.9 L1012.9 1668.1 L1013.9 1665.8 L1014.9 1663.4 L1015.9 1661.0 L1016.9 1657.5 L1017.9 1652.7 L1018.9 1648.1 L1019.9 1644.8 L1020.9 1644.1 L1021.9 1644.6 L1022.9 1645.3 L1023.9 1645.7 L1024.9 1645.3 L1025.9 1643.1 L1026.9 1640.2 L1027.9 1638.0 L1028.9 1637.4 L1029.9 1637.8 L1030.9 1638.4 L1031.9 1639.3 L1032.9 1640.3 L1033.9 1641.0 L1034.9 1641.3 L1035.9 1641.5 L1036.9 1641.7 L1037.9 1641.8 L1038.9 1641.7 L1039.9 1641.8 L1040.9 1642.0 L1041.9 1642.7 L1042.9 1644.2 L1043.9 1646.4 L1044.9 1648.8 L1045.9 1651.3 L1046.9 1653.7 L1047.9 1655.8 L1048.9 1657.7 L1049.9 1659.7 L1050.9 1661.7 L1051.9 1663.5 L1052.9 1665.2 L1053.9 1666.8 L1054.9 1668.1 L1055.9 1669.2 L1056.9 1670.4 L1057.9 1671.4 L1058.9 1672.4 L1059.9 1673.4 L1060.9 1674.2 L1061.9 1674.9 L1062.9 1675.5 L1063.9 1675.8 L1064.9 1675.7 L1065.9 1675.3 L1066.9 1674.7 L1067.9 1674.1 L1068.9 1673.5 L1069.9 1673.2 L1070.9 1673.2 L1071.9 1673.2 L1072.9 1673.4 L1073.9 1673.8 L1074.9 1674.1 L1075.9 1674.5 L1076.9 1675.1 L1077.9 1676.3 L1078.9 1677.9 L1079.9 1679.1 L1080.9 1679.7 L1081.9 1680.1 L1082.9 1680.4 L1083.9 1680.7 L1084.9 1681.0 L1085.9 1681.4 L1086.9 1681.7 L1087.9 1681.8 L1088.9 1681.9 L1089.9 1681.9 L1090.9 1681.9 L1091.9 1682.1 L1092.9 1682.2 L1093.9 1682.3 L1094.9 1682.2 L1095.9 1681.6 L1096.9 1680.7 L1097.9 1680.0 L1098.9 1679.4 L1099.9 1679.1 L1100.9 1679.2 L1101.9 1679.5 L1102.9 1679.9 L1103.9 1680.1 L1104.9 1680.4 L1105.9 1680.6 L1106.9 1680.7 L1107.9 1680.5 L1108.9 1680.0 L1109.9 1679.4 L1110.9 1679.1 L1111.9 1678.6 L1112.9 1678.0 L1113.9 1678.0 L1114.9 1678.7 L1115.9 1679.3 L1116.9 1679.4 L1117.9 1679.2 L1118.9 1678.7 L1119.9 1678.0 L1120.9 1677.1 L1121.9 1677.1 L1122.9 1675.7 L1123.9 1673.5 L1124.9 1671.3 L1125.9 1669.6 L1126.9 1668.6 L1127.9 1668.5 L1128.9 1668.3 L1129.9 1667.5 L1130.9 1666.7 L1131.9 1666.5 L1132.9 1666.8 L1133.9 1666.3 L1134.9 1665.2 L1135.9 1664.4 L1136.9 1663.4 L1137.9 1662.0 L1138.9 1656.9 L1139.9 1657.8 L1140.9 1661.0 L1141.9 1656.3 L1142.9 1653.7 L1143.9 1654.7 L1144.9 1655.9 L1145.9 1656.6 L1146.9 1656.7 L1147.9 1656.7 L1148.9 1657.0 L1149.9 1657.3 L1150.9 1655.8 L1151.9 1653.8 L1152.9 1653.0 L1153.9 1652.5 L1154.9 1650.6 L1155.9 1646.9 L1156.9 1643.7 L1157.9 1642.6 L1158.9 1645.5 L1159.9 1649.1 L1160.9 1650.2 L1161.9 1647.3 L1162.9 1641.7 L1163.9 1638.2 L1164.9 1638.9 L1165.9 1640.3 L1166.9 1642.3 L1167.9 1646.4 L1168.9 1652.5 L1169.9 1651.7 L1170.9 1639.8 L1171.9 1639.3 L1172.9 1640.3 L1173.9 1637.0 L1174.9 1626.4 L1175.3 1622.7"/>
<path stroke="#ff0000" d="M108.9 1699.1 L109.9 1699.1 L110.9 1698.9 L111.9 1698.8 L112.9 1698.2 L113.9 1698.2 L114.9 1699.0 L115.9 1698.7 L116.9 1697.8 L117.9 1697.7 L118.9 1698.2 L119.9 1698.8 L120.9 1699.1 L121.9 1698.8 L122.9 1698.5 L123.9 1698.5 L124.9 1698.5 L125.9 1698.4 L126.9 1698.0 L127.9 1698.1 L128.9 1698.6 L129.9 1698.5 L130.9 1698.3 L131.9 1698.1 L132.9 1698.0 L133.9 1698.2 L134.9 1698.7 L135.9 1698.9 L136.9 1698.6 L137.9 1698.7 L138.9 1699.3 L139.9 1699.2 L140.9 1698.6 L141.9 1698.1 L142.9 1698.1 L143.9 1698.0 L144.9 1697.5 L145.9 1697.6 L146.9 1698.6 L147.9 1699.1 L148.9 1698.5 L149.9 1697.6 L150.9 1697.6 L151.9 1698.1 L152.9 1697.9 L153.9 1698.1 L154.9 1698.7 L155.9 1698.3 L156.9 1697.8 L157.9 1697.9 L158.9 1698.5 L159.9 1698.6 L160.9 1697.7 L161.9 1697.3 L162.9 1697.9 L163.9 1698.5 L164.9 1698.1 L165.9 1697.6 L166.9 1698.0 L167.9 1698.2 L168.9 1698.1 L169.9 1698.0 L170.9 1697.9 L171.9 1697.6 L172.9 1697.3 L173.9 1697.1 L174.9 1696.9 L175.9 1697.2 L176.9 1697.8 L177.9 1698.2 L178.9 1698.1 L179.9 1698.1 L180.9 1697.9 L181.9 1697.8 L182.9 1697.9 L183.9 1698.0 L184.9 1697.6 L185.9 1697.3 L186.9 1697.7 L187.9 1698.3 L188.9 1698.1 L189.9 1697.8 L190.9 1697.6 L191.9 1698.3 L192.9 1698.9 L193.9 1698.9 L194.9 1698.9 L195.9 1699.0 L196.9 1699.1 L197.9 1699.0 L198.9 1699.2 L199.9 1699.5 L200.9 1699.3 L201.9 1698.9 L202.9 1698.9 L203.9 1699.0 L204.9 1699.2 L205.9 1699.3 L206.9 1699.5 L207.9 1699.5 L208.9 1699.2 L209.9 1699.1 L210.9 1699.3 L211.9 1699.3 L212.9 1699.5 L213.9 1699.5 L214.9 1699.7 L215.9 1700.1 L216.9 1700.2 L217.9 1699.8 L218.9 1699.3 L219.9 1699.2 L220.9 1699.7 L221.9 1700.0 L222.9 1699.8 L223.9 1699.5 L224.9 1699.3 L225.9 1699.1 L226.9 1698.4 L227.9 1697.5 L228.9 1697.5 L229.9 1698.0 L230.9 1698.1 L231.9 1698.0 L232.9 1697.9 L233.9 1698.0 L234.9 1698.0 L235.9 1697.5 L236.9 1697.1 L237.9 1696.5 L238.9 1696.0 L239.9 1696.4 L240.9 1696.7 L241.9 1696.6 L242.9 1696.8 L243.9 1696.6 L244.9 1696.1 L245.9 1695.9 L246.9 1695.5 L247.9 1695.3 L248.9 1695.2 L249.9 1694.6 L250.9 1694.0 L251.9 1693.8 L252.9 1694.3 L253.9 1695.0 L254.9 1694.2 L255.9 1692.8 L256.9 1692.3 L257.9 1692.7 L258.9 1692.7 L259.9 1692.4 L260.9 1692.4 L261.9 1692.3 L262.9 1692.0 L263.9 1691.9 L264.9 1691.5 L265.9 1690.7 L266.9 1690.5 L267.9 1690.7 L268.9 1690.1 L269.9 1689.5 L270.9 1689.5 L271.9 1689.3 L272.9 1689.7 L273.9 1690.4 L274.9 1689.7 L275.9 1688.3 L276.9 1687.6 L277.9 1687.4 L278.9 1687.2 L279.9 1687.2 L280.9 1687.2 L281.9 1686.9 L282.9 1686.2 L283.9 1685.4 L284.9 1685.3 L285.9 1685.3 L286.9 1685.2 L287.9 1684.9 L288.9 1684.1 L289.9 1683.6 L290.9 1683.2 L291.9 1682.9 L292.9 1682.8 L293.9 1682.7 L294.9 1682.3 L295.9 1681.5 L296.9 1681.5 L297.9 1681.1 L298.9 1680.3 L299.9 1680.2 L300.9 1680.2 L301.9 1680.2 L302.9 1679.6 L303.9 1678.7 L304.9 1678.2 L305.9 1678.0 L306.9 1677.6 L307.9 1677.3 L308.9 1677.3 L309.9 1676.6 L310.9 1675.9 L311.9 1675.9 L312.9 1675.8 L313.9 1675.8 L314.9 1676.1 L315.9 1676.1 L316.9 1676.0 L317.9 1676.0 L318.9 1675.9 L319.9 1675.5 L320.9 1675.7 L321.9 1675.8 L322.9 1675.4 L323.9 1675.0 L324.9 1675.3 L325.9 1675.5 L326.9 1675.6 L327.9 1675.6 L328.9 1675.4 L329.9 1675.4 L330.9 1675.4 L331.9 1675.1 L332.9 1675.2 L333.9 1675.7 L334.9 1675.9 L335.9 1676.3 L336.9 1676.4 L337.9 1676.4 L338.9 1677.1 L339.9 1677.4 L340.9 1677.4 L341.9 1677.6 L342.9 1678.0 L343.9 1678.9 L344.9 1679.7 L345.9 1679.4 L346.9 1679.2 L347.9 1680.1 L348.9 1681.1 L349.9 1681.4 L350.9 1681.6 L351.9 1681.3 L352.9 1681.0 L353.9 1681.1 L354.9 1681.5 L355.9 1682.1 L356.9 1682.2 L357.9 1681.9 L358.9 1682.0 L359.9 1682.5 L360.9 1683.2 L361.9 1684.1 L362.9 1684.5 L363.9 1684.3 L364.9 1684.2 L365.9 1684.0 L366.9 1684.0 L367.9 1683.9 L368.9 1684.4 L369.9 1685.0 L370.9 1685.3 L371.9 1685.2 L372.9 1685.0 L373.9 1684.7 L374.9 1684.5 L375.9 1684.8 L376.9 1685.0 L377.9 1685.5 L378.9 1685.7 L379.9 1685.5 L380.9 1685.5 L381.9 1686.1 L382.9 1686.6 L383.9 1687.1 L384.9 1687.7 L385.9 1688.0 L386.9 1687.7 L387.9 1687.3 L388.9 1687.7 L389.9 1688.2 L390.9 1687.8 L391.9 1687.9 L392.9 1688.6 L393.9 1688.5 L394.9 1688.2 L395.9 1688.3 L396.9 1688.6 L397.9 1688.9 L398.9 1688.9 L399.9 1688.9 L400.9 1688.8 L401.9 1688.5 L402.9 1689.0 L403.9 1689.6 L404.9 1689.6 L405.9 1689.6 L406.9 1690.0 L407.9 1690.7 L408.9 1690.6 L409.9 1690.4 L410.9 1690.7 L411.9 1690.7 L412.9 1690.1 L413.9 1690.0 L414.9 1690.3 L415.9 1690.4 L416.9 1690.8 L417.9 1691.2 L418.9 1690.8 L419.9 1690.0 L420.9 1690.0 L421.9 1690.5 L422.9 1690.6 L423.9 1690.2 L424.9 1690.1 L425.9 1690.6 L426.9 1690.5 L427.9 1689.7 L428.9 1689.2 L429.9 1689.0 L430.9 1688.6 L431.9 1688.6 L432.9 1688.8 L433.9 1688.8 L434.9 1688.2 L435.9 1687.7 L436.9 1688.1 L437.9 1687.7 L438.9 1686.5 L439.9 1686.4 L440.9 1686.8 L441.9 1686.7 L442.9 1686.6 L443.9 1686.1 L444.9 1686.0 L445.9 1687.0 L446.9 1687.1 L447.9 1686.7 L448.9 1686.7 L449.9 1686.6 L450.9 1686.3 L451.9 1686.3 L452.9 1686.6 L453.9 1687.1 L454.9 1687.4 L455.9 1687.6 L456.9 1687.5 L457.9 1686.9 L458.9 1686.6 L459.9 1687.0 L460.9 1687.0 L461.9 1686.6 L462.9 1686.3 L463.9 1686.3 L464.9 1686.3 L465.9 1686.7 L466.9 1687.5 L467.9 1688.0 L468.9 1687.8 L469.9 1687.5 L470.9 1687.6 L471.9 1688.1 L472.9 1688.6 L473.9 1688.2 L474.9 1687.8 L475.9 1687.9 L476.9 1687.9 L477.9 1688.2 L478.9 1688.6 L479.9 1688.7 L480.9 1689.1 L481.9 1689.5 L482.9 1689.4 L483.9 1689.8 L484.9 1690.1 L485.9 1689.8 L486.9 1689.7 L487.9 1690.1 L488.9 1690.3 L489.9 1690.2 L490.9 1690.3 L491.9 1690.2 L492.9 1689.8 L493.9 1690.1 L494.9 1690.9 L495.9 1691.0 L496.9 1689.9 L497.9 1689.5 L498.9 1690.0 L499.9 1690.2 L500.9 1690.2 L501.9 1690.4 L502.9 1690.4 L503.9 1690.1 L504.9 1690.0 L505.9 1690.3 L506.9 1690.8 L507.9 1691.1 L508.9 1691.3 L509.9 1691.2 L510.9 1690.8 L511.9 1690.5 L512.9 1690.4 L513.9 1689.9 L514.9 1689.8 L515.9 1690.3 L516.9 1691.0 L517.9 1690.9 L518.9 1690.2 L519.9 1690.5 L520.9 1691.0 L521.9 1690.5 L522.9 1690.1 L523.9 1690.7 L524.9 1691.2 L525.9 1690.7 L526.9 1690.9 L527.9 1691.7 L528.9 1691.3 L529.9 1690.8 L530.9 1691.3 L531.9 1691.6 L532.9 1691.2 L533.9 1691.2 L534.9 1691.5 L535.9 1691.7 L536.9 1692.1 L537.9 1692.3 L538.9 1692.2 L539.9 1692.0 L540.9 1691.2 L541.9 1690.5 L542.9 1690.3 L543.9 1690.4 L544.9 1690.5 L545.9 1691.1 L546.9 1692.1 L547.9 1692.5 L548.9 1692.2 L549.9 1692.0 L550.9 1691.9 L551.9 1691.7 L552.9 1691.2 L553.9 1690.7 L554.9 1690.6 L555.9 1691.1 L556.9 1691.6 L557.9 1691.6 L558.9 1692.1 L559.9 1692.8 L560.9 1692.5 L561.9 1692.1 L562.9 1692.0 L563.9 1691.7 L564.9 1691.4 L565.9 1691.9 L566.9 1692.5 L567.9 1692.0 L568.9 1691.0 L569.9 1691.5 L570.9 1692.6 L571.9 1692.1 L572.9 1690.8 L573.9 1690.4 L574.9 1690.9 L575.9 1691.9 L576.9 1692.3 L577.9 1691.3 L578.9 1690.6 L579.9 1690.6 L580.9 1690.8 L581.9 1691.4 L582.9 1691.1 L583.9 1690.4 L584.9 1690.6 L585.9 1691.4 L586.9 1692.0 L587.9 1692.1 L588.9 1691.8 L589.9 1692.1 L590.9 1693.0 L591.9 1693.3 L592.9 1692.8 L593.9 1692.8 L594.9 1692.7 L595.9 1692.0 L596.9 1691.1 L597.9 1690.7 L598.9 1691.9 L599.9 1692.9 L600.9 1691.8 L601.9 1690.9 L602.9 1691.7 L603.9 1692.5 L604.9 1692.3 L605.9 1691.9 L606.9 1692.1 L607.9 1692.0 L608.9 1691.8 L609.9 1691.8 L610.9 1691.5 L611.9 1692.0 L612.9 1692.4 L613.9 1691.9 L614.9 1692.1 L615.9 1693.0 L616.9 1693.3 L617.9 1692.9 L618.9 1692.4 L619.9 1693.5 L620.9 1696.0 L621.9 1695.9 L622.9 1691.8 L623.9 1687.9 L624.9 1686.5 L625.9 1688.2 L626.9 1690.4 L627.9 1691.5 L628.9 1691.5 L629.9 1691.9 L630.9 1692.9 L631.9 1693.4 L632.9 1693.1 L633.9 1693.1 L634.9 1692.4 L635.9 1691.8 L636.9 1692.7 L637.9 1693.7 L638.9 1694.3 L639.9 1694.0 L640.9 1693.1 L641.9 1692.4 L642.9 1692.3 L643.9 1692.8 L644.9 1693.0 L645.9 1692.4 L646.9 1692.5 L647.9 1692.9 L648.9 1692.7 L649.9 1692.8 L650.9 1692.8 L651.9 1693.2 L652.9 1694.5 L653.9 1694.6 L654.9 1693.4 L655.9 1692.7 L656.9 1693.2 L657.9 1693.5 L658.9 1693.5 L659.9 1693.4 L660.9 1694.1 L661.9 1695.3 L662.9 1694.9 L663.9 1693.9 L664.9 1693.7 L665.9 1693.2 L666.9 1692.7 L667.9 1692.9 L668.9 1694.1 L669.9 1695.3 L670.9 1695.4 L671.9 1694.6 L672.9 1693.5 L673.9 1692.0 L674.9 1691.7 L675.9 1694.1 L676.9 1697.3 L677.9 1696.4 L678.9 1693.9 L679.9 1692.8 L680.9 1693.1 L681.9 1693.3 L682.9 1693.0 L683.9 1693.6 L684.9 1694.1 L685.9 1693.6 L686.9 1694.2 L687.9 1695.3 L688.9 1695.0 L689.9 1694.1 L690.9 1693.9 L691.9 1693.7 L692.9 1693.5 L693.9 1694.2 L694.9 1693.9 L695.9 1692.9 L696.9 1692.9 L697.9 1692.5 L698.9 1691.8 L699.9 1692.5 L700.9 1692.9 L701.9 1692.5 L702.9 1693.5 L703.9 1693.7 L704.9 1692.3 L705.9 1692.4 L706.9 1694.3 L707.9 1695.0 L708.9 1693.9 L709.9 1693.2 L710.9 1693.1 L711.9 1693.6 L712.9 1693.8 L713.9 1693.6 L714.9 1695.0 L715.9 1696.8 L716.9 1696.0 L717.9 1694.2 L718.9 1693.2 L719.9 1692.5 L720.9 1692.6 L721.9 1692.6 L722.9 1691.8 L723.9 1692.1 L724.9 1693.9 L725.9 1693.8 L726.9 1692.8 L727.9 1693.6 L728.9 1693.6 L729.9 1693.0 L730.9 1692.8 L731.9 1692.3 L732.9 1692.6 L733.9 1692.9 L734.9 1692.4 L735.9 1692.0 L736.9 1693.0 L737.9 1694.4 L738.9 1694.5 L739.9 1693.7 L740.9 1693.0 L741.9 1692.4 L742.9 1692.4 L743.9 1692.3 L744.9 1692.1 L745.9 1692.6 L746.9 1693.0 L747.9 1693.4 L748.9 1693.6 L749.9 1692.6 L750.9 1692.2 L751.9 1692.6 L752.9 1692.5 L753.9 1692.6 L754.9 1692.4 L755.9 1692.2 L756.9 1692.4 L757.9 1692.2 L758.9 1692.6 L759.9 1693.6 L760.9 1693.7 L761.9 1694.0 L762.9 1694.3 L763.9 1693.7 L764.9 1693.5 L765.9 1693.2 L766.9 1692.0 L767.9 1692.4 L768.9 1693.6 L769.9 1693.4 L770.9 1692.8 L771.9 1693.2 L772.9 1693.4 L773.9 1693.4 L774.9 1693.2 L775.9 1692.5 L776.9 1692.6 L777.9 1692.6 L778.9 1691.6 L779.9 1691.9 L780.9 1692.5 L781.9 1691.4 L782.9 1691.4 L783.9 1692.8 L784.9 1693.3 L785.9 1692.4 L786.9 1691.9 L787.9 1692.5 L788.9 1693.1 L789.9 1693.4 L790.9 1692.1 L791.9 1690.4 L792.9 1691.0 L793.9 1692.5 L794.9 1693.1 L795.9 1692.7 L796.9 1691.8 L797.9 1691.5 L798.9 1692.2 L799.9 1693.0 L800.9 1693.0 L801.9 1692.7 L802.9 1692.8 L803.9 1692.5 L804.9 1691.7 L805.9 1690.5 L806.9 1690.8 L807.9 1691.9 L808.9 1692.1 L809.9 1692.7 L810.9 1692.2 L811.9 1690.8 L812.9 1690.8 L813.9 1691.1 L814.9 1690.3 L815.9 1689.7 L816.9 1690.5 L817.9 1690.5 L818.9 1689.9 L819.9 1690.0 L820.9 1690.8 L821.9 1691.6 L822.9 1690.9 L823.9 1689.8 L824.9 1689.2 L825.9 1689.0 L826.9 1689.5 L827.9 1689.9 L828.9 1689.9 L829.9 1689.8 L830.9 1690.1 L831.9 1689.7 L832.9 1688.5 L833.9 1688.3 L834.9 1688.6 L835.9 1688.4 L836.9 1688.1 L837.9 1688.2 L838.9 1688.6 L839.9 1688.8 L840.9 1688.7 L841.9 1688.9 L842.9 1689.3 L843.9 1689.1 L844.9 1688.5 L845.9 1688.4 L846.9 1688.6 L847.9 1688.8 L848.9 1689.0 L849.9 1688.8 L850.9 1688.9 L851.9 1689.2 L852.9 1689.3 L853.9 1689.5 L854.9 1689.7 L855.9 1689.6 L856.9 1689.3 L857.9 1689.5 L858.9 1690.0 L859.9 1690.5 L860.9 1690.5 L861.9 1690.4 L862.9 1690.5 L863.9 1690.3 L864.9 1690.2 L865.9 1690.2 L866.9 1690.1 L867.9 1689.7 L868.9 1689.8 L869.9 1690.4 L870.9 1690.4 L871.9 1690.1 L872.9 1689.9 L873.9 1689.9 L874.9 1689.6 L875.9 1688.9 L876.9 1688.8 L877.9 1688.6 L878.9 1687.9 L879.9 1687.3 L880.9 1687.1 L881.9 1687.1 L882.9 1686.7 L883.9 1686.2 L884.9 1685.7 L885.9 1685.2 L886.9 1684.3 L887.9 1683.3 L888.9 1682.4 L889.9 1681.8 L890.9 1680.9 L891.9 1679.8 L892.9 1678.7 L893.9 1677.6 L894.9 1676.6 L895.9 1675.7 L896.9 1674.5 L897.9 1673.5 L898.9 1672.9 L899.9 1672.4 L900.9 1671.7 L901.9 1670.9 L902.9 1670.6 L903.9 1670.7 L904.9 1670.7 L905.9 1670.7 L906.9 1671.2 L907.9 1672.1 L908.9 1672.4 L909.9 1672.5 L910.9 1673.4 L911.9 1674.5 L912.9 1674.8 L913.9 1675.0 L914.9 1675.8 L915.9 1676.5 L916.9 1676.7 L917.9 1676.7 L918.9 1676.2 L919.9 1675.4 L920.9 1674.4 L921.9 1673.5 L922.9 1673.2 L923.9 1673.0 L924.9 1673.3 L925.9 1674.4 L926.9 1675.3 L927.9 1675.8 L928.9 1675.9 L929.9 1675.7 L930.9 1675.3 L931.9 1674.6 L932.9 1674.0 L933.9 1673.6 L934.9 1673.0 L935.9 1672.6 L936.9 1672.3 L937.9 1671.8 L938.9 1671.6 L939.9 1671.9 L940.9 1672.9 L941.9 1674.3 L942.9 1676.2 L943.9 1678.1 L944.9 1679.4 L945.9 1680.0 L946.9 1680.1 L947.9 1680.3 L948.9 1680.7 L949.9 1680.8 L950.9 1680.8 L951.9 1681.1 L952.9 1681.0 L953.9 1680.9 L954.9 1681.2 L955.9 1681.4 L956.9 1681.5 L957.9 1681.2 L958.9 1680.7 L959.9 1680.8 L960.9 1681.5 L961.9 1681.8 L962.9 1682.2 L963.9 1682.8 L964.9 1683.5 L965.9 1684.2 L966.9 1685.1 L967.9 1685.9 L968.9 1686.2 L969.9 1686.0 L970.9 1685.5 L971.9 1685.0 L972.9 1684.6 L973.9 1684.3 L974.9 1684.4 L975.9 1685.1 L976.9 1686.1 L977.9 1687.1 L978.9 1687.7 L979.9 1687.8 L980.9 1686.1 L981.9 1682.9 L982.9 1679.0 L983.9 1675.0 L984.9 1670.9 L985.9 1665.9 L986.9 1661.9 L987.9 1660.9 L988.9 1662.4 L989.9 1665.3 L990.9 1668.7 L991.9 1672.0 L992.9 1674.3 L993.9 1674.8 L994.9 1673.5 L995.9 1670.7 L996.9 1666.9 L997.9 1662.5 L998.9 1657.9 L999.9 1653.3 L1000.9 1649.2 L1001.9 1645.8 L1002.9 1643.8 L1003.9 1643.3 L1004.9 1643.8 L1005.9 1644.9 L1006.9 1646.3 L1007.9 1647.6 L1008.9 1648.5 L1009.9 1648.5 L1010.9 1646.7 L1011.9 1643.7 L1012.9 1639.7 L1013.9 1634.9 L1014.9 1630.0 L1015.9 1625.3 L1016.9 1619.1 L1017.9 1611.5 L1018.9 1605.2 L1019.9 1603.2 L1020.9 1603.8 L1021.9 1605.2 L1022.9 1606.6 L1023.9 1607.4 L1024.9 1606.8 L1025.9 1602.6 L1026.9 1597.1 L1027.9 1592.7 L1028.9 1591.6 L1029.9 1592.4 L1030.9 1594.2 L1031.9 1596.4 L1032.9 1598.6 L1033.9 1600.4 L1034.9 1601.5 L1035.9 1602.1 L1036.9 1602.6 L1037.9 1603.1 L1038.9 1603.5 L1039.9 1604.1 L1040.9 1604.9 L1041.9 1606.2 L1042.9 1608.9 L1043.9 1612.8 L1044.9 1617.4 L1045.9 1622.2 L1046.9 1626.5 L1047.9 1630.3 L1048.9 1634.1 L1049.9 1637.9 L1050.9 1641.5 L1051.9 1645.1 L1052.9 1648.4 L1053.9 1651.2 L1054.9 1653.1 L1055.9 1654.4 L1056.9 1655.6 L1057.9 1656.7 L1058.9 1657.9 L1059.9 1658.9 L1060.9 1659.6 L1061.9 1659.8 L1062.9 1659.7 L1063.9 1659.2 L1064.9 1658.1 L1065.9 1657.0 L1066.9 1655.9 L1067.9 1654.8 L1068.9 1654.3 L1069.9 1654.7 L1070.9 1656.2 L1071.9 1657.9 L1072.9 1659.4 L1073.9 1659.9 L1074.9 1658.2 L1075.9 1655.8 L1076.9 1654.2 L1077.9 1655.8 L1078.9 1660.9 L1079.9 1665.5 L1080.9 1666.7 L1081.9 1667.5 L1082.9 1668.2 L1083.9 1668.7 L1084.9 1669.0 L1085.9 1669.5 L1086.9 1669.7 L1087.9 1670.0 L1088.9 1670.2 L1089.9 1670.2 L1090.9 1670.1 L1091.9 1670.1 L1092.9 1669.9 L1093.9 1669.6 L1094.9 1669.3 L1095.9 1669.0 L1096.9 1668.8 L1097.9 1668.5 L1098.9 1668.4 L1099.9 1668.4 L1100.9 1668.4 L1101.9 1668.5 L1102.9 1668.8 L1103.9 1669.1 L1104.9 1669.3 L1105.9 1669.5 L1106.9 1669.6 L1107.9 1669.5 L1108.9 1669.3 L1109.9 1669.0 L1110.9 1668.3 L1111.9 1667.5 L1112.9 1666.8 L1113.9 1666.1 L1114.9 1665.5 L1115.9 1665.2 L1116.9 1664.9 L1117.9 1664.6 L1118.9 1664.2 L1119.9 1663.2 L1120.9 1661.4 L1121.9 1659.7 L1122.9 1658.5 L1123.9 1656.9 L1124.9 1654.7 L1125.9 1652.3 L1126.9 1650.2 L1127.9 1648.5 L1128.9 1647.8 L1129.9 1648.8 L1130.9 1649.4 L1131.9 1648.5 L1132.9 1647.7 L1133.9 1647.6 L1134.9 1646.7 L1135.9 1644.8 L1136.9 1641.7 L1137.9 1634.6 L1138.9 1633.4 L1139.9 1637.7 L1140.9 1635.0 L1141.9 1630.5 L1142.9 1629.8 L1143.9 1630.4 L1144.9 1631.7 L1145.9 1632.9 L1146.9 1634.0 L1147.9 1635.0 L1148.9 1635.5 L1149.9 1634.0 L1150.9 1630.3 L1151.9 1626.3 L1152.9 1623.1 L1153.9 1619.8 L1154.9 1616.9 L1155.9 1615.0 L1156.9 1613.3 L1157.9 1611.6 L1158.9 1611.9 L1159.9 1617.3 L1160.9 1623.0 L1161.9 1622.0 L1162.9 1611.7 L1163.9 1609.1 L1164.9 1611.6 L1165.9 1613.4 L1166.9 1606.7 L1167.9 1605.5 L1168.9 1611.9 L1169.9 1611.1 L1170.9 1594.3 L1171.9 1597.9 L1172.9 1611.8 L1173.9 1607.5 L1174.9 1593.4"/>
<path stroke="#650000" d="M108.9 1692.0 L109.9 1692.0 L110.9 1692.2 L111.9 1691.9 L112.9 1691.7 L113.9 1692.2 L114.9 1692.4 L115.9 1692.7 L116.9 1693.0 L117.9 1692.4 L118.9 1691.8 L119.9 1692.0 L120.9 1692.3 L121.9 1692.0 L122.9 1692.2 L123.9 1692.3 L124.9 1692.1 L125.9 1692.4 L126.9 1692.5 L127.9 1692.2 L128.9 1692.3 L129.9 1692.4 L130.9 1692.0 L131.9 1692.2 L132.9 1692.8 L133.9 1692.5 L134.9 1692.1 L135.9 1692.7 L136.9 1693.1 L137.9 1692.6 L138.9 1692.8 L139.9 1693.1 L140.9 1692.9 L141.9 1692.8 L142.9 1692.9 L143.9 1693.5 L144.9 1693.5 L145.9 1692.7 L146.9 1692.6 L147.9 1692.7 L148.9 1692.7 L149.9 1692.6 L150.9 1692.6 L151.9 1692.8 L152.9 1692.8 L153.9 1692.8 L154.9 1693.1 L155.9 1693.0 L156.9 1692.7 L157.9 1692.9 L158.9 1693.1 L159.9 1693.0 L160.9 1693.0 L161.9 1692.4 L162.9 1692.2 L163.9 1692.4 L164.9 1692.5 L165.9 1692.8 L166.9 1692.9 L167.9 1692.7 L168.9 1692.0 L169.9 1691.9 L170.9 1692.2 L171.9 1692.1 L172.9 1692.1 L173.9 1691.9 L174.9 1692.1 L175.9 1692.3 L176.9 1691.8 L177.9 1691.3 L178.9 1691.6 L179.9 1692.0 L180.9 1692.0 L181.9 1691.9 L182.9 1691.8 L183.9 1691.6 L184.9 1691.3 L185.9 1691.2 L186.9 1691.6 L187.9 1691.3 L188.9 1690.8 L189.9 1691.3 L190.9 1692.2 L191.9 1692.2 L192.9 1691.6 L193.9 1691.7 L194.9 1692.2 L195.9 1692.2 L196.9 1692.1 L197.9 1692.2 L198.9 1692.3 L199.9 1692.3 L200.9 1692.5 L201.9 1692.8 L202.9 1693.0 L203.9 1693.2 L204.9 1693.5 L205.9 1694.0 L206.9 1694.3 L207.9 1693.8 L208.9 1693.5 L209.9 1693.6 L210.9 1693.5 L211.9 1693.4 L212.9 1693.7 L213.9 1694.1 L214.9 1694.3 L215.9 1694.3 L216.9 1694.4 L217.9 1694.2 L218.9 1693.6 L219.9 1693.2 L220.9 1693.0 L221.9 1693.0 L222.9 1693.0 L223.9 1692.6 L224.9 1692.1 L225.9 1692.1 L226.9 1692.3 L227.9 1691.9 L228.9 1691.4 L229.9 1691.1 L230.9 1691.0 L231.9 1690.7 L232.9 1690.1 L233.9 1689.4 L234.9 1689.4 L235.9 1690.0 L236.9 1689.9 L237.9 1689.2 L238.9 1689.2 L239.9 1689.7 L240.9 1689.8 L241.9 1688.7 L242.9 1687.8 L243.9 1687.8 L244.9 1688.1 L245.9 1688.1 L246.9 1687.7 L247.9 1688.0 L248.9 1687.8 L249.9 1686.9 L250.9 1686.4 L251.9 1686.0 L252.9 1685.5 L253.9 1685.2 L254.9 1684.8 L255.9 1684.4 L256.9 1684.5 L257.9 1684.4 L258.9 1683.7 L259.9 1683.1 L260.9 1682.9 L261.9 1682.9 L262.9 1682.7 L263.9 1682.3 L264.9 1681.4 L265.9 1680.6 L266.9 1680.5 L267.9 1680.2 L268.9 1679.9 L269.9 1678.8 L270.9 1677.1 L271.9 1676.4 L272.9 1676.5 L273.9 1675.6 L274.9 1674.6 L275.9 1674.6 L276.9 1674.8 L277.9 1674.0 L278.9 1673.0 L279.9 1672.7 L280.9 1672.3 L281.9 1671.8 L282.9 1671.2 L283.9 1670.5 L284.9 1670.4 L285.9 1669.9 L286.9 1668.8 L287.9 1667.8 L288.9 1666.9 L289.9 1666.3 L290.9 1666.2 L291.9 1665.9 L292.9 1665.1 L293.9 1664.1 L294.9 1663.1 L295.9 1662.1 L296.9 1661.3 L297.9 1660.7 L298.9 1660.3 L299.9 1659.7 L300.9 1659.0 L301.9 1658.3 L302.9 1657.8 L303.9 1657.3 L304.9 1656.3 L305.9 1655.0 L306.9 1653.6 L307.9 1652.5 L308.9 1651.8 L309.9 1651.7 L310.9 1651.4 L311.9 1650.9 L312.9 1650.9 L313.9 1650.3 L314.9 1649.9 L315.9 1650.6 L316.9 1651.1 L317.9 1650.8 L318.9 1651.0 L319.9 1651.6 L320.9 1651.5 L321.9 1651.6 L322.9 1651.4 L323.9 1650.9 L324.9 1650.6 L325.9 1650.0 L326.9 1649.7 L327.9 1649.8 L328.9 1649.4 L329.9 1649.6 L330.9 1650.5 L331.9 1651.1 L332.9 1651.2 L333.9 1651.2 L334.9 1651.3 L335.9 1651.7 L336.9 1651.7 L337.9 1652.1 L338.9 1653.4 L339.9 1654.8 L340.9 1655.4 L341.9 1655.9 L342.9 1656.6 L343.9 1656.9 L344.9 1657.0 L345.9 1658.0 L346.9 1658.9 L347.9 1659.4 L348.9 1659.7 L349.9 1660.1 L350.9 1661.0 L351.9 1661.6 L352.9 1661.8 L353.9 1662.2 L354.9 1662.6 L355.9 1663.0 L356.9 1663.5 L357.9 1664.3 L358.9 1664.8 L359.9 1665.1 L360.9 1665.6 L361.9 1666.1 L362.9 1666.5 L363.9 1667.0 L364.9 1667.5 L365.9 1668.1 L366.9 1668.9 L367.9 1669.3 L368.9 1669.2 L369.9 1668.7 L370.9 1668.7 L371.9 1669.9 L372.9 1670.9 L373.9 1671.1 L374.9 1671.7 L375.9 1672.0 L376.9 1671.7 L377.9 1672.1 L378.9 1672.7 L379.9 1672.6 L380.9 1672.5 L381.9 1672.7 L382.9 1673.1 L383.9 1673.6 L384.9 1674.1 L385.9 1674.3 L386.9 1674.4 L387.9 1674.8 L388.9 1675.2 L389.9 1674.9 L390.9 1674.5 L391.9 1674.2 L392.9 1674.1 L393.9 1674.6 L394.9 1675.1 L395.9 1675.4 L396.9 1675.5 L397.9 1675.2 L398.9 1675.3 L399.9 1676.2 L400.9 1676.5 L401.9 1676.6 L402.9 1677.4 L403.9 1678.0 L404.9 1677.8 L405.9 1677.7 L406.9 1678.4 L407.9 1678.6 L408.9 1678.8 L409.9 1679.1 L410.9 1679.4 L411.9 1679.8 L412.9 1679.9 L413.9 1680.1 L414.9 1680.6 L415.9 1680.6 L416.9 1680.4 L417.9 1680.1 L418.9 1679.7 L419.9 1679.3 L420.9 1679.4 L421.9 1679.4 L422.9 1679.4 L423.9 1679.5 L424.9 1679.0 L425.9 1678.3 L426.9 1678.4 L427.9 1678.7 L428.9 1678.5 L429.9 1678.0 L430.9 1677.6 L431.9 1677.8 L432.9 1677.9 L433.9 1677.6 L434.9 1677.0 L435.9 1675.9 L436.9 1675.0 L437.9 1674.9 L438.9 1675.1 L439.9 1674.9 L440.9 1674.3 L441.9 1673.6 L442.9 1673.0 L443.9 1672.3 L444.9 1672.0 L445.9 1671.5 L446.9 1671.4 L447.9 1671.6 L448.9 1671.5 L449.9 1671.0 L450.9 1671.0 L451.9 1671.6 L452.9 1671.5 L453.9 1671.2 L454.9 1671.3 L455.9 1671.7 L456.9 1672.1 L457.9 1672.3 L458.9 1672.4 L459.9 1672.5 L460.9 1672.7 L461.9 1673.3 L462.9 1673.2 L463.9 1672.7 L464.9 1673.2 L465.9 1673.8 L466.9 1673.7 L467.9 1673.7 L468.9 1674.1 L469.9 1674.5 L470.9 1674.6 L471.9 1675.2 L472.9 1675.9 L473.9 1676.1 L474.9 1676.0 L475.9 1676.1 L476.9 1676.3 L477.9 1676.5 L478.9 1676.4 L479.9 1676.4 L480.9 1676.8 L481.9 1676.8 L482.9 1677.1 L483.9 1677.5 L484.9 1677.4 L485.9 1677.2 L486.9 1677.6 L487.9 1678.2 L488.9 1678.5 L489.9 1678.2 L490.9 1677.8 L491.9 1678.0 L492.9 1678.5 L493.9 1678.5 L494.9 1678.1 L495.9 1678.2 L496.9 1678.8 L497.9 1679.1 L498.9 1678.7 L499.9 1678.6 L500.9 1679.2 L501.9 1679.3 L502.9 1678.8 L503.9 1678.3 L504.9 1678.5 L505.9 1679.1 L506.9 1679.2 L507.9 1678.8 L508.9 1678.4 L509.9 1678.5 L510.9 1679.1 L511.9 1679.6 L512.9 1679.5 L513.9 1679.0 L514.9 1679.2 L515.9 1679.8 L516.9 1680.3 L517.9 1680.3 L518.9 1679.8 L519.9 1679.7 L520.9 1680.1 L521.9 1680.3 L522.9 1680.1 L523.9 1680.0 L524.9 1680.0 L525.9 1680.1 L526.9 1680.0 L527.9 1680.1 L528.9 1680.7 L529.9 1680.9 L530.9 1680.3 L531.9 1680.0 L532.9 1680.0 L533.9 1680.7 L534.9 1681.2 L535.9 1681.4 L536.9 1681.3 L537.9 1680.4 L538.9 1679.9 L539.9 1680.1 L540.9 1680.4 L541.9 1681.3 L542.9 1681.7 L543.9 1681.2 L544.9 1681.4 L545.9 1682.4 L546.9 1682.7 L547.9 1682.1 L548.9 1682.1 L549.9 1682.2 L550.9 1681.8 L551.9 1681.5 L552.9 1681.1 L553.9 1680.7 L554.9 1681.2 L555.9 1682.2 L556.9 1682.5 L557.9 1681.7 L558.9 1681.3 L559.9 1681.9 L560.9 1682.3 L561.9 1682.5 L562.9 1681.8 L563.9 1681.0 L564.9 1681.0 L565.9 1681.7 L566.9 1681.8 L567.9 1680.7 L568.9 1680.7 L569.9 1680.9 L570.9 1680.7 L571.9 1681.7 L572.9 1682.7 L573.9 1682.9 L574.9 1682.7 L575.9 1682.5 L576.9 1682.4 L577.9 1682.0 L578.9 1682.0 L579.9 1682.2 L580.9 1682.4 L581.9 1682.2 L582.9 1681.8 L583.9 1681.7 L584.9 1681.8 L585.9 1682.1 L586.9 1682.2 L587.9 1682.3 L588.9 1683.6 L589.9 1684.3 L590.9 1683.4 L591.9 1682.4 L592.9 1681.9 L593.9 1681.9 L594.9 1682.4 L595.9 1682.8 L596.9 1682.9 L597.9 1683.2 L598.9 1683.0 L599.9 1681.8 L600.9 1680.9 L601.9 1680.8 L602.9 1681.3 L603.9 1682.6 L604.9 1683.1 L605.9 1682.6 L606.9 1682.7 L607.9 1683.2 L608.9 1684.3 L609.9 1685.2 L610.9 1684.4 L611.9 1683.5 L612.9 1683.7 L613.9 1683.8 L614.9 1682.7 L615.9 1682.1 L616.9 1683.2 L617.9 1683.8 L618.9 1683.4 L619.9 1684.3 L620.9 1684.8 L621.9 1683.2 L622.9 1680.9 L623.9 1679.5 L624.9 1680.5 L625.9 1682.6 L626.9 1683.3 L627.9 1682.5 L628.9 1682.0 L629.9 1683.1 L630.9 1684.0 L631.9 1682.3 L632.9 1681.8 L633.9 1682.8 L634.9 1682.9 L635.9 1683.0 L636.9 1683.2 L637.9 1684.0 L638.9 1684.3 L639.9 1683.2 L640.9 1682.5 L641.9 1682.7 L642.9 1683.3 L643.9 1682.9 L644.9 1682.5 L645.9 1683.3 L646.9 1683.6 L647.9 1683.1 L648.9 1683.2 L649.9 1683.5 L650.9 1682.8 L651.9 1682.3 L652.9 1683.0 L653.9 1683.5 L654.9 1683.0 L655.9 1682.4 L656.9 1682.1 L657.9 1682.2 L658.9 1683.4 L659.9 1684.0 L660.9 1682.7 L661.9 1682.6 L662.9 1683.1 L663.9 1682.5 L664.9 1682.6 L665.9 1684.1 L666.9 1685.3 L667.9 1685.1 L668.9 1684.0 L669.9 1683.7 L670.9 1683.5 L671.9 1682.5 L672.9 1683.1 L673.9 1684.8 L674.9 1684.9 L675.9 1685.3 L676.9 1686.7 L677.9 1684.9 L678.9 1683.6 L679.9 1684.3 L680.9 1684.8 L681.9 1683.7 L682.9 1682.9 L683.9 1684.4 L684.9 1685.8 L685.9 1685.4 L686.9 1683.4 L687.9 1681.8 L688.9 1682.0 L689.9 1683.7 L690.9 1685.0 L691.9 1684.1 L692.9 1683.8 L693.9 1684.9 L694.9 1685.3 L695.9 1684.8 L696.9 1684.5 L697.9 1685.1 L698.9 1684.4 L699.9 1683.3 L700.9 1683.0 L701.9 1682.1 L702.9 1681.7 L703.9 1682.0 L704.9 1682.1 L705.9 1682.3 L706.9 1682.6 L707.9 1682.6 L708.9 1683.1 L709.9 1683.8 L710.9 1683.2 L711.9 1682.8 L712.9 1682.9 L713.9 1682.9 L714.9 1684.0 L715.9 1685.6 L716.9 1685.7 L717.9 1685.4 L718.9 1684.7 L719.9 1684.1 L720.9 1684.5 L721.9 1684.6 L722.9 1684.9 L723.9 1686.5 L724.9 1687.8 L725.9 1687.8 L726.9 1688.1 L727.9 1687.6 L728.9 1686.9 L729.9 1687.5 L730.9 1687.8 L731.9 1688.5 L732.9 1688.7 L733.9 1689.0 L734.9 1690.0 L735.9 1688.7 L736.9 1686.2 L737.9 1685.3 L738.9 1686.5 L739.9 1688.1 L740.9 1688.6 L741.9 1688.6 L742.9 1688.7 L743.9 1688.2 L744.9 1686.5 L745.9 1685.4 L746.9 1686.5 L747.9 1687.3 L748.9 1685.9 L749.9 1684.8 L750.9 1686.0 L751.9 1687.5 L752.9 1687.3 L753.9 1686.5 L754.9 1685.4 L755.9 1684.9 L756.9 1686.4 L757.9 1687.7 L758.9 1687.3 L759.9 1686.8 L760.9 1685.7 L761.9 1685.1 L762.9 1685.4 L763.9 1684.9 L764.9 1684.8 L765.9 1685.7 L766.9 1684.9 L767.9 1683.9 L768.9 1685.0 L769.9 1685.0 L770.9 1684.1 L771.9 1684.7 L772.9 1685.7 L773.9 1685.8 L774.9 1685.0 L775.9 1684.4 L776.9 1685.1 L777.9 1686.4 L778.9 1686.8 L779.9 1686.0 L780.9 1685.6 L781.9 1685.3 L782.9 1683.8 L783.9 1682.6 L784.9 1683.0 L785.9 1683.8 L786.9 1684.1 L787.9 1683.8 L788.9 1683.1 L789.9 1683.0 L790.9 1682.9 L791.9 1682.5 L792.9 1681.9 L793.9 1681.7 L794.9 1682.4 L795.9 1682.9 L796.9 1682.6 L797.9 1682.7 L798.9 1682.6 L799.9 1682.0 L800.9 1681.7 L801.9 1682.2 L802.9 1682.5 L803.9 1682.2 L804.9 1681.7 L805.9 1682.0 L806.9 1683.4 L807.9 1683.4 L808.9 1682.3 L809.9 1683.0 L810.9 1683.9 L811.9 1682.8 L812.9 1681.6 L813.9 1681.9 L814.9 1682.3 L815.9 1682.6 L816.9 1682.1 L817.9 1681.4 L818.9 1682.0 L819.9 1682.9 L820.9 1682.8 L821.9 1682.4 L822.9 1682.4 L823.9 1682.0 L824.9 1681.4 L825.9 1680.1 L826.9 1678.9 L827.9 1679.4 L828.9 1679.7 L829.9 1678.7 L830.9 1677.9 L831.9 1677.1 L832.9 1676.5 L833.9 1675.9 L834.9 1675.4 L835.9 1674.9 L836.9 1674.7 L837.9 1675.4 L838.9 1676.5 L839.9 1676.6 L840.9 1676.3 L841.9 1676.4 L842.9 1676.0 L843.9 1675.3 L844.9 1675.5 L845.9 1675.9 L846.9 1676.3 L847.9 1676.4 L848.9 1676.2 L849.9 1676.5 L850.9 1676.9 L851.9 1677.0 L852.9 1677.1 L853.9 1677.2 L854.9 1677.5 L855.9 1677.6 L856.9 1677.7 L857.9 1677.9 L858.9 1678.1 L859.9 1678.2 L860.9 1678.5 L861.9 1678.8 L862.9 1679.0 L863.9 1679.1 L864.9 1679.2 L865.9 1679.2 L866.9 1679.3 L867.9 1679.2 L868.9 1679.0 L869.9 1678.9 L870.9 1679.2 L871.9 1679.2 L872.9 1678.8 L873.9 1678.5 L874.9 1678.3 L875.9 1678.1 L876.9 1678.0 L877.9 1677.5 L878.9 1676.8 L879.9 1676.2 L880.9 1675.9 L881.9 1675.8 L882.9 1675.4 L883.9 1674.7 L884.9 1673.8 L885.9 1672.9 L886.9 1671.5 L887.9 1669.7 L888.9 1668.2 L889.9 1666.4 L890.9 1664.5 L891.9 1662.8 L892.9 1661.6 L893.9 1660.7 L894.9 1659.3 L895.9 1657.9 L896.9 1656.9 L897.9 1656.0 L898.9 1654.9 L899.9 1653.8 L900.9 1652.8 L901.9 1651.9 L902.9 1651.1 L903.9 1650.8 L904.9 1651.1 L905.9 1651.4 L906.9 1651.9 L907.9 1652.7 L908.9 1654.0 L909.9 1655.2 L910.9 1656.1 L911.9 1657.3 L912.9 1658.5 L913.9 1659.6 L914.9 1660.4 L915.9 1660.9 L916.9 1661.3 L917.9 1661.3 L918.9 1660.4 L919.9 1658.5 L920.9 1656.5 L921.9 1654.8 L922.9 1653.8 L923.9 1654.0 L924.9 1654.9 L925.9 1655.6 L926.9 1656.3 L927.9 1657.2 L928.9 1657.5 L929.9 1657.2 L930.9 1656.3 L931.9 1655.3 L932.9 1654.0 L933.9 1652.6 L934.9 1651.6 L935.9 1650.8 L936.9 1649.9 L937.9 1648.9 L938.9 1648.3 L939.9 1648.4 L940.9 1649.9 L941.9 1652.4 L942.9 1654.9 L943.9 1657.3 L944.9 1659.6 L945.9 1661.1 L946.9 1661.8 L947.9 1662.1 L948.9 1662.3 L949.9 1662.5 L950.9 1662.9 L951.9 1663.3 L952.9 1663.5 L953.9 1664.0 L954.9 1664.5 L955.9 1665.0 L956.9 1665.1 L957.9 1665.1 L958.9 1665.3 L959.9 1665.7 L960.9 1666.1 L961.9 1666.5 L962.9 1667.0 L963.9 1667.6 L964.9 1668.5 L965.9 1669.4 L966.9 1671.3 L967.9 1673.3 L968.9 1674.6 L969.9 1674.6 L970.9 1673.7 L971.9 1672.2 L972.9 1671.0 L973.9 1670.4 L974.9 1670.8 L975.9 1672.2 L976.9 1674.0 L977.9 1675.4 L978.9 1675.7 L979.9 1673.6 L980.9 1669.5 L981.9 1664.4 L982.9 1659.1 L983.9 1653.2 L984.9 1644.7 L985.9 1636.0 L986.9 1629.8 L987.9 1628.4 L988.9 1631.9 L989.9 1637.6 L990.9 1642.6 L991.9 1647.6 L992.9 1652.3 L993.9 1654.3 L994.9 1652.2 L995.9 1647.4 L996.9 1641.2 L997.9 1634.7 L998.9 1628.3 L999.9 1620.3 L1000.9 1611.7 L1001.9 1603.9 L1002.9 1598.2 L1003.9 1596.4 L1004.9 1597.7 L1005.9 1600.1 L1006.9 1603.0 L1007.9 1605.9 L1008.9 1607.6 L1009.9 1607.4 L1010.9 1604.9 L1011.9 1600.3 L1012.9 1594.5 L1013.9 1587.8 L1014.9 1577.8 L1015.9 1562.0 L1016.9 1545.8 L1017.9 1535.0 L1018.9 1528.2 L1019.9 1523.2 L1020.9 1522.2 L1021.9 1525.3 L1022.9 1529.7 L1023.9 1532.1 L1024.9 1529.2 L1025.9 1521.5 L1026.9 1512.3 L1027.9 1505.2 L1028.9 1503.4 L1029.9 1505.8 L1030.9 1510.0 L1031.9 1514.0 L1032.9 1518.5 L1033.9 1522.6 L1034.9 1523.6 L1035.9 1523.7 L1036.9 1523.8 L1037.9 1524.3 L1038.9 1525.5 L1039.9 1527.3 L1040.9 1529.5 L1041.9 1532.0 L1042.9 1535.3 L1043.9 1540.3 L1044.9 1546.5 L1045.9 1553.1 L1046.9 1559.6 L1047.9 1565.6 L1048.9 1571.6 L1049.9 1578.1 L1050.9 1584.6 L1051.9 1590.5 L1052.9 1596.0 L1053.9 1601.0 L1054.9 1605.7 L1055.9 1610.0 L1056.9 1613.9 L1057.9 1617.3 L1058.9 1620.0 L1059.9 1622.5 L1060.9 1624.8 L1061.9 1626.8 L1062.9 1628.2 L1063.9 1629.2 L1064.9 1629.0 L1065.9 1626.9 L1066.9 1623.7 L1067.9 1620.7 L1068.9 1619.0 L1069.9 1620.0 L1070.9 1623.1 L1071.9 1626.9 L1072.9 1630.0 L1073.9 1630.9 L1074.9 1626.6 L1075.9 1621.1 L1076.9 1620.7 L1077.9 1628.6 L1078.9 1637.0 L1079.9 1639.2 L1080.9 1640.5 L1081.9 1641.5 L1082.9 1642.2 L1083.9 1642.6 L1084.9 1643.1 L1085.9 1643.6 L1086.9 1644.0 L1087.9 1644.4 L1088.9 1644.9 L1089.9 1645.3 L1090.9 1645.6 L1091.9 1645.8 L1092.9 1645.9 L1093.9 1645.8 L1094.9 1645.8 L1095.9 1645.6 L1096.9 1645.3 L1097.9 1645.2 L1098.9 1644.9 L1099.9 1644.7 L1100.9 1644.5 L1101.9 1644.3 L1102.9 1644.2 L1103.9 1644.0 L1104.9 1643.7 L1105.9 1643.5 L1106.9 1643.5 L1107.9 1643.2 L1108.9 1642.4 L1109.9 1641.2 L1110.9 1639.8 L1111.9 1639.1 L1112.9 1639.2 L1113.9 1639.6 L1114.9 1639.8 L1115.9 1639.7 L1116.9 1639.0 L1117.9 1637.7 L1118.9 1635.9 L1119.9 1634.0 L1120.9 1631.5 L1121.9 1626.9 L1122.9 1622.0 L1123.9 1617.5 L1124.9 1613.8 L1125.9 1611.9 L1126.9 1610.2 L1127.9 1608.4 L1128.9 1607.5 L1129.9 1607.2 L1130.9 1606.3 L1131.9 1604.4 L1132.9 1603.2 L1133.9 1602.0 L1134.9 1599.7 L1135.9 1596.2 L1136.9 1592.3 L1137.9 1587.6 L1138.9 1582.1 L1139.9 1576.6 L1140.9 1572.4 L1141.9 1571.5 L1142.9 1572.9 L1143.9 1574.8 L1144.9 1576.3 L1145.9 1577.8 L1146.9 1578.6 L1147.9 1577.4 L1148.9 1575.4 L1149.9 1573.1 L1150.9 1570.3 L1151.9 1566.3 L1152.9 1561.2 L1153.9 1555.2 L1154.9 1548.3 L1155.9 1542.3 L1156.9 1538.8 L1157.9 1537.9 L1158.9 1540.9 L1159.9 1545.0 L1160.9 1544.7 L1161.9 1539.6 L1162.9 1535.3 L1163.9 1534.9 L1164.9 1535.5 L1165.9 1537.1 L1166.9 1539.1 L1167.9 1540.5 L1168.9 1541.2 L1169.9 1540.7 L1170.9 1534.8 L1171.9 1527.0 L1172.9 1517.1 L1173.9 1509.0 L1174.9 1511.6 L1175.3 1516.6"/>
</g>
<rect x="107.0" y="1224.4" width="1069.4" height="478.5" fill="none" stroke="#000" stroke-width="2.5"/>
<line x1="98.0" y1="1702.9" x2="107.0" y2="1702.9" stroke="#000" stroke-width="2.5"/>
<text class="b" transform="translate(91.0,1710.9) scale(1,1.08)" font-size="24" text-anchor="end">0</text>
<line x1="98.0" y1="1646.6" x2="107.0" y2="1646.6" stroke="#000" stroke-width="2.5"/>
<text class="b" transform="translate(91.0,1654.6) scale(1,1.08)" font-size="24" text-anchor="end">0.02</text>
<line x1="98.0" y1="1590.3" x2="107.0" y2="1590.3" stroke="#000" stroke-width="2.5"/>
<text class="b" transform="translate(91.0,1598.3) scale(1,1.08)" font-size="24" text-anchor="end">0.04</text>
<line x1="98.0" y1="1534.0" x2="107.0" y2="1534.0" stroke="#000" stroke-width="2.5"/>
<text class="b" transform="translate(91.0,1542.0) scale(1,1.08)" font-size="24" text-anchor="end">0.06</text>
<line x1="98.0" y1="1477.7" x2="107.0" y2="1477.7" stroke="#000" stroke-width="2.5"/>
<text class="b" transform="translate(91.0,1485.7) scale(1,1.08)" font-size="24" text-anchor="end">0.08</text>
<line x1="98.0" y1="1421.4" x2="107.0" y2="1421.4" stroke="#000" stroke-width="2.5"/>
<text class="b" transform="translate(91.0,1429.4) scale(1,1.08)" font-size="24" text-anchor="end">0.1</text>
<line x1="98.0" y1="1365.1" x2="107.0" y2="1365.1" stroke="#000" stroke-width="2.5"/>
<text class="b" transform="translate(91.0,1373.1) scale(1,1.08)" font-size="24" text-anchor="end">0.12</text>
<line x1="98.0" y1="1308.8" x2="107.0" y2="1308.8" stroke="#000" stroke-width="2.5"/>
<text class="b" transform="translate(91.0,1316.8) scale(1,1.08)" font-size="24" text-anchor="end">0.14</text>
<line x1="98.0" y1="1252.5" x2="107.0" y2="1252.5" stroke="#000" stroke-width="2.5"/>
<text class="b" transform="translate(91.0,1260.5) scale(1,1.08)" font-size="24" text-anchor="end">0.16</text>
<line x1="107.0" y1="1702.9" x2="107.0" y2="1711.6000000000001" stroke="#000" stroke-width="2.5"/>
<text class="b" transform="translate(107.0,1736.9) scale(1,1.08)" font-size="24" text-anchor="middle">4000</text>
<line x1="262.0" y1="1702.9" x2="262.0" y2="1711.6000000000001" stroke="#000" stroke-width="2.5"/>
<text class="b" transform="translate(262.0,1736.9) scale(1,1.08)" font-size="24" text-anchor="middle">3500</text>
<line x1="416.9" y1="1702.9" x2="416.9" y2="1711.6000000000001" stroke="#000" stroke-width="2.5"/>
<text class="b" transform="translate(416.9,1736.9) scale(1,1.08)" font-size="24" text-anchor="middle">3000</text>
<line x1="571.9" y1="1702.9" x2="571.9" y2="1711.6000000000001" stroke="#000" stroke-width="2.5"/>
<text class="b" transform="translate(571.9,1736.9) scale(1,1.08)" font-size="24" text-anchor="middle">2500</text>
<line x1="726.9" y1="1702.9" x2="726.9" y2="1711.6000000000001" stroke="#000" stroke-width="2.5"/>
<text class="b" transform="translate(726.9,1736.9) scale(1,1.08)" font-size="24" text-anchor="middle">2000</text>
<line x1="881.8" y1="1702.9" x2="881.8" y2="1711.6000000000001" stroke="#000" stroke-width="2.5"/>
<text class="b" transform="translate(881.8,1736.9) scale(1,1.08)" font-size="24" text-anchor="middle">1500</text>
<line x1="1036.8" y1="1702.9" x2="1036.8" y2="1711.6000000000001" stroke="#000" stroke-width="2.5"/>
<text class="b" transform="translate(1036.8,1736.9) scale(1,1.08)" font-size="24" text-anchor="middle">1000</text>
<text class="b" transform="translate(641.7,1779.9) scale(1,1.08)" font-size="24" text-anchor="middle">Wavelength (cm<tspan font-size="15" dy="-9.5">-1</tspan><tspan dy="9.5">)</tspan></text>
<text class="b" transform="translate(27.4,1463.7) rotate(-90)" x="0" y="0" font-size="28" text-anchor="middle">Absorbance (%)</text>
<text class="b" transform="translate(4.2,1238.7) scale(1,1.08)" font-size="26.8">(c)</text>
<line x1="126.3" y1="1252.2" x2="181.0" y2="1252.2" stroke="#000000" stroke-width="2.5" stroke-linecap="round"/>
<text class="b" transform="translate(187.1,1260.3) scale(1,1.08)" font-size="24">White paper reference</text>
<line x1="126.3" y1="1282.0" x2="181.0" y2="1282.0" stroke="#ff0000" stroke-width="2.5" stroke-linecap="round"/>
<text class="b" transform="translate(187.1,1290.1) scale(1,1.08)" font-size="24">Plasma-treated red</text>
<line x1="126.3" y1="1312.2" x2="181.0" y2="1312.2" stroke="#650000" stroke-width="2.5" stroke-linecap="round"/>
<text class="b" transform="translate(187.1,1320.3) scale(1,1.08)" font-size="24">Untreated red</text>
<text transform="translate(238.0,1471.5) scale(1,1.08)" font-size="24">O-H</text>
<text transform="translate(375.8,1474.0) scale(1,1.08)" font-size="24">C-H</text>
<text transform="translate(756.8,1298.0) scale(1,1.08)" font-size="24">C-H</text>
<text transform="translate(755.9,1332.8) scale(1,1.08)" font-size="24">CH<tspan font-size="16" dy="6">2</tspan></text>
<text transform="translate(1083.8,1404.0) scale(1,1.08)" font-size="24">C-O-C</text>
<text transform="translate(1077.0,1445.8) scale(1,1.08)" font-size="24">C-O</text>
<text transform="translate(688.5,1473.2) scale(1,1.08)" font-size="24">C=N/C=O</text>
<text transform="translate(666.0,1554.8) scale(1,1.08)" font-size="24">Benzene ring</text>
<text transform="translate(708.7,1584.4) scale(1,1.08)" font-size="24">C=C</text>
</svg></body></html>
